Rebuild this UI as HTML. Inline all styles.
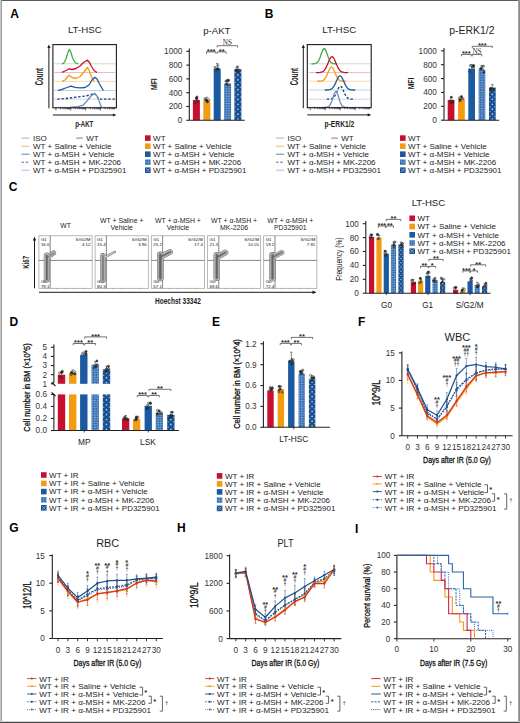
<!DOCTYPE html>
<html><head><meta charset="utf-8"><title>Figure</title><style>html,body{margin:0;padding:0;background:#fff;width:520px;height:723px;overflow:hidden}svg{display:block}</style></head><body>
<svg width="520" height="723" viewBox="0 0 520 723" font-family='"Liberation Sans", sans-serif'>
<defs><pattern id="hatch" patternUnits="userSpaceOnUse" width="2.4" height="2.4" patternTransform="rotate(45)"><rect width="2.4" height="2.4" fill="#7fb0e6"/><rect width="1.2" height="1.2" fill="#1f5494"/><rect x="1.2" y="1.2" width="1.2" height="1.2" fill="#1f5494"/></pattern><pattern id="dots" patternUnits="userSpaceOnUse" width="4" height="4"><rect width="4" height="4" fill="#1a4f8f"/><circle cx="1" cy="1" r="0.6" fill="#e6eef8"/><circle cx="3" cy="3" r="0.6" fill="#e6eef8"/></pattern></defs>
<rect x="0.00" y="0.00" width="520.00" height="723.00" fill="#fff" />
<text transform="translate(10.30,17.90)" font-size="12" text-anchor="start" font-weight="bold" fill="#000" >A</text>
<text x="67.90" y="32.60" font-size="9.8" textLength="33.90" lengthAdjust="spacingAndGlyphs" font-weight="normal" fill="#1e1e1e">LT-HSC</text>
<line x1="54.40" y1="63.80" x2="115.40" y2="63.80" stroke="#b9dcb9" stroke-width="0.9" />
<polyline points="62.00,63.80 64.00,62.80 66.00,59.00 67.80,53.00 69.20,49.40 70.80,52.00 72.60,58.00 75.00,62.50 78.00,63.80" fill="none" stroke="#4aa84a" stroke-width="1.3"  stroke-linejoin="round"/>
<line x1="54.40" y1="72.50" x2="115.40" y2="72.50" stroke="#e7b3bf" stroke-width="0.9" />
<polyline points="62.00,72.40 66.00,70.50 69.00,68.80 72.00,69.50 76.00,68.50 80.00,66.00 83.00,63.00 85.00,61.50 87.50,60.20 89.50,62.50 91.50,66.50 94.00,70.50 97.00,72.50" fill="none" stroke="#c8102e" stroke-width="1.3"  stroke-linejoin="round"/>
<line x1="54.40" y1="81.40" x2="115.40" y2="81.40" stroke="#f7d3a6" stroke-width="0.9" />
<polyline points="62.00,81.30 65.00,80.00 67.00,77.50 69.00,75.30 72.00,77.50 76.00,78.50 80.00,76.50 84.00,72.00 87.50,67.40 89.50,71.00 91.50,77.00 94.00,81.40" fill="none" stroke="#f39c12" stroke-width="1.3"  stroke-linejoin="round"/>
<line x1="54.40" y1="90.50" x2="115.40" y2="90.50" stroke="#b8c9e0" stroke-width="0.9" />
<polyline points="58.00,90.30 62.00,89.30 67.00,87.50 71.00,86.20 75.00,87.30 80.00,87.80 85.00,87.50 89.00,85.00 92.00,80.00 94.80,77.20 97.00,79.00 99.50,84.00 103.40,90.50" fill="none" stroke="#1b5aa0" stroke-width="1.3"  stroke-linejoin="round"/>
<line x1="54.40" y1="99.10" x2="115.40" y2="99.10" stroke="#c5d3e6" stroke-width="0.9" />
<polyline points="57.30,99.10 66.00,98.50 74.00,97.50 82.00,96.50 88.00,95.50 92.00,94.00 94.00,93.00 96.50,95.50 99.00,99.10 104.00,99.10 115.00,99.10" fill="none" stroke="#1a3f73" stroke-width="1.3" stroke-dasharray="2.4,1.8" stroke-linejoin="round"/>
<line x1="54.40" y1="107.30" x2="115.40" y2="107.30" stroke="#b8c9e0" stroke-width="0.9" />
<polyline points="70.00,107.30 78.00,106.60 83.00,105.20 87.00,101.00 91.00,96.00 94.80,93.40 97.00,96.00 99.50,102.00 101.50,107.30" fill="none" stroke="#6b8fbf" stroke-width="1.3"  stroke-linejoin="round"/>
<rect x="52.90" y="44.60" width="63.50" height="63.20" fill="none" stroke="#1a1a1a" stroke-width="1.1"/>
<line x1="48.90" y1="108.30" x2="48.90" y2="47.60" stroke="#1a1a1a" stroke-width="1.0" />
<path d="M47.30,48.10 L48.90,44.60 L50.50,48.10 Z" fill="#1a1a1a"/>
<line x1="52.90" y1="115.00" x2="113.40" y2="115.00" stroke="#1a1a1a" stroke-width="1.0" />
<path d="M112.90,113.40 L116.40,115.00 L112.90,116.60 Z" fill="#1a1a1a"/>
<line x1="55.90" y1="107.80" x2="55.90" y2="110.40" stroke="#222" stroke-width="0.7" />
<line x1="60.38" y1="107.80" x2="60.38" y2="109.30" stroke="#222" stroke-width="0.7" />
<line x1="63.00" y1="107.80" x2="63.00" y2="109.30" stroke="#222" stroke-width="0.7" />
<line x1="64.86" y1="107.80" x2="64.86" y2="109.30" stroke="#222" stroke-width="0.7" />
<line x1="66.30" y1="107.80" x2="66.30" y2="109.30" stroke="#222" stroke-width="0.7" />
<line x1="67.47" y1="107.80" x2="67.47" y2="109.30" stroke="#222" stroke-width="0.7" />
<line x1="68.47" y1="107.80" x2="68.47" y2="109.30" stroke="#222" stroke-width="0.7" />
<line x1="69.33" y1="107.80" x2="69.33" y2="109.30" stroke="#222" stroke-width="0.7" />
<line x1="70.09" y1="107.80" x2="70.09" y2="109.30" stroke="#222" stroke-width="0.7" />
<line x1="70.78" y1="107.80" x2="70.78" y2="110.40" stroke="#222" stroke-width="0.7" />
<line x1="75.25" y1="107.80" x2="75.25" y2="109.30" stroke="#222" stroke-width="0.7" />
<line x1="77.87" y1="107.80" x2="77.87" y2="109.30" stroke="#222" stroke-width="0.7" />
<line x1="79.73" y1="107.80" x2="79.73" y2="109.30" stroke="#222" stroke-width="0.7" />
<line x1="81.17" y1="107.80" x2="81.17" y2="109.30" stroke="#222" stroke-width="0.7" />
<line x1="82.35" y1="107.80" x2="82.35" y2="109.30" stroke="#222" stroke-width="0.7" />
<line x1="83.35" y1="107.80" x2="83.35" y2="109.30" stroke="#222" stroke-width="0.7" />
<line x1="84.21" y1="107.80" x2="84.21" y2="109.30" stroke="#222" stroke-width="0.7" />
<line x1="84.97" y1="107.80" x2="84.97" y2="109.30" stroke="#222" stroke-width="0.7" />
<line x1="85.65" y1="107.80" x2="85.65" y2="110.40" stroke="#222" stroke-width="0.7" />
<line x1="90.13" y1="107.80" x2="90.13" y2="109.30" stroke="#222" stroke-width="0.7" />
<line x1="92.75" y1="107.80" x2="92.75" y2="109.30" stroke="#222" stroke-width="0.7" />
<line x1="94.61" y1="107.80" x2="94.61" y2="109.30" stroke="#222" stroke-width="0.7" />
<line x1="96.05" y1="107.80" x2="96.05" y2="109.30" stroke="#222" stroke-width="0.7" />
<line x1="97.22" y1="107.80" x2="97.22" y2="109.30" stroke="#222" stroke-width="0.7" />
<line x1="98.22" y1="107.80" x2="98.22" y2="109.30" stroke="#222" stroke-width="0.7" />
<line x1="99.08" y1="107.80" x2="99.08" y2="109.30" stroke="#222" stroke-width="0.7" />
<line x1="99.84" y1="107.80" x2="99.84" y2="109.30" stroke="#222" stroke-width="0.7" />
<line x1="100.53" y1="107.80" x2="100.53" y2="110.40" stroke="#222" stroke-width="0.7" />
<line x1="105.00" y1="107.80" x2="105.00" y2="109.30" stroke="#222" stroke-width="0.7" />
<line x1="107.62" y1="107.80" x2="107.62" y2="109.30" stroke="#222" stroke-width="0.7" />
<line x1="109.48" y1="107.80" x2="109.48" y2="109.30" stroke="#222" stroke-width="0.7" />
<line x1="110.92" y1="107.80" x2="110.92" y2="109.30" stroke="#222" stroke-width="0.7" />
<line x1="112.10" y1="107.80" x2="112.10" y2="109.30" stroke="#222" stroke-width="0.7" />
<line x1="113.10" y1="107.80" x2="113.10" y2="109.30" stroke="#222" stroke-width="0.7" />
<line x1="113.96" y1="107.80" x2="113.96" y2="109.30" stroke="#222" stroke-width="0.7" />
<line x1="114.72" y1="107.80" x2="114.72" y2="109.30" stroke="#222" stroke-width="0.7" />
<text transform="translate(84.20,127.13) scale(0.702,1)" font-size="8.6" text-anchor="middle" font-weight="bold" fill="#222" >p-AKT</text>
<text transform="translate(43.20,76.60) rotate(-90) scale(0.596,1)" font-size="10.0" text-anchor="middle" font-weight="bold" fill="#222" >Count</text>
<line x1="189.30" y1="120.30" x2="189.30" y2="48.60" stroke="#222" stroke-width="1.1" />
<line x1="186.30" y1="120.30" x2="189.30" y2="120.30" stroke="#222" stroke-width="1.1" />
<text transform="translate(182.30,123.25)" font-size="8.2" text-anchor="end" font-weight="normal" fill="#333" >0</text>
<line x1="186.30" y1="106.50" x2="189.30" y2="106.50" stroke="#222" stroke-width="1.1" />
<text transform="translate(182.30,109.45)" font-size="8.2" text-anchor="end" font-weight="normal" fill="#333" >200</text>
<line x1="186.30" y1="92.70" x2="189.30" y2="92.70" stroke="#222" stroke-width="1.1" />
<text transform="translate(182.30,95.65)" font-size="8.2" text-anchor="end" font-weight="normal" fill="#333" >400</text>
<line x1="186.30" y1="78.90" x2="189.30" y2="78.90" stroke="#222" stroke-width="1.1" />
<text transform="translate(182.30,81.85)" font-size="8.2" text-anchor="end" font-weight="normal" fill="#333" >600</text>
<line x1="186.30" y1="65.10" x2="189.30" y2="65.10" stroke="#222" stroke-width="1.1" />
<text transform="translate(182.30,68.05)" font-size="8.2" text-anchor="end" font-weight="normal" fill="#333" >800</text>
<line x1="186.30" y1="51.30" x2="189.30" y2="51.30" stroke="#222" stroke-width="1.1" />
<text transform="translate(182.30,54.25)" font-size="8.2" text-anchor="end" font-weight="normal" fill="#333" >1000</text>
<rect x="192.90" y="99.88" width="7.00" height="20.42" fill="#c8102e" />
<line x1="196.40" y1="99.88" x2="196.40" y2="97.38" stroke="#333" stroke-width="0.6" />
<line x1="195.20" y1="97.38" x2="197.60" y2="97.38" stroke="#333" stroke-width="0.6" />
<circle cx="196.72" cy="98.88" r="1.0" fill="#2a2a2a" stroke="#2a2a2a" stroke-width="0.6"/>
<circle cx="196.75" cy="97.32" r="1.0" fill="none" stroke="#2a2a2a" stroke-width="0.6"/>
<path d="M196.70,102.54 L198.90,102.54 L197.80,100.54 Z" fill="none" stroke="#2a2a2a" stroke-width="0.6"/>
<circle cx="197.09" cy="97.00" r="1.0" fill="none" stroke="#2a2a2a" stroke-width="0.6"/>
<circle cx="196.49" cy="98.17" r="1.0" fill="#2a2a2a" stroke="#2a2a2a" stroke-width="0.6"/>
<path d="M194.18,103.45 L196.38,103.45 L195.28,101.45 Z" fill="none" stroke="#2a2a2a" stroke-width="0.6"/>
<rect x="203.30" y="100.29" width="7.00" height="20.01" fill="#f39c12" />
<line x1="206.80" y1="100.29" x2="206.80" y2="97.29" stroke="#333" stroke-width="0.6" />
<line x1="205.60" y1="97.29" x2="208.00" y2="97.29" stroke="#333" stroke-width="0.6" />
<circle cx="206.59" cy="100.21" r="1.0" fill="#2a2a2a" stroke="#2a2a2a" stroke-width="0.6"/>
<circle cx="208.70" cy="99.55" r="1.0" fill="none" stroke="#2a2a2a" stroke-width="0.6"/>
<path d="M205.74,101.30 L207.94,101.30 L206.84,99.30 Z" fill="none" stroke="#2a2a2a" stroke-width="0.6"/>
<circle cx="205.39" cy="99.87" r="1.0" fill="none" stroke="#2a2a2a" stroke-width="0.6"/>
<circle cx="207.38" cy="101.84" r="1.0" fill="#2a2a2a" stroke="#2a2a2a" stroke-width="0.6"/>
<path d="M203.88,99.31 L206.08,99.31 L204.98,97.31 Z" fill="none" stroke="#2a2a2a" stroke-width="0.6"/>
<rect x="213.70" y="68.55" width="7.00" height="51.75" fill="#1b5aa0" />
<line x1="217.20" y1="68.55" x2="217.20" y2="63.55" stroke="#333" stroke-width="0.6" />
<line x1="216.00" y1="63.55" x2="218.40" y2="63.55" stroke="#333" stroke-width="0.6" />
<circle cx="217.09" cy="69.15" r="1.0" fill="#2a2a2a" stroke="#2a2a2a" stroke-width="0.6"/>
<circle cx="217.95" cy="65.55" r="1.0" fill="none" stroke="#2a2a2a" stroke-width="0.6"/>
<path d="M213.91,68.07 L216.11,68.07 L215.01,66.07 Z" fill="none" stroke="#2a2a2a" stroke-width="0.6"/>
<circle cx="216.19" cy="70.22" r="1.0" fill="none" stroke="#2a2a2a" stroke-width="0.6"/>
<circle cx="218.05" cy="68.76" r="1.0" fill="#2a2a2a" stroke="#2a2a2a" stroke-width="0.6"/>
<path d="M216.36,70.08 L218.56,70.08 L217.46,68.08 Z" fill="none" stroke="#2a2a2a" stroke-width="0.6"/>
<rect x="224.10" y="83.38" width="7.00" height="36.92" fill="url(#hatch)" />
<line x1="227.60" y1="83.38" x2="227.60" y2="79.38" stroke="#333" stroke-width="0.6" />
<line x1="226.40" y1="79.38" x2="228.80" y2="79.38" stroke="#333" stroke-width="0.6" />
<circle cx="226.52" cy="84.18" r="1.0" fill="#2a2a2a" stroke="#2a2a2a" stroke-width="0.6"/>
<circle cx="228.42" cy="85.33" r="1.0" fill="none" stroke="#2a2a2a" stroke-width="0.6"/>
<path d="M225.09,81.90 L227.29,81.90 L226.19,79.90 Z" fill="none" stroke="#2a2a2a" stroke-width="0.6"/>
<circle cx="226.02" cy="80.96" r="1.0" fill="none" stroke="#2a2a2a" stroke-width="0.6"/>
<circle cx="228.65" cy="80.30" r="1.0" fill="#2a2a2a" stroke="#2a2a2a" stroke-width="0.6"/>
<path d="M226.64,81.78 L228.84,81.78 L227.74,79.78 Z" fill="none" stroke="#2a2a2a" stroke-width="0.6"/>
<rect x="234.40" y="69.24" width="7.00" height="51.06" fill="#1a4f8f" />
<circle cx="237.90" cy="119.08" r="0.85" fill="#a9cbf2"/>
<circle cx="235.30" cy="116.62" r="0.68" fill="#86afe0"/>
<circle cx="240.50" cy="116.62" r="0.68" fill="#86afe0"/>
<circle cx="237.90" cy="114.17" r="0.85" fill="#a9cbf2"/>
<circle cx="235.30" cy="111.72" r="0.68" fill="#86afe0"/>
<circle cx="240.50" cy="111.72" r="0.68" fill="#86afe0"/>
<circle cx="237.90" cy="109.27" r="0.85" fill="#a9cbf2"/>
<circle cx="235.30" cy="106.82" r="0.68" fill="#86afe0"/>
<circle cx="240.50" cy="106.82" r="0.68" fill="#86afe0"/>
<circle cx="237.90" cy="104.37" r="0.85" fill="#a9cbf2"/>
<circle cx="235.30" cy="101.92" r="0.68" fill="#86afe0"/>
<circle cx="240.50" cy="101.92" r="0.68" fill="#86afe0"/>
<circle cx="237.90" cy="99.47" r="0.85" fill="#a9cbf2"/>
<circle cx="235.30" cy="97.02" r="0.68" fill="#86afe0"/>
<circle cx="240.50" cy="97.02" r="0.68" fill="#86afe0"/>
<circle cx="237.90" cy="94.57" r="0.85" fill="#a9cbf2"/>
<circle cx="235.30" cy="92.12" r="0.68" fill="#86afe0"/>
<circle cx="240.50" cy="92.12" r="0.68" fill="#86afe0"/>
<circle cx="237.90" cy="89.67" r="0.85" fill="#a9cbf2"/>
<circle cx="235.30" cy="87.22" r="0.68" fill="#86afe0"/>
<circle cx="240.50" cy="87.22" r="0.68" fill="#86afe0"/>
<circle cx="237.90" cy="84.77" r="0.85" fill="#a9cbf2"/>
<circle cx="235.30" cy="82.32" r="0.68" fill="#86afe0"/>
<circle cx="240.50" cy="82.32" r="0.68" fill="#86afe0"/>
<circle cx="237.90" cy="79.87" r="0.85" fill="#a9cbf2"/>
<circle cx="235.30" cy="77.42" r="0.68" fill="#86afe0"/>
<circle cx="240.50" cy="77.42" r="0.68" fill="#86afe0"/>
<circle cx="237.90" cy="74.97" r="0.85" fill="#a9cbf2"/>
<circle cx="235.30" cy="72.52" r="0.68" fill="#86afe0"/>
<circle cx="240.50" cy="72.52" r="0.68" fill="#86afe0"/>
<circle cx="237.90" cy="70.07" r="0.85" fill="#a9cbf2"/>
<line x1="237.90" y1="69.24" x2="237.90" y2="66.24" stroke="#333" stroke-width="0.6" />
<line x1="236.70" y1="66.24" x2="239.10" y2="66.24" stroke="#333" stroke-width="0.6" />
<circle cx="236.14" cy="70.16" r="1.0" fill="#2a2a2a" stroke="#2a2a2a" stroke-width="0.6"/>
<circle cx="238.58" cy="71.82" r="1.0" fill="none" stroke="#2a2a2a" stroke-width="0.6"/>
<path d="M235.77,67.93 L237.97,67.93 L236.87,65.93 Z" fill="none" stroke="#2a2a2a" stroke-width="0.6"/>
<circle cx="238.95" cy="69.85" r="1.0" fill="none" stroke="#2a2a2a" stroke-width="0.6"/>
<circle cx="237.02" cy="70.03" r="1.0" fill="#2a2a2a" stroke="#2a2a2a" stroke-width="0.6"/>
<path d="M236.34,71.58 L238.54,71.58 L237.44,69.58 Z" fill="none" stroke="#2a2a2a" stroke-width="0.6"/>
<line x1="189.30" y1="120.30" x2="244.80" y2="120.30" stroke="#222" stroke-width="1.1" />
<text x="203.30" y="33.50" font-size="9.6" textLength="27.10" lengthAdjust="spacingAndGlyphs" font-weight="normal" fill="#1e1e1e">p-AKT</text>
<text transform="translate(157.30,84.15) rotate(-90) scale(0.739,1)" font-size="9.2" text-anchor="middle" font-weight="bold" fill="#222" >MFI</text>
<path d="M206.50,53.70 V51.90 H215.80 V53.70" fill="none" stroke="#3a3a3a" stroke-width="0.7"/>
<text transform="translate(211.15,53.80)" font-size="7.5" text-anchor="middle" font-weight="bold" fill="#2a2a2a" >***</text>
<path d="M217.20,53.70 V51.90 H226.20 V53.70" fill="none" stroke="#3a3a3a" stroke-width="0.7"/>
<text transform="translate(221.70,53.80)" font-size="7.5" text-anchor="middle" font-weight="bold" fill="#2a2a2a" >**</text>
<path d="M217.20,47.50 V45.70 H237.60 V47.50" fill="none" stroke="#3a3a3a" stroke-width="0.7"/>
<text x="227.40" y="45.00" font-size="7.2" text-anchor="middle" fill="#333" font-family="Liberation Serif, serif">NS</text>
<line x1="21.50" y1="138.10" x2="29.50" y2="138.10" stroke="#92c492" stroke-width="1.0" />
<text transform="translate(33.00,141.00)" font-size="8" text-anchor="start" font-weight="normal" fill="#222" >ISO</text>
<line x1="21.50" y1="146.20" x2="29.50" y2="146.20" stroke="#f2b772" stroke-width="1.0" />
<text transform="translate(33.00,149.10)" font-size="8" text-anchor="start" font-weight="normal" fill="#222" >WT + Saline + Vehicle</text>
<line x1="21.50" y1="154.20" x2="29.50" y2="154.20" stroke="#5f7fab" stroke-width="1.0" />
<text transform="translate(33.00,157.10)" font-size="8" text-anchor="start" font-weight="normal" fill="#222" >WT + α-MSH + Vehicle</text>
<line x1="21.50" y1="162.20" x2="29.50" y2="162.20" stroke="#4d6d9c" stroke-width="1.0" stroke-dasharray="2.6,1.6"/>
<text transform="translate(33.00,165.10)" font-size="8" text-anchor="start" font-weight="normal" fill="#222" >WT + α-MSH + MK-2206</text>
<line x1="21.50" y1="170.20" x2="29.50" y2="170.20" stroke="#aebdd3" stroke-width="1.0" />
<text transform="translate(33.00,173.10)" font-size="8" text-anchor="start" font-weight="normal" fill="#222" >WT + α-MSH + PD325901</text>
<line x1="76.30" y1="138.10" x2="82.80" y2="138.10" stroke="#c0607a" stroke-width="1.0" />
<text transform="translate(86.30,141.00)" font-size="8" text-anchor="start" font-weight="normal" fill="#222" >WT</text>
<rect x="145.00" y="135.30" width="5.60" height="5.60" fill="#c8102e" />
<text transform="translate(153.10,140.98)" font-size="8" text-anchor="start" font-weight="normal" fill="#222" >WT</text>
<rect x="145.00" y="143.40" width="5.60" height="5.60" fill="#f39c12" />
<text transform="translate(153.10,149.08)" font-size="8" text-anchor="start" font-weight="normal" fill="#222" >WT + Saline + Vehicle</text>
<rect x="145.00" y="151.40" width="5.60" height="5.60" fill="#1b5aa0" />
<text transform="translate(153.10,157.08)" font-size="8" text-anchor="start" font-weight="normal" fill="#222" >WT + α-MSH + Vehicle</text>
<rect x="145.00" y="159.40" width="5.60" height="5.60" fill="url(#hatch)" />
<text transform="translate(153.10,165.08)" font-size="8" text-anchor="start" font-weight="normal" fill="#222" >WT + α-MSH + MK-2206</text>
<rect x="145.00" y="167.40" width="5.60" height="5.60" fill="#1a4f8f" />
<path d="M145.80,168.20 L149.80,172.20 M149.80,168.20 L145.80,172.20" stroke="#8fb3e0" stroke-width="0.8"/>
<text transform="translate(153.10,173.08)" font-size="8" text-anchor="start" font-weight="normal" fill="#222" >WT + α-MSH + PD325901</text>
<text transform="translate(264.80,17.70)" font-size="12" text-anchor="start" font-weight="bold" fill="#000" >B</text>
<text x="322.20" y="33.00" font-size="9.8" textLength="34.10" lengthAdjust="spacingAndGlyphs" font-weight="normal" fill="#1e1e1e">LT-HSC</text>
<line x1="308.80" y1="63.80" x2="370.20" y2="63.80" stroke="#b9dcb9" stroke-width="0.9" />
<polyline points="311.40,63.80 312.47,63.79 313.53,63.76 314.60,63.67 315.67,63.44 316.73,62.94 317.80,61.96 318.87,60.28 319.93,57.83 321.00,54.78 322.07,51.71 323.13,49.37 324.20,48.50 325.27,49.37 326.33,51.71 327.40,54.78 328.47,57.83 329.53,60.28 330.60,61.96 331.67,62.94 332.73,63.44 333.80,63.67 334.87,63.76 335.93,63.79 337.00,63.80" fill="none" stroke="#4aa84a" stroke-width="1.3"  stroke-linejoin="round"/>
<line x1="308.80" y1="72.60" x2="370.20" y2="72.60" stroke="#e7b3bf" stroke-width="0.9" />
<polyline points="316.00,72.60 317.33,72.59 318.67,72.56 320.00,72.46 321.33,72.23 322.67,71.70 324.00,70.67 325.33,68.92 326.67,66.35 328.00,63.17 329.33,59.95 330.67,57.51 332.00,56.60 333.33,57.51 334.67,59.95 336.00,63.17 337.33,66.35 338.67,68.92 340.00,70.67 341.33,71.70 342.67,72.23 344.00,72.46 345.33,72.56 346.67,72.59 348.00,72.60" fill="none" stroke="#c8102e" stroke-width="1.3"  stroke-linejoin="round"/>
<line x1="308.80" y1="81.20" x2="370.20" y2="81.20" stroke="#f7d3a6" stroke-width="0.9" />
<polyline points="317.10,81.20 318.30,81.19 319.50,81.16 320.70,81.08 321.90,80.87 323.10,80.40 324.30,79.49 325.50,77.93 326.70,75.65 327.90,72.83 329.10,69.97 330.30,67.81 331.50,67.00 332.70,67.81 333.90,69.97 335.10,72.83 336.30,75.65 337.50,77.93 338.70,79.49 339.90,80.40 341.10,80.87 342.30,81.08 343.50,81.16 344.70,81.19 345.90,81.20" fill="none" stroke="#f39c12" stroke-width="1.3"  stroke-linejoin="round"/>
<line x1="308.80" y1="90.00" x2="370.20" y2="90.00" stroke="#b8c9e0" stroke-width="0.9" />
<polyline points="324.80,90.00 326.07,89.99 327.33,89.96 328.60,89.88 329.87,89.67 331.13,89.20 332.40,88.28 333.67,86.71 334.93,84.42 336.20,81.57 337.47,78.70 338.73,76.52 340.00,75.70 341.27,76.52 342.53,78.70 343.80,81.57 345.07,84.42 346.33,86.71 347.60,88.28 348.87,89.20 350.13,89.67 351.40,89.88 352.67,89.96 353.93,89.99 355.20,90.00" fill="none" stroke="#1b5aa0" stroke-width="1.3"  stroke-linejoin="round"/>
<line x1="308.80" y1="99.20" x2="370.20" y2="99.20" stroke="#c5d3e6" stroke-width="0.9" />
<polyline points="326.80,99.20 327.93,99.19 329.07,99.16 330.20,99.09 331.33,98.90 332.47,98.47 333.60,97.63 334.73,96.21 335.87,94.12 337.00,91.54 338.13,88.92 339.27,86.94 340.40,86.20 341.53,86.94 342.67,88.92 343.80,91.54 344.93,94.12 346.07,96.21 347.20,97.63 348.33,98.47 349.47,98.90 350.60,99.09 351.73,99.16 352.87,99.19 354.00,99.20" fill="none" stroke="#1a3f73" stroke-width="1.3" stroke-dasharray="2.4,1.8" stroke-linejoin="round"/>
<line x1="308.80" y1="107.30" x2="370.20" y2="107.30" stroke="#b8c9e0" stroke-width="0.9" />
<polyline points="323.80,107.30 324.80,107.29 325.80,107.26 326.80,107.16 327.80,106.93 328.80,106.41 329.80,105.40 330.80,103.66 331.80,101.13 332.80,97.99 333.80,94.81 334.80,92.40 335.80,91.50 336.80,92.40 337.80,94.81 338.80,97.99 339.80,101.13 340.80,103.66 341.80,105.40 342.80,106.41 343.80,106.93 344.80,107.16 345.80,107.26 346.80,107.29 347.80,107.30" fill="none" stroke="#6b8fbf" stroke-width="1.3"  stroke-linejoin="round"/>
<rect x="307.30" y="44.60" width="63.90" height="63.10" fill="none" stroke="#1a1a1a" stroke-width="1.1"/>
<line x1="303.30" y1="108.20" x2="303.30" y2="47.60" stroke="#1a1a1a" stroke-width="1.0" />
<path d="M301.70,48.10 L303.30,44.60 L304.90,48.10 Z" fill="#1a1a1a"/>
<line x1="307.30" y1="114.90" x2="368.20" y2="114.90" stroke="#1a1a1a" stroke-width="1.0" />
<path d="M367.70,113.30 L371.20,114.90 L367.70,116.50 Z" fill="#1a1a1a"/>
<line x1="310.30" y1="107.70" x2="310.30" y2="110.30" stroke="#222" stroke-width="0.7" />
<line x1="314.81" y1="107.70" x2="314.81" y2="109.20" stroke="#222" stroke-width="0.7" />
<line x1="317.44" y1="107.70" x2="317.44" y2="109.20" stroke="#222" stroke-width="0.7" />
<line x1="319.32" y1="107.70" x2="319.32" y2="109.20" stroke="#222" stroke-width="0.7" />
<line x1="320.77" y1="107.70" x2="320.77" y2="109.20" stroke="#222" stroke-width="0.7" />
<line x1="321.95" y1="107.70" x2="321.95" y2="109.20" stroke="#222" stroke-width="0.7" />
<line x1="322.96" y1="107.70" x2="322.96" y2="109.20" stroke="#222" stroke-width="0.7" />
<line x1="323.82" y1="107.70" x2="323.82" y2="109.20" stroke="#222" stroke-width="0.7" />
<line x1="324.59" y1="107.70" x2="324.59" y2="109.20" stroke="#222" stroke-width="0.7" />
<line x1="325.27" y1="107.70" x2="325.27" y2="110.30" stroke="#222" stroke-width="0.7" />
<line x1="329.78" y1="107.70" x2="329.78" y2="109.20" stroke="#222" stroke-width="0.7" />
<line x1="332.42" y1="107.70" x2="332.42" y2="109.20" stroke="#222" stroke-width="0.7" />
<line x1="334.29" y1="107.70" x2="334.29" y2="109.20" stroke="#222" stroke-width="0.7" />
<line x1="335.74" y1="107.70" x2="335.74" y2="109.20" stroke="#222" stroke-width="0.7" />
<line x1="336.93" y1="107.70" x2="336.93" y2="109.20" stroke="#222" stroke-width="0.7" />
<line x1="337.93" y1="107.70" x2="337.93" y2="109.20" stroke="#222" stroke-width="0.7" />
<line x1="338.80" y1="107.70" x2="338.80" y2="109.20" stroke="#222" stroke-width="0.7" />
<line x1="339.56" y1="107.70" x2="339.56" y2="109.20" stroke="#222" stroke-width="0.7" />
<line x1="340.25" y1="107.70" x2="340.25" y2="110.30" stroke="#222" stroke-width="0.7" />
<line x1="344.76" y1="107.70" x2="344.76" y2="109.20" stroke="#222" stroke-width="0.7" />
<line x1="347.39" y1="107.70" x2="347.39" y2="109.20" stroke="#222" stroke-width="0.7" />
<line x1="349.27" y1="107.70" x2="349.27" y2="109.20" stroke="#222" stroke-width="0.7" />
<line x1="350.72" y1="107.70" x2="350.72" y2="109.20" stroke="#222" stroke-width="0.7" />
<line x1="351.90" y1="107.70" x2="351.90" y2="109.20" stroke="#222" stroke-width="0.7" />
<line x1="352.91" y1="107.70" x2="352.91" y2="109.20" stroke="#222" stroke-width="0.7" />
<line x1="353.77" y1="107.70" x2="353.77" y2="109.20" stroke="#222" stroke-width="0.7" />
<line x1="354.54" y1="107.70" x2="354.54" y2="109.20" stroke="#222" stroke-width="0.7" />
<line x1="355.23" y1="107.70" x2="355.23" y2="110.30" stroke="#222" stroke-width="0.7" />
<line x1="359.73" y1="107.70" x2="359.73" y2="109.20" stroke="#222" stroke-width="0.7" />
<line x1="362.37" y1="107.70" x2="362.37" y2="109.20" stroke="#222" stroke-width="0.7" />
<line x1="364.24" y1="107.70" x2="364.24" y2="109.20" stroke="#222" stroke-width="0.7" />
<line x1="365.69" y1="107.70" x2="365.69" y2="109.20" stroke="#222" stroke-width="0.7" />
<line x1="366.88" y1="107.70" x2="366.88" y2="109.20" stroke="#222" stroke-width="0.7" />
<line x1="367.88" y1="107.70" x2="367.88" y2="109.20" stroke="#222" stroke-width="0.7" />
<line x1="368.75" y1="107.70" x2="368.75" y2="109.20" stroke="#222" stroke-width="0.7" />
<line x1="369.51" y1="107.70" x2="369.51" y2="109.20" stroke="#222" stroke-width="0.7" />
<text transform="translate(339.40,127.13) scale(0.777,1)" font-size="8.6" text-anchor="middle" font-weight="bold" fill="#222" >p-ERK1/2</text>
<text transform="translate(297.69,76.60) rotate(-90) scale(0.596,1)" font-size="10.0" text-anchor="middle" font-weight="bold" fill="#222" >Count</text>
<line x1="444.00" y1="120.20" x2="444.00" y2="48.10" stroke="#222" stroke-width="1.1" />
<line x1="441.00" y1="120.20" x2="444.00" y2="120.20" stroke="#222" stroke-width="1.1" />
<text transform="translate(436.80,123.15)" font-size="8.2" text-anchor="end" font-weight="normal" fill="#333" >0</text>
<line x1="441.00" y1="106.32" x2="444.00" y2="106.32" stroke="#222" stroke-width="1.1" />
<text transform="translate(436.80,109.27)" font-size="8.2" text-anchor="end" font-weight="normal" fill="#333" >200</text>
<line x1="441.00" y1="92.44" x2="444.00" y2="92.44" stroke="#222" stroke-width="1.1" />
<text transform="translate(436.80,95.39)" font-size="8.2" text-anchor="end" font-weight="normal" fill="#333" >400</text>
<line x1="441.00" y1="78.56" x2="444.00" y2="78.56" stroke="#222" stroke-width="1.1" />
<text transform="translate(436.80,81.51)" font-size="8.2" text-anchor="end" font-weight="normal" fill="#333" >600</text>
<line x1="441.00" y1="64.68" x2="444.00" y2="64.68" stroke="#222" stroke-width="1.1" />
<text transform="translate(436.80,67.63)" font-size="8.2" text-anchor="end" font-weight="normal" fill="#333" >800</text>
<line x1="441.00" y1="50.80" x2="444.00" y2="50.80" stroke="#222" stroke-width="1.1" />
<text transform="translate(436.80,53.75)" font-size="8.2" text-anchor="end" font-weight="normal" fill="#333" >1000</text>
<rect x="447.70" y="100.07" width="6.70" height="20.13" fill="#c8102e" />
<line x1="451.05" y1="100.07" x2="451.05" y2="97.07" stroke="#333" stroke-width="0.6" />
<line x1="449.85" y1="97.07" x2="452.25" y2="97.07" stroke="#333" stroke-width="0.6" />
<circle cx="452.79" cy="100.88" r="1.0" fill="#2a2a2a" stroke="#2a2a2a" stroke-width="0.6"/>
<circle cx="452.19" cy="102.41" r="1.0" fill="none" stroke="#2a2a2a" stroke-width="0.6"/>
<path d="M448.92,101.42 L451.12,101.42 L450.02,99.42 Z" fill="none" stroke="#2a2a2a" stroke-width="0.6"/>
<circle cx="452.79" cy="102.18" r="1.0" fill="none" stroke="#2a2a2a" stroke-width="0.6"/>
<circle cx="451.36" cy="97.26" r="1.0" fill="#2a2a2a" stroke="#2a2a2a" stroke-width="0.6"/>
<path d="M449.57,103.93 L451.77,103.93 L450.67,101.93 Z" fill="none" stroke="#2a2a2a" stroke-width="0.6"/>
<rect x="458.10" y="99.03" width="6.70" height="21.17" fill="#f39c12" />
<line x1="461.45" y1="99.03" x2="461.45" y2="96.03" stroke="#333" stroke-width="0.6" />
<line x1="460.25" y1="96.03" x2="462.65" y2="96.03" stroke="#333" stroke-width="0.6" />
<circle cx="460.01" cy="99.86" r="1.0" fill="#2a2a2a" stroke="#2a2a2a" stroke-width="0.6"/>
<circle cx="462.03" cy="98.39" r="1.0" fill="none" stroke="#2a2a2a" stroke-width="0.6"/>
<path d="M459.13,101.48 L461.33,101.48 L460.23,99.48 Z" fill="none" stroke="#2a2a2a" stroke-width="0.6"/>
<circle cx="462.77" cy="98.62" r="1.0" fill="none" stroke="#2a2a2a" stroke-width="0.6"/>
<circle cx="461.47" cy="96.69" r="1.0" fill="#2a2a2a" stroke="#2a2a2a" stroke-width="0.6"/>
<path d="M458.22,98.53 L460.42,98.53 L459.32,96.53 Z" fill="none" stroke="#2a2a2a" stroke-width="0.6"/>
<rect x="468.30" y="68.50" width="6.70" height="51.70" fill="#1b5aa0" />
<line x1="471.65" y1="68.50" x2="471.65" y2="64.50" stroke="#333" stroke-width="0.6" />
<line x1="470.45" y1="64.50" x2="472.85" y2="64.50" stroke="#333" stroke-width="0.6" />
<circle cx="473.61" cy="65.48" r="1.0" fill="#2a2a2a" stroke="#2a2a2a" stroke-width="0.6"/>
<circle cx="469.61" cy="71.49" r="1.0" fill="none" stroke="#2a2a2a" stroke-width="0.6"/>
<path d="M469.20,66.24 L471.40,66.24 L470.30,64.24 Z" fill="none" stroke="#2a2a2a" stroke-width="0.6"/>
<circle cx="472.30" cy="66.92" r="1.0" fill="none" stroke="#2a2a2a" stroke-width="0.6"/>
<circle cx="473.32" cy="66.12" r="1.0" fill="#2a2a2a" stroke="#2a2a2a" stroke-width="0.6"/>
<path d="M472.52,67.63 L474.72,67.63 L473.62,65.63 Z" fill="none" stroke="#2a2a2a" stroke-width="0.6"/>
<rect x="478.60" y="69.54" width="6.70" height="50.66" fill="url(#hatch)" />
<line x1="481.95" y1="69.54" x2="481.95" y2="65.54" stroke="#333" stroke-width="0.6" />
<line x1="480.75" y1="65.54" x2="483.15" y2="65.54" stroke="#333" stroke-width="0.6" />
<circle cx="483.77" cy="72.18" r="1.0" fill="#2a2a2a" stroke="#2a2a2a" stroke-width="0.6"/>
<circle cx="483.63" cy="66.12" r="1.0" fill="none" stroke="#2a2a2a" stroke-width="0.6"/>
<path d="M481.24,69.40 L483.44,69.40 L482.34,67.40 Z" fill="none" stroke="#2a2a2a" stroke-width="0.6"/>
<circle cx="482.08" cy="66.45" r="1.0" fill="none" stroke="#2a2a2a" stroke-width="0.6"/>
<circle cx="480.63" cy="68.65" r="1.0" fill="#2a2a2a" stroke="#2a2a2a" stroke-width="0.6"/>
<path d="M479.65,69.62 L481.85,69.62 L480.75,67.62 Z" fill="none" stroke="#2a2a2a" stroke-width="0.6"/>
<rect x="489.00" y="87.58" width="6.70" height="32.62" fill="#1a4f8f" />
<circle cx="492.35" cy="118.98" r="0.85" fill="#a9cbf2"/>
<circle cx="489.90" cy="116.53" r="0.68" fill="#86afe0"/>
<circle cx="494.80" cy="116.53" r="0.68" fill="#86afe0"/>
<circle cx="492.35" cy="114.08" r="0.85" fill="#a9cbf2"/>
<circle cx="489.90" cy="111.62" r="0.68" fill="#86afe0"/>
<circle cx="494.80" cy="111.62" r="0.68" fill="#86afe0"/>
<circle cx="492.35" cy="109.17" r="0.85" fill="#a9cbf2"/>
<circle cx="489.90" cy="106.72" r="0.68" fill="#86afe0"/>
<circle cx="494.80" cy="106.72" r="0.68" fill="#86afe0"/>
<circle cx="492.35" cy="104.27" r="0.85" fill="#a9cbf2"/>
<circle cx="489.90" cy="101.82" r="0.68" fill="#86afe0"/>
<circle cx="494.80" cy="101.82" r="0.68" fill="#86afe0"/>
<circle cx="492.35" cy="99.37" r="0.85" fill="#a9cbf2"/>
<circle cx="489.90" cy="96.92" r="0.68" fill="#86afe0"/>
<circle cx="494.80" cy="96.92" r="0.68" fill="#86afe0"/>
<circle cx="492.35" cy="94.47" r="0.85" fill="#a9cbf2"/>
<circle cx="489.90" cy="92.02" r="0.68" fill="#86afe0"/>
<circle cx="494.80" cy="92.02" r="0.68" fill="#86afe0"/>
<circle cx="492.35" cy="89.57" r="0.85" fill="#a9cbf2"/>
<line x1="492.35" y1="87.58" x2="492.35" y2="84.58" stroke="#333" stroke-width="0.6" />
<line x1="491.15" y1="84.58" x2="493.55" y2="84.58" stroke="#333" stroke-width="0.6" />
<circle cx="493.26" cy="89.46" r="1.0" fill="#2a2a2a" stroke="#2a2a2a" stroke-width="0.6"/>
<circle cx="490.99" cy="90.57" r="1.0" fill="none" stroke="#2a2a2a" stroke-width="0.6"/>
<path d="M489.94,89.18 L492.14,89.18 L491.04,87.18 Z" fill="none" stroke="#2a2a2a" stroke-width="0.6"/>
<circle cx="490.60" cy="88.89" r="1.0" fill="none" stroke="#2a2a2a" stroke-width="0.6"/>
<circle cx="490.85" cy="88.53" r="1.0" fill="#2a2a2a" stroke="#2a2a2a" stroke-width="0.6"/>
<path d="M492.21,89.84 L494.41,89.84 L493.31,87.84 Z" fill="none" stroke="#2a2a2a" stroke-width="0.6"/>
<line x1="444.00" y1="120.20" x2="499.20" y2="120.20" stroke="#222" stroke-width="1.1" />
<text x="449.30" y="33.50" font-size="10.0" textLength="45.20" lengthAdjust="spacingAndGlyphs" font-weight="normal" fill="#1e1e1e">p-ERK1/2</text>
<text transform="translate(413.95,83.50) rotate(-90) scale(0.739,1)" font-size="9.2" text-anchor="middle" font-weight="bold" fill="#222" >MFI</text>
<path d="M461.40,56.30 V54.50 H471.20 V56.30" fill="none" stroke="#3a3a3a" stroke-width="0.7"/>
<text transform="translate(466.30,56.40)" font-size="7.5" text-anchor="middle" font-weight="bold" fill="#2a2a2a" >***</text>
<path d="M472.30,56.30 V54.50 H481.70 V56.30" fill="none" stroke="#3a3a3a" stroke-width="0.7"/>
<text x="477.00" y="53.80" font-size="7.2" text-anchor="middle" fill="#333" font-family="Liberation Serif, serif">NS</text>
<path d="M472.30,48.10 V46.30 H492.30 V48.10" fill="none" stroke="#3a3a3a" stroke-width="0.7"/>
<text transform="translate(482.30,48.20)" font-size="7.5" text-anchor="middle" font-weight="bold" fill="#2a2a2a" >***</text>
<line x1="276.00" y1="138.10" x2="284.00" y2="138.10" stroke="#92c492" stroke-width="1.0" />
<text transform="translate(287.50,141.00)" font-size="8" text-anchor="start" font-weight="normal" fill="#222" >ISO</text>
<line x1="276.00" y1="146.20" x2="284.00" y2="146.20" stroke="#f2b772" stroke-width="1.0" />
<text transform="translate(287.50,149.10)" font-size="8" text-anchor="start" font-weight="normal" fill="#222" >WT + Saline + Vehicle</text>
<line x1="276.00" y1="154.20" x2="284.00" y2="154.20" stroke="#5f7fab" stroke-width="1.0" />
<text transform="translate(287.50,157.10)" font-size="8" text-anchor="start" font-weight="normal" fill="#222" >WT + α-MSH + Vehicle</text>
<line x1="276.00" y1="162.20" x2="284.00" y2="162.20" stroke="#4d6d9c" stroke-width="1.0" stroke-dasharray="2.6,1.6"/>
<text transform="translate(287.50,165.10)" font-size="8" text-anchor="start" font-weight="normal" fill="#222" >WT + α-MSH + MK-2206</text>
<line x1="276.00" y1="170.20" x2="284.00" y2="170.20" stroke="#aebdd3" stroke-width="1.0" />
<text transform="translate(287.50,173.10)" font-size="8" text-anchor="start" font-weight="normal" fill="#222" >WT + α-MSH + PD325901</text>
<line x1="331.30" y1="138.10" x2="337.80" y2="138.10" stroke="#c0607a" stroke-width="1.0" />
<text transform="translate(341.30,141.00)" font-size="8" text-anchor="start" font-weight="normal" fill="#222" >WT</text>
<rect x="400.00" y="135.30" width="5.60" height="5.60" fill="#c8102e" />
<text transform="translate(408.10,140.98)" font-size="8" text-anchor="start" font-weight="normal" fill="#222" >WT</text>
<rect x="400.00" y="143.40" width="5.60" height="5.60" fill="#f39c12" />
<text transform="translate(408.10,149.08)" font-size="8" text-anchor="start" font-weight="normal" fill="#222" >WT + Saline + Vehicle</text>
<rect x="400.00" y="151.40" width="5.60" height="5.60" fill="#1b5aa0" />
<text transform="translate(408.10,157.08)" font-size="8" text-anchor="start" font-weight="normal" fill="#222" >WT + α-MSH + Vehicle</text>
<rect x="400.00" y="159.40" width="5.60" height="5.60" fill="url(#hatch)" />
<text transform="translate(408.10,165.08)" font-size="8" text-anchor="start" font-weight="normal" fill="#222" >WT + α-MSH + MK-2206</text>
<rect x="400.00" y="167.40" width="5.60" height="5.60" fill="#1a4f8f" />
<path d="M400.80,168.20 L404.80,172.20 M404.80,168.20 L400.80,172.20" stroke="#8fb3e0" stroke-width="0.8"/>
<text transform="translate(408.10,173.08)" font-size="8" text-anchor="start" font-weight="normal" fill="#222" >WT + α-MSH + PD325901</text>
<text transform="translate(8.80,191.00)" font-size="12" text-anchor="start" font-weight="bold" fill="#000" >C</text>
<text transform="translate(65.50,228.20)" font-size="6.9" text-anchor="middle" font-weight="normal" fill="#222" >WT</text>
<rect x="38.90" y="235.80" width="53.20" height="52.50" fill="none" stroke="#9a9a9a" stroke-width="0.7"/>
<line x1="50.20" y1="235.80" x2="50.20" y2="288.30" stroke="#555" stroke-width="0.7" />
<line x1="38.90" y1="260.40" x2="92.10" y2="260.40" stroke="#555" stroke-width="0.7" />
<line x1="47.77" y1="288.30" x2="47.77" y2="289.30" stroke="#777" stroke-width="0.4" />
<line x1="56.63" y1="288.30" x2="56.63" y2="289.30" stroke="#777" stroke-width="0.4" />
<line x1="65.50" y1="288.30" x2="65.50" y2="289.30" stroke="#777" stroke-width="0.4" />
<line x1="74.37" y1="288.30" x2="74.37" y2="289.30" stroke="#777" stroke-width="0.4" />
<line x1="83.23" y1="288.30" x2="83.23" y2="289.30" stroke="#777" stroke-width="0.4" />
<text transform="translate(40.90,241.30)" font-size="4.4" text-anchor="start" font-weight="normal" fill="#111" >G1</text>
<text transform="translate(40.90,245.80)" font-size="4.4" text-anchor="start" font-weight="normal" fill="#111" >16.6</text>
<text transform="translate(90.50,241.30)" font-size="4.4" text-anchor="end" font-weight="normal" fill="#111" >S/G2/M</text>
<text transform="translate(90.50,245.80)" font-size="4.4" text-anchor="end" font-weight="normal" fill="#111" >4.12</text>
<text transform="translate(40.90,283.30)" font-size="4.4" text-anchor="start" font-weight="normal" fill="#111" >G0</text>
<text transform="translate(40.90,287.60)" font-size="4.4" text-anchor="start" font-weight="normal" fill="#111" >79.1</text>
<line x1="46.80" y1="255.40" x2="46.80" y2="279.40" stroke="#6a6a6a" stroke-width="6.00" stroke-linecap="round"/>
<line x1="47.58" y1="257.30" x2="53.60" y2="253.00" stroke="#6a6a6a" stroke-width="5.00" stroke-linecap="round"/>
<line x1="46.80" y1="255.40" x2="46.80" y2="279.40" stroke="#dadada" stroke-width="4.90" stroke-linecap="round"/>
<line x1="47.58" y1="257.30" x2="53.60" y2="253.00" stroke="#dadada" stroke-width="3.90" stroke-linecap="round"/>
<line x1="46.80" y1="255.40" x2="46.80" y2="279.40" stroke="#858585" stroke-width="3.80" stroke-linecap="round"/>
<line x1="47.58" y1="257.30" x2="53.60" y2="253.00" stroke="#858585" stroke-width="2.80" stroke-linecap="round"/>
<line x1="46.80" y1="255.40" x2="46.80" y2="279.40" stroke="#cacaca" stroke-width="2.90" stroke-linecap="round"/>
<line x1="47.58" y1="257.30" x2="53.60" y2="253.00" stroke="#cacaca" stroke-width="1.90" stroke-linecap="round"/>
<line x1="46.80" y1="255.40" x2="46.80" y2="279.40" stroke="#666666" stroke-width="2.00" stroke-linecap="round"/>
<line x1="47.58" y1="257.30" x2="53.60" y2="253.00" stroke="#666666" stroke-width="1.00" stroke-linecap="round"/>
<text transform="translate(121.70,222.70)" font-size="6.9" text-anchor="middle" font-weight="normal" fill="#222" >WT + Saline +</text>
<text transform="translate(121.70,230.40)" font-size="6.9" text-anchor="middle" font-weight="normal" fill="#222" >Vehicle</text>
<rect x="95.10" y="235.80" width="53.20" height="52.50" fill="none" stroke="#9a9a9a" stroke-width="0.7"/>
<line x1="106.40" y1="235.80" x2="106.40" y2="288.30" stroke="#555" stroke-width="0.7" />
<line x1="95.10" y1="260.40" x2="148.30" y2="260.40" stroke="#555" stroke-width="0.7" />
<line x1="103.97" y1="288.30" x2="103.97" y2="289.30" stroke="#777" stroke-width="0.4" />
<line x1="112.83" y1="288.30" x2="112.83" y2="289.30" stroke="#777" stroke-width="0.4" />
<line x1="121.70" y1="288.30" x2="121.70" y2="289.30" stroke="#777" stroke-width="0.4" />
<line x1="130.57" y1="288.30" x2="130.57" y2="289.30" stroke="#777" stroke-width="0.4" />
<line x1="139.43" y1="288.30" x2="139.43" y2="289.30" stroke="#777" stroke-width="0.4" />
<text transform="translate(97.10,241.30)" font-size="4.4" text-anchor="start" font-weight="normal" fill="#111" >G1</text>
<text transform="translate(97.10,245.80)" font-size="4.4" text-anchor="start" font-weight="normal" fill="#111" >15.4</text>
<text transform="translate(146.70,241.30)" font-size="4.4" text-anchor="end" font-weight="normal" fill="#111" >S/G2/M</text>
<text transform="translate(146.70,245.80)" font-size="4.4" text-anchor="end" font-weight="normal" fill="#111" >3.96</text>
<text transform="translate(97.10,283.30)" font-size="4.4" text-anchor="start" font-weight="normal" fill="#111" >G0</text>
<text transform="translate(97.10,287.60)" font-size="4.4" text-anchor="start" font-weight="normal" fill="#111" >80.3</text>
<line x1="103.00" y1="255.80" x2="103.00" y2="280.20" stroke="#6a6a6a" stroke-width="5.40" stroke-linecap="round"/>
<line x1="103.69" y1="258.00" x2="114.90" y2="251.80" stroke="#6a6a6a" stroke-width="2.20" stroke-linecap="round"/>
<line x1="103.00" y1="255.80" x2="103.00" y2="280.20" stroke="#dadada" stroke-width="4.30" stroke-linecap="round"/>
<line x1="103.69" y1="258.00" x2="114.90" y2="251.80" stroke="#dadada" stroke-width="1.10" stroke-linecap="round"/>
<line x1="103.00" y1="255.80" x2="103.00" y2="280.20" stroke="#858585" stroke-width="3.20" stroke-linecap="round"/>
<line x1="103.00" y1="255.80" x2="103.00" y2="280.20" stroke="#cacaca" stroke-width="2.30" stroke-linecap="round"/>
<line x1="103.00" y1="255.80" x2="103.00" y2="280.20" stroke="#666666" stroke-width="1.40" stroke-linecap="round"/>
<text transform="translate(177.90,222.70)" font-size="6.9" text-anchor="middle" font-weight="normal" fill="#222" >WT + α-MSH +</text>
<text transform="translate(177.90,230.40)" font-size="6.9" text-anchor="middle" font-weight="normal" fill="#222" >Vehicle</text>
<rect x="151.30" y="235.80" width="53.20" height="52.50" fill="none" stroke="#9a9a9a" stroke-width="0.7"/>
<line x1="162.60" y1="235.80" x2="162.60" y2="288.30" stroke="#555" stroke-width="0.7" />
<line x1="151.30" y1="260.40" x2="204.50" y2="260.40" stroke="#555" stroke-width="0.7" />
<line x1="160.17" y1="288.30" x2="160.17" y2="289.30" stroke="#777" stroke-width="0.4" />
<line x1="169.03" y1="288.30" x2="169.03" y2="289.30" stroke="#777" stroke-width="0.4" />
<line x1="177.90" y1="288.30" x2="177.90" y2="289.30" stroke="#777" stroke-width="0.4" />
<line x1="186.77" y1="288.30" x2="186.77" y2="289.30" stroke="#777" stroke-width="0.4" />
<line x1="195.63" y1="288.30" x2="195.63" y2="289.30" stroke="#777" stroke-width="0.4" />
<text transform="translate(153.30,241.30)" font-size="4.4" text-anchor="start" font-weight="normal" fill="#111" >G1</text>
<text transform="translate(153.30,245.80)" font-size="4.4" text-anchor="start" font-weight="normal" fill="#111" >25.2</text>
<text transform="translate(202.90,241.30)" font-size="4.4" text-anchor="end" font-weight="normal" fill="#111" >S/G2/M</text>
<text transform="translate(202.90,245.80)" font-size="4.4" text-anchor="end" font-weight="normal" fill="#111" >17.4</text>
<text transform="translate(153.30,283.30)" font-size="4.4" text-anchor="start" font-weight="normal" fill="#111" >G0</text>
<text transform="translate(153.30,287.60)" font-size="4.4" text-anchor="start" font-weight="normal" fill="#111" >57.1</text>
<line x1="160.40" y1="254.90" x2="160.40" y2="278.10" stroke="#6a6a6a" stroke-width="6.60" stroke-linecap="round"/>
<line x1="161.27" y1="256.50" x2="170.00" y2="252.00" stroke="#6a6a6a" stroke-width="5.80" stroke-linecap="round"/>
<line x1="160.40" y1="254.90" x2="160.40" y2="278.10" stroke="#dadada" stroke-width="5.50" stroke-linecap="round"/>
<line x1="161.27" y1="256.50" x2="170.00" y2="252.00" stroke="#dadada" stroke-width="4.70" stroke-linecap="round"/>
<line x1="160.40" y1="254.90" x2="160.40" y2="278.10" stroke="#858585" stroke-width="4.40" stroke-linecap="round"/>
<line x1="161.27" y1="256.50" x2="170.00" y2="252.00" stroke="#858585" stroke-width="3.60" stroke-linecap="round"/>
<line x1="160.40" y1="254.90" x2="160.40" y2="278.10" stroke="#cacaca" stroke-width="3.50" stroke-linecap="round"/>
<line x1="161.27" y1="256.50" x2="170.00" y2="252.00" stroke="#cacaca" stroke-width="2.70" stroke-linecap="round"/>
<line x1="160.40" y1="254.90" x2="160.40" y2="278.10" stroke="#666666" stroke-width="2.60" stroke-linecap="round"/>
<line x1="161.27" y1="256.50" x2="170.00" y2="252.00" stroke="#666666" stroke-width="1.80" stroke-linecap="round"/>
<text transform="translate(234.10,222.70)" font-size="6.9" text-anchor="middle" font-weight="normal" fill="#222" >WT + α-MSH +</text>
<text transform="translate(234.10,230.40)" font-size="6.9" text-anchor="middle" font-weight="normal" fill="#222" >MK-2206</text>
<rect x="207.50" y="235.80" width="53.20" height="52.50" fill="none" stroke="#9a9a9a" stroke-width="0.7"/>
<line x1="218.80" y1="235.80" x2="218.80" y2="288.30" stroke="#555" stroke-width="0.7" />
<line x1="207.50" y1="260.40" x2="260.70" y2="260.40" stroke="#555" stroke-width="0.7" />
<line x1="216.37" y1="288.30" x2="216.37" y2="289.30" stroke="#777" stroke-width="0.4" />
<line x1="225.23" y1="288.30" x2="225.23" y2="289.30" stroke="#777" stroke-width="0.4" />
<line x1="234.10" y1="288.30" x2="234.10" y2="289.30" stroke="#777" stroke-width="0.4" />
<line x1="242.97" y1="288.30" x2="242.97" y2="289.30" stroke="#777" stroke-width="0.4" />
<line x1="251.83" y1="288.30" x2="251.83" y2="289.30" stroke="#777" stroke-width="0.4" />
<text transform="translate(209.50,241.30)" font-size="4.4" text-anchor="start" font-weight="normal" fill="#111" >G1</text>
<text transform="translate(209.50,245.80)" font-size="4.4" text-anchor="start" font-weight="normal" fill="#111" >21.3</text>
<text transform="translate(259.10,241.30)" font-size="4.4" text-anchor="end" font-weight="normal" fill="#111" >S/G2/M</text>
<text transform="translate(259.10,245.80)" font-size="4.4" text-anchor="end" font-weight="normal" fill="#111" >10.01</text>
<text transform="translate(209.50,283.30)" font-size="4.4" text-anchor="start" font-weight="normal" fill="#111" >G0</text>
<text transform="translate(209.50,287.60)" font-size="4.4" text-anchor="start" font-weight="normal" fill="#111" >68.6</text>
<line x1="216.70" y1="255.20" x2="216.70" y2="277.70" stroke="#6a6a6a" stroke-width="6.40" stroke-linecap="round"/>
<line x1="217.54" y1="256.90" x2="225.40" y2="252.50" stroke="#6a6a6a" stroke-width="5.80" stroke-linecap="round"/>
<line x1="216.70" y1="255.20" x2="216.70" y2="277.70" stroke="#dadada" stroke-width="5.30" stroke-linecap="round"/>
<line x1="217.54" y1="256.90" x2="225.40" y2="252.50" stroke="#dadada" stroke-width="4.70" stroke-linecap="round"/>
<line x1="216.70" y1="255.20" x2="216.70" y2="277.70" stroke="#858585" stroke-width="4.20" stroke-linecap="round"/>
<line x1="217.54" y1="256.90" x2="225.40" y2="252.50" stroke="#858585" stroke-width="3.60" stroke-linecap="round"/>
<line x1="216.70" y1="255.20" x2="216.70" y2="277.70" stroke="#cacaca" stroke-width="3.30" stroke-linecap="round"/>
<line x1="217.54" y1="256.90" x2="225.40" y2="252.50" stroke="#cacaca" stroke-width="2.70" stroke-linecap="round"/>
<line x1="216.70" y1="255.20" x2="216.70" y2="277.70" stroke="#666666" stroke-width="2.40" stroke-linecap="round"/>
<line x1="217.54" y1="256.90" x2="225.40" y2="252.50" stroke="#666666" stroke-width="1.80" stroke-linecap="round"/>
<text transform="translate(290.30,222.70)" font-size="6.9" text-anchor="middle" font-weight="normal" fill="#222" >WT + α-MSH +</text>
<text transform="translate(290.30,230.40)" font-size="6.9" text-anchor="middle" font-weight="normal" fill="#222" >PD325901</text>
<rect x="263.70" y="235.80" width="53.20" height="52.50" fill="none" stroke="#9a9a9a" stroke-width="0.7"/>
<line x1="275.00" y1="235.80" x2="275.00" y2="288.30" stroke="#555" stroke-width="0.7" />
<line x1="263.70" y1="260.40" x2="316.90" y2="260.40" stroke="#555" stroke-width="0.7" />
<line x1="272.57" y1="288.30" x2="272.57" y2="289.30" stroke="#777" stroke-width="0.4" />
<line x1="281.43" y1="288.30" x2="281.43" y2="289.30" stroke="#777" stroke-width="0.4" />
<line x1="290.30" y1="288.30" x2="290.30" y2="289.30" stroke="#777" stroke-width="0.4" />
<line x1="299.17" y1="288.30" x2="299.17" y2="289.30" stroke="#777" stroke-width="0.4" />
<line x1="308.03" y1="288.30" x2="308.03" y2="289.30" stroke="#777" stroke-width="0.4" />
<text transform="translate(265.70,241.30)" font-size="4.4" text-anchor="start" font-weight="normal" fill="#111" >G1</text>
<text transform="translate(265.70,245.80)" font-size="4.4" text-anchor="start" font-weight="normal" fill="#111" >19.2</text>
<text transform="translate(315.30,241.30)" font-size="4.4" text-anchor="end" font-weight="normal" fill="#111" >S/G2/M</text>
<text transform="translate(315.30,245.80)" font-size="4.4" text-anchor="end" font-weight="normal" fill="#111" >7.81</text>
<text transform="translate(265.70,283.30)" font-size="4.4" text-anchor="start" font-weight="normal" fill="#111" >G0</text>
<text transform="translate(265.70,287.60)" font-size="4.4" text-anchor="start" font-weight="normal" fill="#111" >72.4</text>
<line x1="272.50" y1="255.30" x2="272.50" y2="278.20" stroke="#6a6a6a" stroke-width="6.40" stroke-linecap="round"/>
<line x1="273.34" y1="257.00" x2="281.60" y2="252.50" stroke="#6a6a6a" stroke-width="5.40" stroke-linecap="round"/>
<line x1="272.50" y1="255.30" x2="272.50" y2="278.20" stroke="#dadada" stroke-width="5.30" stroke-linecap="round"/>
<line x1="273.34" y1="257.00" x2="281.60" y2="252.50" stroke="#dadada" stroke-width="4.30" stroke-linecap="round"/>
<line x1="272.50" y1="255.30" x2="272.50" y2="278.20" stroke="#858585" stroke-width="4.20" stroke-linecap="round"/>
<line x1="273.34" y1="257.00" x2="281.60" y2="252.50" stroke="#858585" stroke-width="3.20" stroke-linecap="round"/>
<line x1="272.50" y1="255.30" x2="272.50" y2="278.20" stroke="#cacaca" stroke-width="3.30" stroke-linecap="round"/>
<line x1="273.34" y1="257.00" x2="281.60" y2="252.50" stroke="#cacaca" stroke-width="2.30" stroke-linecap="round"/>
<line x1="272.50" y1="255.30" x2="272.50" y2="278.20" stroke="#666666" stroke-width="2.40" stroke-linecap="round"/>
<line x1="273.34" y1="257.00" x2="281.60" y2="252.50" stroke="#666666" stroke-width="1.40" stroke-linecap="round"/>
<line x1="34.50" y1="288.30" x2="34.50" y2="240.00" stroke="#1a1a1a" stroke-width="1.0" />
<path d="M32.9,240.5 L34.5,236.5 L36.1,240.5 Z" fill="#1a1a1a"/>
<text transform="translate(29.30,262.30) rotate(-90) scale(0.641,1)" font-size="9.6" text-anchor="middle" font-weight="bold" fill="#222" >Ki67</text>
<line x1="39.00" y1="292.30" x2="313.00" y2="292.30" stroke="#1a1a1a" stroke-width="1.0" />
<path d="M312.5,290.6 L316.5,292.3 L312.5,294.0 Z" fill="#1a1a1a"/>
<text transform="translate(177.90,304.40) scale(0.681,1)" font-size="9.6" text-anchor="middle" font-weight="bold" fill="#222" >Hoechst 33342</text>
<line x1="365.80" y1="293.20" x2="365.80" y2="221.00" stroke="#222" stroke-width="1.1" />
<line x1="362.80" y1="293.20" x2="365.80" y2="293.20" stroke="#222" stroke-width="1.1" />
<text transform="translate(358.80,296.15)" font-size="8.2" text-anchor="end" font-weight="normal" fill="#333" >0</text>
<line x1="362.80" y1="279.30" x2="365.80" y2="279.30" stroke="#222" stroke-width="1.1" />
<text transform="translate(358.80,282.25)" font-size="8.2" text-anchor="end" font-weight="normal" fill="#333" >20</text>
<line x1="362.80" y1="265.40" x2="365.80" y2="265.40" stroke="#222" stroke-width="1.1" />
<text transform="translate(358.80,268.35)" font-size="8.2" text-anchor="end" font-weight="normal" fill="#333" >40</text>
<line x1="362.80" y1="251.50" x2="365.80" y2="251.50" stroke="#222" stroke-width="1.1" />
<text transform="translate(358.80,254.45)" font-size="8.2" text-anchor="end" font-weight="normal" fill="#333" >60</text>
<line x1="362.80" y1="237.60" x2="365.80" y2="237.60" stroke="#222" stroke-width="1.1" />
<text transform="translate(358.80,240.55)" font-size="8.2" text-anchor="end" font-weight="normal" fill="#333" >80</text>
<line x1="362.80" y1="223.70" x2="365.80" y2="223.70" stroke="#222" stroke-width="1.1" />
<text transform="translate(358.80,226.65)" font-size="8.2" text-anchor="end" font-weight="normal" fill="#333" >100</text>
<rect x="369.00" y="236.91" width="5.20" height="56.29" fill="#c8102e" />
<line x1="371.60" y1="236.91" x2="371.60" y2="234.41" stroke="#333" stroke-width="0.6" />
<line x1="370.40" y1="234.41" x2="372.80" y2="234.41" stroke="#333" stroke-width="0.6" />
<circle cx="371.73" cy="234.93" r="1.0" fill="#2a2a2a" stroke="#2a2a2a" stroke-width="0.6"/>
<circle cx="370.04" cy="237.48" r="1.0" fill="none" stroke="#2a2a2a" stroke-width="0.6"/>
<path d="M369.53,235.61 L371.73,235.61 L370.63,233.61 Z" fill="none" stroke="#2a2a2a" stroke-width="0.6"/>
<circle cx="371.26" cy="237.40" r="1.0" fill="none" stroke="#2a2a2a" stroke-width="0.6"/>
<rect x="376.40" y="237.60" width="5.20" height="55.60" fill="#f39c12" />
<line x1="379.00" y1="237.60" x2="379.00" y2="235.10" stroke="#333" stroke-width="0.6" />
<line x1="377.80" y1="235.10" x2="380.20" y2="235.10" stroke="#333" stroke-width="0.6" />
<circle cx="377.38" cy="234.39" r="1.0" fill="#2a2a2a" stroke="#2a2a2a" stroke-width="0.6"/>
<circle cx="378.64" cy="238.39" r="1.0" fill="none" stroke="#2a2a2a" stroke-width="0.6"/>
<path d="M376.70,235.29 L378.90,235.29 L377.80,233.29 Z" fill="none" stroke="#2a2a2a" stroke-width="0.6"/>
<circle cx="378.11" cy="238.90" r="1.0" fill="none" stroke="#2a2a2a" stroke-width="0.6"/>
<rect x="383.70" y="253.58" width="5.20" height="39.62" fill="#1b5aa0" />
<line x1="386.30" y1="253.58" x2="386.30" y2="251.08" stroke="#333" stroke-width="0.6" />
<line x1="385.10" y1="251.08" x2="387.50" y2="251.08" stroke="#333" stroke-width="0.6" />
<circle cx="384.89" cy="251.08" r="1.0" fill="#2a2a2a" stroke="#2a2a2a" stroke-width="0.6"/>
<circle cx="385.64" cy="255.89" r="1.0" fill="none" stroke="#2a2a2a" stroke-width="0.6"/>
<path d="M385.19,255.53 L387.39,255.53 L386.29,253.53 Z" fill="none" stroke="#2a2a2a" stroke-width="0.6"/>
<circle cx="384.97" cy="253.15" r="1.0" fill="none" stroke="#2a2a2a" stroke-width="0.6"/>
<rect x="390.90" y="244.55" width="5.20" height="48.65" fill="url(#hatch)" />
<line x1="393.50" y1="244.55" x2="393.50" y2="242.05" stroke="#333" stroke-width="0.6" />
<line x1="392.30" y1="242.05" x2="394.70" y2="242.05" stroke="#333" stroke-width="0.6" />
<circle cx="393.73" cy="244.98" r="1.0" fill="#2a2a2a" stroke="#2a2a2a" stroke-width="0.6"/>
<circle cx="394.55" cy="242.49" r="1.0" fill="none" stroke="#2a2a2a" stroke-width="0.6"/>
<path d="M392.91,247.69 L395.11,247.69 L394.01,245.69 Z" fill="none" stroke="#2a2a2a" stroke-width="0.6"/>
<circle cx="394.86" cy="241.86" r="1.0" fill="none" stroke="#2a2a2a" stroke-width="0.6"/>
<rect x="398.40" y="244.55" width="5.20" height="48.65" fill="#1a4f8f" />
<circle cx="401.00" cy="292.15" r="0.7" fill="#a9cbf2"/>
<circle cx="399.30" cy="290.05" r="0.56" fill="#86afe0"/>
<circle cx="402.70" cy="290.05" r="0.56" fill="#86afe0"/>
<circle cx="401.00" cy="287.95" r="0.7" fill="#a9cbf2"/>
<circle cx="399.30" cy="285.85" r="0.56" fill="#86afe0"/>
<circle cx="402.70" cy="285.85" r="0.56" fill="#86afe0"/>
<circle cx="401.00" cy="283.75" r="0.7" fill="#a9cbf2"/>
<circle cx="399.30" cy="281.65" r="0.56" fill="#86afe0"/>
<circle cx="402.70" cy="281.65" r="0.56" fill="#86afe0"/>
<circle cx="401.00" cy="279.55" r="0.7" fill="#a9cbf2"/>
<circle cx="399.30" cy="277.45" r="0.56" fill="#86afe0"/>
<circle cx="402.70" cy="277.45" r="0.56" fill="#86afe0"/>
<circle cx="401.00" cy="275.35" r="0.7" fill="#a9cbf2"/>
<circle cx="399.30" cy="273.25" r="0.56" fill="#86afe0"/>
<circle cx="402.70" cy="273.25" r="0.56" fill="#86afe0"/>
<circle cx="401.00" cy="271.15" r="0.7" fill="#a9cbf2"/>
<circle cx="399.30" cy="269.05" r="0.56" fill="#86afe0"/>
<circle cx="402.70" cy="269.05" r="0.56" fill="#86afe0"/>
<circle cx="401.00" cy="266.95" r="0.7" fill="#a9cbf2"/>
<circle cx="399.30" cy="264.85" r="0.56" fill="#86afe0"/>
<circle cx="402.70" cy="264.85" r="0.56" fill="#86afe0"/>
<circle cx="401.00" cy="262.75" r="0.7" fill="#a9cbf2"/>
<circle cx="399.30" cy="260.65" r="0.56" fill="#86afe0"/>
<circle cx="402.70" cy="260.65" r="0.56" fill="#86afe0"/>
<circle cx="401.00" cy="258.55" r="0.7" fill="#a9cbf2"/>
<circle cx="399.30" cy="256.45" r="0.56" fill="#86afe0"/>
<circle cx="402.70" cy="256.45" r="0.56" fill="#86afe0"/>
<circle cx="401.00" cy="254.35" r="0.7" fill="#a9cbf2"/>
<circle cx="399.30" cy="252.25" r="0.56" fill="#86afe0"/>
<circle cx="402.70" cy="252.25" r="0.56" fill="#86afe0"/>
<circle cx="401.00" cy="250.15" r="0.7" fill="#a9cbf2"/>
<circle cx="399.30" cy="248.05" r="0.56" fill="#86afe0"/>
<circle cx="402.70" cy="248.05" r="0.56" fill="#86afe0"/>
<circle cx="401.00" cy="245.95" r="0.7" fill="#a9cbf2"/>
<line x1="401.00" y1="244.55" x2="401.00" y2="242.05" stroke="#333" stroke-width="0.6" />
<line x1="399.80" y1="242.05" x2="402.20" y2="242.05" stroke="#333" stroke-width="0.6" />
<circle cx="401.10" cy="244.65" r="1.0" fill="#2a2a2a" stroke="#2a2a2a" stroke-width="0.6"/>
<circle cx="402.14" cy="246.84" r="1.0" fill="none" stroke="#2a2a2a" stroke-width="0.6"/>
<path d="M401.17,244.00 L403.37,244.00 L402.27,242.00 Z" fill="none" stroke="#2a2a2a" stroke-width="0.6"/>
<circle cx="402.49" cy="243.52" r="1.0" fill="none" stroke="#2a2a2a" stroke-width="0.6"/>
<line x1="386.30" y1="293.20" x2="386.30" y2="295.20" stroke="#222" stroke-width="0.8" />
<rect x="410.80" y="282.08" width="5.20" height="11.12" fill="#c8102e" />
<line x1="413.40" y1="282.08" x2="413.40" y2="279.58" stroke="#333" stroke-width="0.6" />
<line x1="412.20" y1="279.58" x2="414.60" y2="279.58" stroke="#333" stroke-width="0.6" />
<circle cx="413.26" cy="284.23" r="1.0" fill="#2a2a2a" stroke="#2a2a2a" stroke-width="0.6"/>
<circle cx="411.84" cy="280.06" r="1.0" fill="none" stroke="#2a2a2a" stroke-width="0.6"/>
<path d="M413.84,283.63 L416.04,283.63 L414.94,281.63 Z" fill="none" stroke="#2a2a2a" stroke-width="0.6"/>
<circle cx="412.16" cy="280.52" r="1.0" fill="none" stroke="#2a2a2a" stroke-width="0.6"/>
<rect x="418.00" y="280.69" width="5.20" height="12.51" fill="#f39c12" />
<line x1="420.60" y1="280.69" x2="420.60" y2="278.19" stroke="#333" stroke-width="0.6" />
<line x1="419.40" y1="278.19" x2="421.80" y2="278.19" stroke="#333" stroke-width="0.6" />
<circle cx="420.20" cy="278.31" r="1.0" fill="#2a2a2a" stroke="#2a2a2a" stroke-width="0.6"/>
<circle cx="419.49" cy="283.09" r="1.0" fill="none" stroke="#2a2a2a" stroke-width="0.6"/>
<path d="M419.76,282.42 L421.96,282.42 L420.86,280.42 Z" fill="none" stroke="#2a2a2a" stroke-width="0.6"/>
<circle cx="420.78" cy="279.37" r="1.0" fill="none" stroke="#2a2a2a" stroke-width="0.6"/>
<rect x="425.20" y="275.82" width="5.20" height="17.38" fill="#1b5aa0" />
<line x1="427.80" y1="275.82" x2="427.80" y2="273.32" stroke="#333" stroke-width="0.6" />
<line x1="426.60" y1="273.32" x2="429.00" y2="273.32" stroke="#333" stroke-width="0.6" />
<circle cx="428.26" cy="272.00" r="1.0" fill="#2a2a2a" stroke="#2a2a2a" stroke-width="0.6"/>
<circle cx="427.05" cy="273.39" r="1.0" fill="none" stroke="#2a2a2a" stroke-width="0.6"/>
<path d="M427.49,277.46 L429.69,277.46 L428.59,275.46 Z" fill="none" stroke="#2a2a2a" stroke-width="0.6"/>
<circle cx="429.11" cy="272.43" r="1.0" fill="none" stroke="#2a2a2a" stroke-width="0.6"/>
<rect x="432.50" y="280.00" width="5.20" height="13.20" fill="url(#hatch)" />
<line x1="435.10" y1="280.00" x2="435.10" y2="277.50" stroke="#333" stroke-width="0.6" />
<line x1="433.90" y1="277.50" x2="436.30" y2="277.50" stroke="#333" stroke-width="0.6" />
<circle cx="433.56" cy="280.87" r="1.0" fill="#2a2a2a" stroke="#2a2a2a" stroke-width="0.6"/>
<circle cx="433.92" cy="279.23" r="1.0" fill="none" stroke="#2a2a2a" stroke-width="0.6"/>
<path d="M434.57,282.45 L436.77,282.45 L435.67,280.45 Z" fill="none" stroke="#2a2a2a" stroke-width="0.6"/>
<circle cx="434.94" cy="279.48" r="1.0" fill="none" stroke="#2a2a2a" stroke-width="0.6"/>
<rect x="440.00" y="282.08" width="5.20" height="11.12" fill="#1a4f8f" />
<circle cx="442.60" cy="292.15" r="0.7" fill="#a9cbf2"/>
<circle cx="440.90" cy="290.05" r="0.56" fill="#86afe0"/>
<circle cx="444.30" cy="290.05" r="0.56" fill="#86afe0"/>
<circle cx="442.60" cy="287.95" r="0.7" fill="#a9cbf2"/>
<circle cx="440.90" cy="285.85" r="0.56" fill="#86afe0"/>
<circle cx="444.30" cy="285.85" r="0.56" fill="#86afe0"/>
<circle cx="442.60" cy="283.75" r="0.7" fill="#a9cbf2"/>
<line x1="442.60" y1="282.08" x2="442.60" y2="279.58" stroke="#333" stroke-width="0.6" />
<line x1="441.40" y1="279.58" x2="443.80" y2="279.58" stroke="#333" stroke-width="0.6" />
<circle cx="442.30" cy="281.87" r="1.0" fill="#2a2a2a" stroke="#2a2a2a" stroke-width="0.6"/>
<circle cx="443.80" cy="279.32" r="1.0" fill="none" stroke="#2a2a2a" stroke-width="0.6"/>
<path d="M440.59,279.18 L442.79,279.18 L441.69,277.18 Z" fill="none" stroke="#2a2a2a" stroke-width="0.6"/>
<circle cx="441.32" cy="278.14" r="1.0" fill="none" stroke="#2a2a2a" stroke-width="0.6"/>
<line x1="428.00" y1="293.20" x2="428.00" y2="295.20" stroke="#222" stroke-width="0.8" />
<rect x="453.00" y="289.72" width="5.20" height="3.48" fill="#c8102e" />
<line x1="455.60" y1="289.72" x2="455.60" y2="287.22" stroke="#333" stroke-width="0.6" />
<line x1="454.40" y1="287.22" x2="456.80" y2="287.22" stroke="#333" stroke-width="0.6" />
<circle cx="455.59" cy="287.59" r="1.0" fill="#2a2a2a" stroke="#2a2a2a" stroke-width="0.6"/>
<circle cx="456.06" cy="287.42" r="1.0" fill="none" stroke="#2a2a2a" stroke-width="0.6"/>
<path d="M454.41,293.42 L456.61,293.42 L455.51,291.42 Z" fill="none" stroke="#2a2a2a" stroke-width="0.6"/>
<circle cx="454.22" cy="287.95" r="1.0" fill="none" stroke="#2a2a2a" stroke-width="0.6"/>
<rect x="460.40" y="290.42" width="5.20" height="2.78" fill="#f39c12" />
<line x1="463.00" y1="290.42" x2="463.00" y2="287.92" stroke="#333" stroke-width="0.6" />
<line x1="461.80" y1="287.92" x2="464.20" y2="287.92" stroke="#333" stroke-width="0.6" />
<circle cx="462.15" cy="289.94" r="1.0" fill="#2a2a2a" stroke="#2a2a2a" stroke-width="0.6"/>
<circle cx="461.87" cy="292.17" r="1.0" fill="none" stroke="#2a2a2a" stroke-width="0.6"/>
<path d="M461.01,291.19 L463.21,291.19 L462.11,289.19 Z" fill="none" stroke="#2a2a2a" stroke-width="0.6"/>
<circle cx="464.42" cy="289.20" r="1.0" fill="none" stroke="#2a2a2a" stroke-width="0.6"/>
<rect x="467.50" y="281.38" width="5.20" height="11.81" fill="#1b5aa0" />
<line x1="470.10" y1="281.38" x2="470.10" y2="278.88" stroke="#333" stroke-width="0.6" />
<line x1="468.90" y1="278.88" x2="471.30" y2="278.88" stroke="#333" stroke-width="0.6" />
<circle cx="471.69" cy="277.77" r="1.0" fill="#2a2a2a" stroke="#2a2a2a" stroke-width="0.6"/>
<circle cx="470.85" cy="280.77" r="1.0" fill="none" stroke="#2a2a2a" stroke-width="0.6"/>
<path d="M470.47,281.13 L472.67,281.13 L471.57,279.13 Z" fill="none" stroke="#2a2a2a" stroke-width="0.6"/>
<circle cx="471.50" cy="278.50" r="1.0" fill="none" stroke="#2a2a2a" stroke-width="0.6"/>
<rect x="474.60" y="284.86" width="5.20" height="8.34" fill="url(#hatch)" />
<line x1="477.20" y1="284.86" x2="477.20" y2="282.36" stroke="#333" stroke-width="0.6" />
<line x1="476.00" y1="282.36" x2="478.40" y2="282.36" stroke="#333" stroke-width="0.6" />
<circle cx="477.59" cy="287.09" r="1.0" fill="#2a2a2a" stroke="#2a2a2a" stroke-width="0.6"/>
<circle cx="477.06" cy="285.84" r="1.0" fill="none" stroke="#2a2a2a" stroke-width="0.6"/>
<path d="M477.55,285.40 L479.75,285.40 L478.65,283.40 Z" fill="none" stroke="#2a2a2a" stroke-width="0.6"/>
<circle cx="477.98" cy="285.96" r="1.0" fill="none" stroke="#2a2a2a" stroke-width="0.6"/>
<rect x="482.00" y="286.25" width="5.20" height="6.95" fill="#1a4f8f" />
<circle cx="484.60" cy="292.15" r="0.7" fill="#a9cbf2"/>
<circle cx="482.90" cy="290.05" r="0.56" fill="#86afe0"/>
<circle cx="486.30" cy="290.05" r="0.56" fill="#86afe0"/>
<circle cx="484.60" cy="287.95" r="0.7" fill="#a9cbf2"/>
<line x1="484.60" y1="286.25" x2="484.60" y2="283.75" stroke="#333" stroke-width="0.6" />
<line x1="483.40" y1="283.75" x2="485.80" y2="283.75" stroke="#333" stroke-width="0.6" />
<circle cx="485.98" cy="283.21" r="1.0" fill="#2a2a2a" stroke="#2a2a2a" stroke-width="0.6"/>
<circle cx="484.79" cy="285.63" r="1.0" fill="none" stroke="#2a2a2a" stroke-width="0.6"/>
<path d="M485.03,285.81 L487.23,285.81 L486.13,283.81 Z" fill="none" stroke="#2a2a2a" stroke-width="0.6"/>
<circle cx="484.42" cy="286.29" r="1.0" fill="none" stroke="#2a2a2a" stroke-width="0.6"/>
<line x1="470.10" y1="293.20" x2="470.10" y2="295.20" stroke="#222" stroke-width="0.8" />
<line x1="365.80" y1="293.20" x2="490.60" y2="293.20" stroke="#222" stroke-width="1.1" />
<text transform="translate(386.50,307.80)" font-size="8.2" text-anchor="middle" font-weight="normal" fill="#222" >G0</text>
<text transform="translate(427.60,307.80)" font-size="8.2" text-anchor="middle" font-weight="normal" fill="#222" >G1</text>
<text transform="translate(469.60,307.80)" font-size="8.2" text-anchor="middle" font-weight="normal" fill="#222" >S/G2/M</text>
<text transform="translate(342.45,259.15) rotate(-90) scale(0.718,1)" font-size="9.2" text-anchor="middle" font-weight="normal" fill="#222" >Frequency (%)</text>
<text x="411.70" y="206.10" font-size="9.8" textLength="33.60" lengthAdjust="spacingAndGlyphs" font-weight="normal" fill="#1e1e1e">LT-HSC</text>
<rect x="409.40" y="215.50" width="5.60" height="5.60" fill="#c8102e" />
<text transform="translate(417.50,221.18)" font-size="8" text-anchor="start" font-weight="normal" fill="#222" >WT</text>
<rect x="409.40" y="223.70" width="5.60" height="5.60" fill="#f39c12" />
<text transform="translate(417.50,229.38)" font-size="8" text-anchor="start" font-weight="normal" fill="#222" >WT + Saline + Vehicle</text>
<rect x="409.40" y="232.00" width="5.60" height="5.60" fill="#1b5aa0" />
<text transform="translate(417.50,237.68)" font-size="8" text-anchor="start" font-weight="normal" fill="#222" >WT + α-MSH + Vehicle</text>
<rect x="409.40" y="240.20" width="5.60" height="5.60" fill="url(#hatch)" />
<text transform="translate(417.50,245.88)" font-size="8" text-anchor="start" font-weight="normal" fill="#222" >WT + α-MSH + MK-2206</text>
<rect x="409.40" y="248.40" width="5.60" height="5.60" fill="#1a4f8f" />
<path d="M410.20,249.20 L414.20,253.20 M414.20,249.20 L410.20,253.20" stroke="#8fb3e0" stroke-width="0.8"/>
<text transform="translate(417.50,254.08)" font-size="8" text-anchor="start" font-weight="normal" fill="#222" >WT + α-MSH + PD325901</text>
<path d="M378.30,227.80 V226.00 H385.40 V227.80" fill="none" stroke="#3a3a3a" stroke-width="0.7"/>
<text transform="translate(381.85,227.90)" font-size="7.5" text-anchor="middle" font-weight="bold" fill="#2a2a2a" >***</text>
<path d="M386.20,227.80 V226.00 H393.50 V227.80" fill="none" stroke="#3a3a3a" stroke-width="0.7"/>
<text transform="translate(389.85,227.90)" font-size="7.5" text-anchor="middle" font-weight="bold" fill="#2a2a2a" >**</text>
<path d="M386.20,221.20 V219.40 H400.80 V221.20" fill="none" stroke="#3a3a3a" stroke-width="0.7"/>
<text transform="translate(393.50,221.30)" font-size="7.5" text-anchor="middle" font-weight="bold" fill="#2a2a2a" >**</text>
<path d="M420.50,268.20 V266.40 H428.20 V268.20" fill="none" stroke="#3a3a3a" stroke-width="0.7"/>
<text transform="translate(424.35,268.30)" font-size="7.5" text-anchor="middle" font-weight="bold" fill="#2a2a2a" >**</text>
<path d="M428.80,268.20 V266.40 H435.60 V268.20" fill="none" stroke="#3a3a3a" stroke-width="0.7"/>
<text transform="translate(432.20,268.30)" font-size="7.5" text-anchor="middle" font-weight="bold" fill="#2a2a2a" >*</text>
<path d="M428.80,261.20 V259.40 H443.10 V261.20" fill="none" stroke="#3a3a3a" stroke-width="0.7"/>
<text transform="translate(435.95,261.30)" font-size="7.5" text-anchor="middle" font-weight="bold" fill="#2a2a2a" >**</text>
<path d="M463.00,272.70 V270.90 H469.80 V272.70" fill="none" stroke="#3a3a3a" stroke-width="0.7"/>
<text transform="translate(466.40,272.80)" font-size="7.5" text-anchor="middle" font-weight="bold" fill="#2a2a2a" >***</text>
<path d="M470.40,272.70 V270.90 H477.50 V272.70" fill="none" stroke="#3a3a3a" stroke-width="0.7"/>
<text transform="translate(473.95,272.80)" font-size="7.5" text-anchor="middle" font-weight="bold" fill="#2a2a2a" >*</text>
<path d="M470.60,266.60 V264.80 H485.70 V266.60" fill="none" stroke="#3a3a3a" stroke-width="0.7"/>
<text transform="translate(478.15,266.70)" font-size="7.5" text-anchor="middle" font-weight="bold" fill="#2a2a2a" >**</text>
<text transform="translate(9.40,325.90)" font-size="12" text-anchor="start" font-weight="bold" fill="#000" >D</text>
<line x1="53.90" y1="344.60" x2="53.90" y2="383.00" stroke="#222" stroke-width="1.1" />
<line x1="53.90" y1="394.50" x2="53.90" y2="430.50" stroke="#222" stroke-width="1.1" />
<line x1="50.90" y1="383.80" x2="53.90" y2="383.80" stroke="#222" stroke-width="1.1" />
<text transform="translate(47.00,386.75)" font-size="8.2" text-anchor="end" font-weight="normal" fill="#333" >1</text>
<line x1="50.90" y1="374.67" x2="53.90" y2="374.67" stroke="#222" stroke-width="1.1" />
<text transform="translate(47.00,377.62)" font-size="8.2" text-anchor="end" font-weight="normal" fill="#333" >2</text>
<line x1="50.90" y1="365.54" x2="53.90" y2="365.54" stroke="#222" stroke-width="1.1" />
<text transform="translate(47.00,368.49)" font-size="8.2" text-anchor="end" font-weight="normal" fill="#333" >3</text>
<line x1="50.90" y1="356.41" x2="53.90" y2="356.41" stroke="#222" stroke-width="1.1" />
<text transform="translate(47.00,359.36)" font-size="8.2" text-anchor="end" font-weight="normal" fill="#333" >4</text>
<line x1="50.90" y1="347.28" x2="53.90" y2="347.28" stroke="#222" stroke-width="1.1" />
<text transform="translate(47.00,350.23)" font-size="8.2" text-anchor="end" font-weight="normal" fill="#333" >5</text>
<line x1="50.90" y1="430.50" x2="53.90" y2="430.50" stroke="#222" stroke-width="1.1" />
<text transform="translate(47.00,433.45)" font-size="8.2" text-anchor="end" font-weight="normal" fill="#333" >0.0</text>
<line x1="50.90" y1="418.46" x2="53.90" y2="418.46" stroke="#222" stroke-width="1.1" />
<text transform="translate(47.00,421.41)" font-size="8.2" text-anchor="end" font-weight="normal" fill="#333" >0.2</text>
<line x1="50.90" y1="406.42" x2="53.90" y2="406.42" stroke="#222" stroke-width="1.1" />
<text transform="translate(47.00,409.37)" font-size="8.2" text-anchor="end" font-weight="normal" fill="#333" >0.4</text>
<line x1="50.90" y1="394.38" x2="53.90" y2="394.38" stroke="#222" stroke-width="1.1" />
<text transform="translate(47.00,397.33)" font-size="8.2" text-anchor="end" font-weight="normal" fill="#333" >0.6</text>
<line x1="51.70" y1="382.10" x2="55.50" y2="386.20" stroke="#111" stroke-width="1.1" />
<line x1="51.70" y1="392.30" x2="55.50" y2="396.00" stroke="#111" stroke-width="1.1" />
<rect x="57.80" y="374.67" width="7.40" height="9.13" fill="#c8102e" />
<rect x="57.80" y="394.40" width="7.40" height="36.10" fill="#c8102e" />
<line x1="61.50" y1="374.67" x2="61.50" y2="371.67" stroke="#333" stroke-width="0.6" />
<line x1="60.30" y1="371.67" x2="62.70" y2="371.67" stroke="#333" stroke-width="0.6" />
<circle cx="61.49" cy="372.53" r="1.0" fill="#2a2a2a" stroke="#2a2a2a" stroke-width="0.6"/>
<circle cx="62.15" cy="372.37" r="1.0" fill="none" stroke="#2a2a2a" stroke-width="0.6"/>
<path d="M60.27,378.36 L62.47,378.36 L61.37,376.36 Z" fill="none" stroke="#2a2a2a" stroke-width="0.6"/>
<circle cx="59.54" cy="372.89" r="1.0" fill="none" stroke="#2a2a2a" stroke-width="0.6"/>
<circle cx="62.34" cy="371.27" r="1.0" fill="#2a2a2a" stroke="#2a2a2a" stroke-width="0.6"/>
<path d="M58.76,377.35 L60.96,377.35 L59.86,375.35 Z" fill="none" stroke="#2a2a2a" stroke-width="0.6"/>
<rect x="69.00" y="372.84" width="7.40" height="10.96" fill="#f39c12" />
<rect x="69.00" y="394.40" width="7.40" height="36.10" fill="#f39c12" />
<line x1="72.70" y1="372.84" x2="72.70" y2="369.84" stroke="#333" stroke-width="0.6" />
<line x1="71.50" y1="369.84" x2="73.90" y2="369.84" stroke="#333" stroke-width="0.6" />
<circle cx="71.49" cy="372.36" r="1.0" fill="#2a2a2a" stroke="#2a2a2a" stroke-width="0.6"/>
<circle cx="71.10" cy="374.59" r="1.0" fill="none" stroke="#2a2a2a" stroke-width="0.6"/>
<path d="M70.33,373.61 L72.53,373.61 L71.43,371.61 Z" fill="none" stroke="#2a2a2a" stroke-width="0.6"/>
<circle cx="74.72" cy="371.63" r="1.0" fill="none" stroke="#2a2a2a" stroke-width="0.6"/>
<circle cx="74.92" cy="373.96" r="1.0" fill="#2a2a2a" stroke="#2a2a2a" stroke-width="0.6"/>
<path d="M71.83,374.15 L74.03,374.15 L72.93,372.15 Z" fill="none" stroke="#2a2a2a" stroke-width="0.6"/>
<rect x="80.10" y="355.04" width="7.40" height="28.76" fill="#1b5aa0" />
<rect x="80.10" y="394.40" width="7.40" height="36.10" fill="#1b5aa0" />
<line x1="83.80" y1="355.04" x2="83.80" y2="352.04" stroke="#333" stroke-width="0.6" />
<line x1="82.60" y1="352.04" x2="85.00" y2="352.04" stroke="#333" stroke-width="0.6" />
<circle cx="86.07" cy="351.42" r="1.0" fill="#2a2a2a" stroke="#2a2a2a" stroke-width="0.6"/>
<circle cx="84.87" cy="354.43" r="1.0" fill="none" stroke="#2a2a2a" stroke-width="0.6"/>
<path d="M84.79,354.79 L86.99,354.79 L85.89,352.79 Z" fill="none" stroke="#2a2a2a" stroke-width="0.6"/>
<circle cx="85.79" cy="352.15" r="1.0" fill="none" stroke="#2a2a2a" stroke-width="0.6"/>
<circle cx="86.14" cy="353.93" r="1.0" fill="#2a2a2a" stroke="#2a2a2a" stroke-width="0.6"/>
<path d="M81.20,354.36 L83.40,354.36 L82.30,352.36 Z" fill="none" stroke="#2a2a2a" stroke-width="0.6"/>
<rect x="91.50" y="364.63" width="7.40" height="19.17" fill="url(#hatch)" />
<rect x="91.50" y="394.40" width="7.40" height="36.10" fill="url(#hatch)" />
<line x1="95.20" y1="364.63" x2="95.20" y2="361.63" stroke="#333" stroke-width="0.6" />
<line x1="94.00" y1="361.63" x2="96.40" y2="361.63" stroke="#333" stroke-width="0.6" />
<circle cx="95.75" cy="366.86" r="1.0" fill="#2a2a2a" stroke="#2a2a2a" stroke-width="0.6"/>
<circle cx="94.99" cy="365.61" r="1.0" fill="none" stroke="#2a2a2a" stroke-width="0.6"/>
<path d="M96.17,365.17 L98.37,365.17 L97.27,363.17 Z" fill="none" stroke="#2a2a2a" stroke-width="0.6"/>
<circle cx="96.31" cy="365.72" r="1.0" fill="none" stroke="#2a2a2a" stroke-width="0.6"/>
<circle cx="96.90" cy="360.88" r="1.0" fill="#2a2a2a" stroke="#2a2a2a" stroke-width="0.6"/>
<path d="M92.53,368.51 L94.73,368.51 L93.63,366.51 Z" fill="none" stroke="#2a2a2a" stroke-width="0.6"/>
<rect x="102.80" y="369.19" width="7.40" height="14.61" fill="#1a4f8f" />
<circle cx="106.50" cy="382.57" r="0.85" fill="#a9cbf2"/>
<circle cx="103.70" cy="380.12" r="0.68" fill="#86afe0"/>
<circle cx="109.30" cy="380.12" r="0.68" fill="#86afe0"/>
<circle cx="106.50" cy="377.68" r="0.85" fill="#a9cbf2"/>
<circle cx="103.70" cy="375.23" r="0.68" fill="#86afe0"/>
<circle cx="109.30" cy="375.23" r="0.68" fill="#86afe0"/>
<circle cx="106.50" cy="372.78" r="0.85" fill="#a9cbf2"/>
<circle cx="103.70" cy="370.33" r="0.68" fill="#86afe0"/>
<circle cx="109.30" cy="370.33" r="0.68" fill="#86afe0"/>
<rect x="102.80" y="394.40" width="7.40" height="36.10" fill="#1a4f8f" />
<circle cx="106.50" cy="429.27" r="0.85" fill="#a9cbf2"/>
<circle cx="103.70" cy="426.82" r="0.68" fill="#86afe0"/>
<circle cx="109.30" cy="426.82" r="0.68" fill="#86afe0"/>
<circle cx="106.50" cy="424.38" r="0.85" fill="#a9cbf2"/>
<circle cx="103.70" cy="421.93" r="0.68" fill="#86afe0"/>
<circle cx="109.30" cy="421.93" r="0.68" fill="#86afe0"/>
<circle cx="106.50" cy="419.48" r="0.85" fill="#a9cbf2"/>
<circle cx="103.70" cy="417.03" r="0.68" fill="#86afe0"/>
<circle cx="109.30" cy="417.03" r="0.68" fill="#86afe0"/>
<circle cx="106.50" cy="414.58" r="0.85" fill="#a9cbf2"/>
<circle cx="103.70" cy="412.13" r="0.68" fill="#86afe0"/>
<circle cx="109.30" cy="412.13" r="0.68" fill="#86afe0"/>
<circle cx="106.50" cy="409.68" r="0.85" fill="#a9cbf2"/>
<circle cx="103.70" cy="407.23" r="0.68" fill="#86afe0"/>
<circle cx="109.30" cy="407.23" r="0.68" fill="#86afe0"/>
<circle cx="106.50" cy="404.78" r="0.85" fill="#a9cbf2"/>
<circle cx="103.70" cy="402.33" r="0.68" fill="#86afe0"/>
<circle cx="109.30" cy="402.33" r="0.68" fill="#86afe0"/>
<circle cx="106.50" cy="399.88" r="0.85" fill="#a9cbf2"/>
<circle cx="103.70" cy="397.43" r="0.68" fill="#86afe0"/>
<circle cx="109.30" cy="397.43" r="0.68" fill="#86afe0"/>
<circle cx="106.50" cy="394.98" r="0.85" fill="#a9cbf2"/>
<line x1="106.50" y1="369.19" x2="106.50" y2="366.19" stroke="#333" stroke-width="0.6" />
<line x1="105.30" y1="366.19" x2="107.70" y2="366.19" stroke="#333" stroke-width="0.6" />
<circle cx="108.46" cy="366.15" r="1.0" fill="#2a2a2a" stroke="#2a2a2a" stroke-width="0.6"/>
<circle cx="106.77" cy="368.57" r="1.0" fill="none" stroke="#2a2a2a" stroke-width="0.6"/>
<path d="M107.57,368.75 L109.77,368.75 L108.67,366.75 Z" fill="none" stroke="#2a2a2a" stroke-width="0.6"/>
<circle cx="106.25" cy="369.23" r="1.0" fill="none" stroke="#2a2a2a" stroke-width="0.6"/>
<circle cx="105.94" cy="371.58" r="1.0" fill="#2a2a2a" stroke="#2a2a2a" stroke-width="0.6"/>
<path d="M107.19,371.16 L109.39,371.16 L108.29,369.16 Z" fill="none" stroke="#2a2a2a" stroke-width="0.6"/>
<rect x="122.00" y="418.46" width="7.30" height="12.04" fill="#c8102e" />
<line x1="125.65" y1="418.46" x2="125.65" y2="415.46" stroke="#333" stroke-width="0.6" />
<line x1="124.45" y1="415.46" x2="126.85" y2="415.46" stroke="#333" stroke-width="0.6" />
<circle cx="124.75" cy="418.51" r="1.0" fill="#2a2a2a" stroke="#2a2a2a" stroke-width="0.6"/>
<circle cx="124.55" cy="420.12" r="1.0" fill="none" stroke="#2a2a2a" stroke-width="0.6"/>
<path d="M124.40,417.69 L126.60,417.69 L125.50,415.69 Z" fill="none" stroke="#2a2a2a" stroke-width="0.6"/>
<circle cx="127.50" cy="420.01" r="1.0" fill="none" stroke="#2a2a2a" stroke-width="0.6"/>
<circle cx="127.33" cy="419.12" r="1.0" fill="#2a2a2a" stroke="#2a2a2a" stroke-width="0.6"/>
<path d="M123.08,418.09 L125.28,418.09 L124.18,416.09 Z" fill="none" stroke="#2a2a2a" stroke-width="0.6"/>
<rect x="133.00" y="419.06" width="7.30" height="11.44" fill="#f39c12" />
<line x1="136.65" y1="419.06" x2="136.65" y2="416.06" stroke="#333" stroke-width="0.6" />
<line x1="135.45" y1="416.06" x2="137.85" y2="416.06" stroke="#333" stroke-width="0.6" />
<circle cx="136.62" cy="418.96" r="1.0" fill="#2a2a2a" stroke="#2a2a2a" stroke-width="0.6"/>
<circle cx="138.10" cy="417.31" r="1.0" fill="none" stroke="#2a2a2a" stroke-width="0.6"/>
<path d="M134.71,420.81 L136.91,420.81 L135.81,418.81 Z" fill="none" stroke="#2a2a2a" stroke-width="0.6"/>
<circle cx="136.59" cy="417.58" r="1.0" fill="none" stroke="#2a2a2a" stroke-width="0.6"/>
<circle cx="136.21" cy="417.37" r="1.0" fill="#2a2a2a" stroke="#2a2a2a" stroke-width="0.6"/>
<path d="M134.00,420.38 L136.20,420.38 L135.10,418.38 Z" fill="none" stroke="#2a2a2a" stroke-width="0.6"/>
<rect x="144.60" y="405.82" width="7.30" height="24.68" fill="#1b5aa0" />
<line x1="148.25" y1="405.82" x2="148.25" y2="402.82" stroke="#333" stroke-width="0.6" />
<line x1="147.05" y1="402.82" x2="149.45" y2="402.82" stroke="#333" stroke-width="0.6" />
<circle cx="150.25" cy="403.03" r="1.0" fill="#2a2a2a" stroke="#2a2a2a" stroke-width="0.6"/>
<circle cx="150.45" cy="403.48" r="1.0" fill="none" stroke="#2a2a2a" stroke-width="0.6"/>
<path d="M146.99,409.00 L149.19,409.00 L148.09,407.00 Z" fill="none" stroke="#2a2a2a" stroke-width="0.6"/>
<circle cx="147.58" cy="405.37" r="1.0" fill="none" stroke="#2a2a2a" stroke-width="0.6"/>
<circle cx="146.67" cy="408.55" r="1.0" fill="#2a2a2a" stroke="#2a2a2a" stroke-width="0.6"/>
<path d="M149.42,403.92 L151.62,403.92 L150.52,401.92 Z" fill="none" stroke="#2a2a2a" stroke-width="0.6"/>
<rect x="155.70" y="413.04" width="7.30" height="17.46" fill="url(#hatch)" />
<line x1="159.35" y1="413.04" x2="159.35" y2="410.04" stroke="#333" stroke-width="0.6" />
<line x1="158.15" y1="410.04" x2="160.55" y2="410.04" stroke="#333" stroke-width="0.6" />
<circle cx="159.09" cy="411.10" r="1.0" fill="#2a2a2a" stroke="#2a2a2a" stroke-width="0.6"/>
<circle cx="161.26" cy="412.43" r="1.0" fill="none" stroke="#2a2a2a" stroke-width="0.6"/>
<path d="M156.32,415.19 L158.52,415.19 L157.42,413.19 Z" fill="none" stroke="#2a2a2a" stroke-width="0.6"/>
<circle cx="157.37" cy="410.46" r="1.0" fill="none" stroke="#2a2a2a" stroke-width="0.6"/>
<circle cx="157.36" cy="413.44" r="1.0" fill="#2a2a2a" stroke="#2a2a2a" stroke-width="0.6"/>
<path d="M159.85,414.22 L162.05,414.22 L160.95,412.22 Z" fill="none" stroke="#2a2a2a" stroke-width="0.6"/>
<rect x="167.20" y="414.85" width="7.30" height="15.65" fill="#1a4f8f" />
<circle cx="170.85" cy="429.27" r="0.85" fill="#a9cbf2"/>
<circle cx="168.10" cy="426.82" r="0.68" fill="#86afe0"/>
<circle cx="173.60" cy="426.82" r="0.68" fill="#86afe0"/>
<circle cx="170.85" cy="424.38" r="0.85" fill="#a9cbf2"/>
<circle cx="168.10" cy="421.93" r="0.68" fill="#86afe0"/>
<circle cx="173.60" cy="421.93" r="0.68" fill="#86afe0"/>
<circle cx="170.85" cy="419.48" r="0.85" fill="#a9cbf2"/>
<circle cx="168.10" cy="417.03" r="0.68" fill="#86afe0"/>
<circle cx="173.60" cy="417.03" r="0.68" fill="#86afe0"/>
<line x1="170.85" y1="414.85" x2="170.85" y2="411.85" stroke="#333" stroke-width="0.6" />
<line x1="169.65" y1="411.85" x2="172.05" y2="411.85" stroke="#333" stroke-width="0.6" />
<circle cx="170.74" cy="415.26" r="1.0" fill="#2a2a2a" stroke="#2a2a2a" stroke-width="0.6"/>
<circle cx="170.40" cy="417.29" r="1.0" fill="none" stroke="#2a2a2a" stroke-width="0.6"/>
<path d="M167.49,418.66 L169.69,418.66 L168.59,416.66 Z" fill="none" stroke="#2a2a2a" stroke-width="0.6"/>
<circle cx="171.80" cy="416.48" r="1.0" fill="none" stroke="#2a2a2a" stroke-width="0.6"/>
<circle cx="172.27" cy="412.26" r="1.0" fill="#2a2a2a" stroke="#2a2a2a" stroke-width="0.6"/>
<path d="M171.24,416.32 L173.44,416.32 L172.34,414.32 Z" fill="none" stroke="#2a2a2a" stroke-width="0.6"/>
<line x1="53.90" y1="430.50" x2="179.00" y2="430.50" stroke="#222" stroke-width="1.1" />
<line x1="84.20" y1="430.50" x2="84.20" y2="432.50" stroke="#222" stroke-width="0.8" />
<line x1="148.30" y1="430.50" x2="148.30" y2="432.50" stroke="#222" stroke-width="0.8" />
<text transform="translate(84.20,444.50)" font-size="8.4" text-anchor="middle" font-weight="normal" fill="#222" >MP</text>
<text transform="translate(147.90,444.50)" font-size="8.4" text-anchor="middle" font-weight="normal" fill="#222" >LSK</text>
<text transform="translate(29.81,387.50) rotate(-90) scale(0.846,1)" font-size="8.8" text-anchor="middle" font-weight="normal" fill="#111" stroke="#111" stroke-width="0.3">Cell number in BM (×10^5)</text>
<path d="M73.20,345.30 V343.50 H83.70 V345.30" fill="none" stroke="#3a3a3a" stroke-width="0.7"/>
<text transform="translate(78.45,345.40)" font-size="7.5" text-anchor="middle" font-weight="bold" fill="#2a2a2a" >***</text>
<path d="M84.70,345.30 V343.50 H95.60 V345.30" fill="none" stroke="#3a3a3a" stroke-width="0.7"/>
<text transform="translate(90.15,345.40)" font-size="7.5" text-anchor="middle" font-weight="bold" fill="#2a2a2a" >**</text>
<path d="M84.70,338.70 V336.90 H106.50 V338.70" fill="none" stroke="#3a3a3a" stroke-width="0.7"/>
<text transform="translate(95.60,338.80)" font-size="7.5" text-anchor="middle" font-weight="bold" fill="#2a2a2a" >***</text>
<path d="M137.20,397.30 V395.50 H147.80 V397.30" fill="none" stroke="#3a3a3a" stroke-width="0.7"/>
<text transform="translate(142.50,397.40)" font-size="7.5" text-anchor="middle" font-weight="bold" fill="#2a2a2a" >***</text>
<path d="M148.80,397.30 V395.50 H159.30 V397.30" fill="none" stroke="#3a3a3a" stroke-width="0.7"/>
<text transform="translate(154.05,397.40)" font-size="7.5" text-anchor="middle" font-weight="bold" fill="#2a2a2a" >**</text>
<path d="M149.00,391.10 V389.30 H170.90 V391.10" fill="none" stroke="#3a3a3a" stroke-width="0.7"/>
<text transform="translate(159.95,391.20)" font-size="7.5" text-anchor="middle" font-weight="bold" fill="#2a2a2a" >**</text>
<rect x="41.00" y="472.20" width="5.60" height="5.60" fill="#c8102e" />
<text transform="translate(49.10,477.88)" font-size="8" text-anchor="start" font-weight="normal" fill="#222" >WT + IR</text>
<rect x="41.00" y="480.60" width="5.60" height="5.60" fill="#f39c12" />
<text transform="translate(49.10,486.28)" font-size="8" text-anchor="start" font-weight="normal" fill="#222" >WT + IR + Saline + Vehicle</text>
<rect x="41.00" y="488.80" width="5.60" height="5.60" fill="#1b5aa0" />
<text transform="translate(49.10,494.48)" font-size="8" text-anchor="start" font-weight="normal" fill="#222" >WT + IR + α-MSH + Vehicle</text>
<rect x="41.00" y="497.00" width="5.60" height="5.60" fill="url(#hatch)" />
<text transform="translate(49.10,502.68)" font-size="8" text-anchor="start" font-weight="normal" fill="#222" >WT + IR + α-MSH + MK-2206</text>
<rect x="41.00" y="505.00" width="5.60" height="5.60" fill="#1a4f8f" />
<path d="M41.80,505.80 L45.80,509.80 M45.80,505.80 L41.80,509.80" stroke="#8fb3e0" stroke-width="0.8"/>
<text transform="translate(49.10,510.68)" font-size="8" text-anchor="start" font-weight="normal" fill="#222" >WT + IR + α-MSH + PD325901</text>
<text transform="translate(212.00,326.20)" font-size="12" text-anchor="start" font-weight="bold" fill="#000" >E</text>
<line x1="263.40" y1="427.30" x2="263.40" y2="341.20" stroke="#222" stroke-width="1.1" />
<line x1="260.40" y1="427.30" x2="263.40" y2="427.30" stroke="#222" stroke-width="1.1" />
<text transform="translate(256.60,430.25)" font-size="8.2" text-anchor="end" font-weight="normal" fill="#333" >0.0</text>
<line x1="260.40" y1="406.42" x2="263.40" y2="406.42" stroke="#222" stroke-width="1.1" />
<text transform="translate(256.60,409.37)" font-size="8.2" text-anchor="end" font-weight="normal" fill="#333" >0.3</text>
<line x1="260.40" y1="385.54" x2="263.40" y2="385.54" stroke="#222" stroke-width="1.1" />
<text transform="translate(256.60,388.49)" font-size="8.2" text-anchor="end" font-weight="normal" fill="#333" >0.6</text>
<line x1="260.40" y1="364.66" x2="263.40" y2="364.66" stroke="#222" stroke-width="1.1" />
<text transform="translate(256.60,367.61)" font-size="8.2" text-anchor="end" font-weight="normal" fill="#333" >0.9</text>
<line x1="260.40" y1="343.78" x2="263.40" y2="343.78" stroke="#222" stroke-width="1.1" />
<text transform="translate(256.60,346.73)" font-size="8.2" text-anchor="end" font-weight="normal" fill="#333" >1.2</text>
<rect x="267.30" y="390.41" width="6.40" height="36.89" fill="#c8102e" />
<line x1="270.50" y1="390.41" x2="270.50" y2="387.41" stroke="#333" stroke-width="0.6" />
<line x1="269.30" y1="387.41" x2="271.70" y2="387.41" stroke="#333" stroke-width="0.6" />
<circle cx="272.18" cy="388.47" r="1.0" fill="#2a2a2a" stroke="#2a2a2a" stroke-width="0.6"/>
<circle cx="270.33" cy="387.37" r="1.0" fill="none" stroke="#2a2a2a" stroke-width="0.6"/>
<path d="M271.43,388.39 L273.63,388.39 L272.53,386.39 Z" fill="none" stroke="#2a2a2a" stroke-width="0.6"/>
<circle cx="271.21" cy="390.60" r="1.0" fill="none" stroke="#2a2a2a" stroke-width="0.6"/>
<circle cx="271.38" cy="389.29" r="1.0" fill="#2a2a2a" stroke="#2a2a2a" stroke-width="0.6"/>
<path d="M268.91,390.11 L271.11,390.11 L270.01,388.11 Z" fill="none" stroke="#2a2a2a" stroke-width="0.6"/>
<rect x="277.70" y="389.02" width="6.40" height="38.28" fill="#f39c12" />
<line x1="280.90" y1="389.02" x2="280.90" y2="386.02" stroke="#333" stroke-width="0.6" />
<line x1="279.70" y1="386.02" x2="282.10" y2="386.02" stroke="#333" stroke-width="0.6" />
<circle cx="280.18" cy="389.36" r="1.0" fill="#2a2a2a" stroke="#2a2a2a" stroke-width="0.6"/>
<circle cx="278.89" cy="391.90" r="1.0" fill="none" stroke="#2a2a2a" stroke-width="0.6"/>
<path d="M281.12,392.91 L283.32,392.91 L282.22,390.91 Z" fill="none" stroke="#2a2a2a" stroke-width="0.6"/>
<circle cx="279.93" cy="386.42" r="1.0" fill="none" stroke="#2a2a2a" stroke-width="0.6"/>
<circle cx="279.08" cy="386.38" r="1.0" fill="#2a2a2a" stroke="#2a2a2a" stroke-width="0.6"/>
<path d="M277.85,390.76 L280.05,390.76 L278.95,388.76 Z" fill="none" stroke="#2a2a2a" stroke-width="0.6"/>
<rect x="288.10" y="361.18" width="6.40" height="66.12" fill="#1b5aa0" />
<line x1="291.30" y1="361.18" x2="291.30" y2="352.18" stroke="#333" stroke-width="0.6" />
<line x1="290.10" y1="352.18" x2="292.50" y2="352.18" stroke="#333" stroke-width="0.6" />
<circle cx="289.55" cy="361.34" r="1.0" fill="#2a2a2a" stroke="#2a2a2a" stroke-width="0.6"/>
<circle cx="293.30" cy="359.59" r="1.0" fill="none" stroke="#2a2a2a" stroke-width="0.6"/>
<path d="M290.38,360.70 L292.58,360.70 L291.48,358.70 Z" fill="none" stroke="#2a2a2a" stroke-width="0.6"/>
<circle cx="292.28" cy="361.98" r="1.0" fill="none" stroke="#2a2a2a" stroke-width="0.6"/>
<circle cx="291.70" cy="364.01" r="1.0" fill="#2a2a2a" stroke="#2a2a2a" stroke-width="0.6"/>
<path d="M291.03,360.48 L293.23,360.48 L292.13,358.48 Z" fill="none" stroke="#2a2a2a" stroke-width="0.6"/>
<rect x="298.50" y="373.71" width="6.40" height="53.59" fill="url(#hatch)" />
<line x1="301.70" y1="373.71" x2="301.70" y2="370.71" stroke="#333" stroke-width="0.6" />
<line x1="300.50" y1="370.71" x2="302.90" y2="370.71" stroke="#333" stroke-width="0.6" />
<circle cx="300.80" cy="373.22" r="1.0" fill="#2a2a2a" stroke="#2a2a2a" stroke-width="0.6"/>
<circle cx="301.96" cy="372.93" r="1.0" fill="none" stroke="#2a2a2a" stroke-width="0.6"/>
<path d="M300.96,374.02 L303.16,374.02 L302.06,372.02 Z" fill="none" stroke="#2a2a2a" stroke-width="0.6"/>
<circle cx="301.77" cy="371.12" r="1.0" fill="none" stroke="#2a2a2a" stroke-width="0.6"/>
<circle cx="300.10" cy="371.49" r="1.0" fill="#2a2a2a" stroke="#2a2a2a" stroke-width="0.6"/>
<path d="M301.75,370.79 L303.95,370.79 L302.85,368.79 Z" fill="none" stroke="#2a2a2a" stroke-width="0.6"/>
<rect x="308.90" y="378.58" width="6.40" height="48.72" fill="#1a4f8f" />
<circle cx="312.10" cy="426.07" r="0.85" fill="#a9cbf2"/>
<circle cx="309.80" cy="423.62" r="0.68" fill="#86afe0"/>
<circle cx="314.40" cy="423.62" r="0.68" fill="#86afe0"/>
<circle cx="312.10" cy="421.18" r="0.85" fill="#a9cbf2"/>
<circle cx="309.80" cy="418.73" r="0.68" fill="#86afe0"/>
<circle cx="314.40" cy="418.73" r="0.68" fill="#86afe0"/>
<circle cx="312.10" cy="416.28" r="0.85" fill="#a9cbf2"/>
<circle cx="309.80" cy="413.83" r="0.68" fill="#86afe0"/>
<circle cx="314.40" cy="413.83" r="0.68" fill="#86afe0"/>
<circle cx="312.10" cy="411.38" r="0.85" fill="#a9cbf2"/>
<circle cx="309.80" cy="408.93" r="0.68" fill="#86afe0"/>
<circle cx="314.40" cy="408.93" r="0.68" fill="#86afe0"/>
<circle cx="312.10" cy="406.48" r="0.85" fill="#a9cbf2"/>
<circle cx="309.80" cy="404.03" r="0.68" fill="#86afe0"/>
<circle cx="314.40" cy="404.03" r="0.68" fill="#86afe0"/>
<circle cx="312.10" cy="401.58" r="0.85" fill="#a9cbf2"/>
<circle cx="309.80" cy="399.13" r="0.68" fill="#86afe0"/>
<circle cx="314.40" cy="399.13" r="0.68" fill="#86afe0"/>
<circle cx="312.10" cy="396.68" r="0.85" fill="#a9cbf2"/>
<circle cx="309.80" cy="394.23" r="0.68" fill="#86afe0"/>
<circle cx="314.40" cy="394.23" r="0.68" fill="#86afe0"/>
<circle cx="312.10" cy="391.78" r="0.85" fill="#a9cbf2"/>
<circle cx="309.80" cy="389.33" r="0.68" fill="#86afe0"/>
<circle cx="314.40" cy="389.33" r="0.68" fill="#86afe0"/>
<circle cx="312.10" cy="386.88" r="0.85" fill="#a9cbf2"/>
<circle cx="309.80" cy="384.43" r="0.68" fill="#86afe0"/>
<circle cx="314.40" cy="384.43" r="0.68" fill="#86afe0"/>
<circle cx="312.10" cy="381.98" r="0.85" fill="#a9cbf2"/>
<circle cx="309.80" cy="379.53" r="0.68" fill="#86afe0"/>
<circle cx="314.40" cy="379.53" r="0.68" fill="#86afe0"/>
<line x1="312.10" y1="378.58" x2="312.10" y2="375.58" stroke="#333" stroke-width="0.6" />
<line x1="310.90" y1="375.58" x2="313.30" y2="375.58" stroke="#333" stroke-width="0.6" />
<circle cx="313.57" cy="378.19" r="1.0" fill="#2a2a2a" stroke="#2a2a2a" stroke-width="0.6"/>
<circle cx="310.52" cy="375.42" r="1.0" fill="none" stroke="#2a2a2a" stroke-width="0.6"/>
<path d="M310.22,381.61 L312.42,381.61 L311.32,379.61 Z" fill="none" stroke="#2a2a2a" stroke-width="0.6"/>
<circle cx="313.88" cy="377.04" r="1.0" fill="none" stroke="#2a2a2a" stroke-width="0.6"/>
<circle cx="311.86" cy="377.78" r="1.0" fill="#2a2a2a" stroke="#2a2a2a" stroke-width="0.6"/>
<path d="M312.74,378.60 L314.94,378.60 L313.84,376.60 Z" fill="none" stroke="#2a2a2a" stroke-width="0.6"/>
<line x1="263.00" y1="427.30" x2="330.00" y2="427.30" stroke="#222" stroke-width="1.1" />
<line x1="293.80" y1="427.30" x2="293.80" y2="429.30" stroke="#222" stroke-width="0.8" />
<text transform="translate(293.80,441.60)" font-size="8.4" text-anchor="middle" font-weight="normal" fill="#222" >LT-HSC</text>
<text transform="translate(240.11,384.00) rotate(-90) scale(0.859,1)" font-size="8.8" text-anchor="middle" font-weight="normal" fill="#111" stroke="#111" stroke-width="0.3">Cell number in BM (×10^4)</text>
<path d="M280.20,345.20 V343.40 H290.60 V345.20" fill="none" stroke="#3a3a3a" stroke-width="0.7"/>
<text transform="translate(285.40,345.30)" font-size="7.5" text-anchor="middle" font-weight="bold" fill="#2a2a2a" >***</text>
<path d="M291.40,345.20 V343.40 H301.40 V345.20" fill="none" stroke="#3a3a3a" stroke-width="0.7"/>
<text transform="translate(296.40,345.30)" font-size="7.5" text-anchor="middle" font-weight="bold" fill="#2a2a2a" >**</text>
<path d="M291.30,339.20 V337.40 H312.60 V339.20" fill="none" stroke="#3a3a3a" stroke-width="0.7"/>
<text transform="translate(301.95,339.30)" font-size="7.5" text-anchor="middle" font-weight="bold" fill="#2a2a2a" >**</text>
<rect x="216.80" y="473.10" width="5.60" height="5.60" fill="#c8102e" />
<text transform="translate(224.90,478.78)" font-size="8" text-anchor="start" font-weight="normal" fill="#222" >WT + IR</text>
<rect x="216.80" y="481.10" width="5.60" height="5.60" fill="#f39c12" />
<text transform="translate(224.90,486.78)" font-size="8" text-anchor="start" font-weight="normal" fill="#222" >WT + IR + Saline + Vehicle</text>
<rect x="216.80" y="489.10" width="5.60" height="5.60" fill="#1b5aa0" />
<text transform="translate(224.90,494.78)" font-size="8" text-anchor="start" font-weight="normal" fill="#222" >WT + IR + α-MSH + Vehicle</text>
<rect x="216.80" y="497.30" width="5.60" height="5.60" fill="url(#hatch)" />
<text transform="translate(224.90,502.98)" font-size="8" text-anchor="start" font-weight="normal" fill="#222" >WT + IR + α-MSH + MK-2206</text>
<rect x="216.80" y="505.60" width="5.60" height="5.60" fill="#1a4f8f" />
<path d="M217.60,506.40 L221.60,510.40 M221.60,506.40 L217.60,510.40" stroke="#8fb3e0" stroke-width="0.8"/>
<text transform="translate(224.90,511.28)" font-size="8" text-anchor="start" font-weight="normal" fill="#222" >WT + IR + α-MSH + PD325901</text>
<text transform="translate(358.00,325.80)" font-size="12" text-anchor="start" font-weight="bold" fill="#000" >F</text>
<line x1="401.90" y1="435.70" x2="401.90" y2="351.50" stroke="#222" stroke-width="1.1" />
<line x1="398.90" y1="435.70" x2="401.90" y2="435.70" stroke="#222" stroke-width="1.1" />
<text transform="translate(394.80,438.65)" font-size="8.2" text-anchor="end" font-weight="normal" fill="#333" >0</text>
<line x1="398.90" y1="408.10" x2="401.90" y2="408.10" stroke="#222" stroke-width="1.1" />
<text transform="translate(394.80,411.05)" font-size="8.2" text-anchor="end" font-weight="normal" fill="#333" >5</text>
<line x1="398.90" y1="380.50" x2="401.90" y2="380.50" stroke="#222" stroke-width="1.1" />
<text transform="translate(394.80,383.45)" font-size="8.2" text-anchor="end" font-weight="normal" fill="#333" >10</text>
<line x1="398.90" y1="352.90" x2="401.90" y2="352.90" stroke="#222" stroke-width="1.1" />
<text transform="translate(394.80,355.85)" font-size="8.2" text-anchor="end" font-weight="normal" fill="#333" >15</text>
<line x1="401.90" y1="435.70" x2="512.60" y2="435.70" stroke="#222" stroke-width="1.1" />
<line x1="407.70" y1="435.70" x2="407.70" y2="438.50" stroke="#222" stroke-width="0.9" />
<text transform="translate(407.70,450.20)" font-size="8.2" text-anchor="middle" font-weight="normal" fill="#333" >0</text>
<line x1="417.48" y1="435.70" x2="417.48" y2="438.50" stroke="#222" stroke-width="0.9" />
<text transform="translate(417.48,450.20)" font-size="8.2" text-anchor="middle" font-weight="normal" fill="#333" >3</text>
<line x1="427.26" y1="435.70" x2="427.26" y2="438.50" stroke="#222" stroke-width="0.9" />
<text transform="translate(427.26,450.20)" font-size="8.2" text-anchor="middle" font-weight="normal" fill="#333" >6</text>
<line x1="437.04" y1="435.70" x2="437.04" y2="438.50" stroke="#222" stroke-width="0.9" />
<text transform="translate(437.04,450.20)" font-size="8.2" text-anchor="middle" font-weight="normal" fill="#333" >9</text>
<line x1="446.82" y1="435.70" x2="446.82" y2="438.50" stroke="#222" stroke-width="0.9" />
<text transform="translate(446.82,450.20)" font-size="8.2" text-anchor="middle" font-weight="normal" fill="#333" >12</text>
<line x1="456.60" y1="435.70" x2="456.60" y2="438.50" stroke="#222" stroke-width="0.9" />
<text transform="translate(456.60,450.20)" font-size="8.2" text-anchor="middle" font-weight="normal" fill="#333" >15</text>
<line x1="466.38" y1="435.70" x2="466.38" y2="438.50" stroke="#222" stroke-width="0.9" />
<text transform="translate(466.38,450.20)" font-size="8.2" text-anchor="middle" font-weight="normal" fill="#333" >18</text>
<line x1="476.16" y1="435.70" x2="476.16" y2="438.50" stroke="#222" stroke-width="0.9" />
<text transform="translate(476.16,450.20)" font-size="8.2" text-anchor="middle" font-weight="normal" fill="#333" >21</text>
<line x1="485.94" y1="435.70" x2="485.94" y2="438.50" stroke="#222" stroke-width="0.9" />
<text transform="translate(485.94,450.20)" font-size="8.2" text-anchor="middle" font-weight="normal" fill="#333" >24</text>
<line x1="495.72" y1="435.70" x2="495.72" y2="438.50" stroke="#222" stroke-width="0.9" />
<text transform="translate(495.72,450.20)" font-size="8.2" text-anchor="middle" font-weight="normal" fill="#333" >27</text>
<line x1="505.50" y1="435.70" x2="505.50" y2="438.50" stroke="#222" stroke-width="0.9" />
<text transform="translate(505.50,450.20)" font-size="8.2" text-anchor="middle" font-weight="normal" fill="#333" >30</text>
<line x1="407.70" y1="365.04" x2="407.70" y2="373.88" stroke="#1f4f8a" stroke-width="0.5" />
<line x1="406.80" y1="365.04" x2="408.60" y2="365.04" stroke="#1f4f8a" stroke-width="0.5" />
<line x1="406.80" y1="373.88" x2="408.60" y2="373.88" stroke="#1f4f8a" stroke-width="0.5" />
<line x1="417.48" y1="384.92" x2="417.48" y2="393.75" stroke="#1f4f8a" stroke-width="0.5" />
<line x1="416.58" y1="384.92" x2="418.38" y2="384.92" stroke="#1f4f8a" stroke-width="0.5" />
<line x1="416.58" y1="393.75" x2="418.38" y2="393.75" stroke="#1f4f8a" stroke-width="0.5" />
<line x1="427.26" y1="408.10" x2="427.26" y2="416.93" stroke="#1f4f8a" stroke-width="0.5" />
<line x1="426.36" y1="408.10" x2="428.16" y2="408.10" stroke="#1f4f8a" stroke-width="0.5" />
<line x1="426.36" y1="416.93" x2="428.16" y2="416.93" stroke="#1f4f8a" stroke-width="0.5" />
<line x1="437.04" y1="415.28" x2="437.04" y2="423.00" stroke="#1f4f8a" stroke-width="0.5" />
<line x1="436.14" y1="415.28" x2="437.94" y2="415.28" stroke="#1f4f8a" stroke-width="0.5" />
<line x1="436.14" y1="423.00" x2="437.94" y2="423.00" stroke="#1f4f8a" stroke-width="0.5" />
<line x1="446.82" y1="401.48" x2="446.82" y2="412.52" stroke="#1f4f8a" stroke-width="0.5" />
<line x1="445.92" y1="401.48" x2="447.72" y2="401.48" stroke="#1f4f8a" stroke-width="0.5" />
<line x1="445.92" y1="412.52" x2="447.72" y2="412.52" stroke="#1f4f8a" stroke-width="0.5" />
<line x1="456.60" y1="382.71" x2="456.60" y2="394.85" stroke="#1f4f8a" stroke-width="0.5" />
<line x1="455.70" y1="382.71" x2="457.50" y2="382.71" stroke="#1f4f8a" stroke-width="0.5" />
<line x1="455.70" y1="394.85" x2="457.50" y2="394.85" stroke="#1f4f8a" stroke-width="0.5" />
<line x1="466.38" y1="372.77" x2="466.38" y2="386.02" stroke="#1f4f8a" stroke-width="0.5" />
<line x1="465.48" y1="372.77" x2="467.28" y2="372.77" stroke="#1f4f8a" stroke-width="0.5" />
<line x1="465.48" y1="386.02" x2="467.28" y2="386.02" stroke="#1f4f8a" stroke-width="0.5" />
<line x1="476.16" y1="366.15" x2="476.16" y2="379.40" stroke="#1f4f8a" stroke-width="0.5" />
<line x1="475.26" y1="366.15" x2="477.06" y2="366.15" stroke="#1f4f8a" stroke-width="0.5" />
<line x1="475.26" y1="379.40" x2="477.06" y2="379.40" stroke="#1f4f8a" stroke-width="0.5" />
<line x1="485.94" y1="365.04" x2="485.94" y2="374.98" stroke="#1f4f8a" stroke-width="0.5" />
<line x1="485.04" y1="365.04" x2="486.84" y2="365.04" stroke="#1f4f8a" stroke-width="0.5" />
<line x1="485.04" y1="374.98" x2="486.84" y2="374.98" stroke="#1f4f8a" stroke-width="0.5" />
<line x1="495.72" y1="364.49" x2="495.72" y2="373.32" stroke="#1f4f8a" stroke-width="0.5" />
<line x1="494.82" y1="364.49" x2="496.62" y2="364.49" stroke="#1f4f8a" stroke-width="0.5" />
<line x1="494.82" y1="373.32" x2="496.62" y2="373.32" stroke="#1f4f8a" stroke-width="0.5" />
<line x1="505.50" y1="364.49" x2="505.50" y2="373.32" stroke="#1f4f8a" stroke-width="0.5" />
<line x1="504.60" y1="364.49" x2="506.40" y2="364.49" stroke="#1f4f8a" stroke-width="0.5" />
<line x1="504.60" y1="373.32" x2="506.40" y2="373.32" stroke="#1f4f8a" stroke-width="0.5" />
<line x1="407.70" y1="366.15" x2="407.70" y2="374.98" stroke="#2f5f9c" stroke-width="0.5" />
<line x1="406.80" y1="366.15" x2="408.60" y2="366.15" stroke="#2f5f9c" stroke-width="0.5" />
<line x1="406.80" y1="374.98" x2="408.60" y2="374.98" stroke="#2f5f9c" stroke-width="0.5" />
<line x1="417.48" y1="386.02" x2="417.48" y2="394.85" stroke="#2f5f9c" stroke-width="0.5" />
<line x1="416.58" y1="386.02" x2="418.38" y2="386.02" stroke="#2f5f9c" stroke-width="0.5" />
<line x1="416.58" y1="394.85" x2="418.38" y2="394.85" stroke="#2f5f9c" stroke-width="0.5" />
<line x1="427.26" y1="409.20" x2="427.26" y2="418.04" stroke="#2f5f9c" stroke-width="0.5" />
<line x1="426.36" y1="409.20" x2="428.16" y2="409.20" stroke="#2f5f9c" stroke-width="0.5" />
<line x1="426.36" y1="418.04" x2="428.16" y2="418.04" stroke="#2f5f9c" stroke-width="0.5" />
<line x1="437.04" y1="415.83" x2="437.04" y2="423.56" stroke="#2f5f9c" stroke-width="0.5" />
<line x1="436.14" y1="415.83" x2="437.94" y2="415.83" stroke="#2f5f9c" stroke-width="0.5" />
<line x1="436.14" y1="423.56" x2="437.94" y2="423.56" stroke="#2f5f9c" stroke-width="0.5" />
<line x1="446.82" y1="399.82" x2="446.82" y2="410.86" stroke="#2f5f9c" stroke-width="0.5" />
<line x1="445.92" y1="399.82" x2="447.72" y2="399.82" stroke="#2f5f9c" stroke-width="0.5" />
<line x1="445.92" y1="410.86" x2="447.72" y2="410.86" stroke="#2f5f9c" stroke-width="0.5" />
<line x1="456.60" y1="384.36" x2="456.60" y2="396.51" stroke="#2f5f9c" stroke-width="0.5" />
<line x1="455.70" y1="384.36" x2="457.50" y2="384.36" stroke="#2f5f9c" stroke-width="0.5" />
<line x1="455.70" y1="396.51" x2="457.50" y2="396.51" stroke="#2f5f9c" stroke-width="0.5" />
<line x1="466.38" y1="373.88" x2="466.38" y2="387.12" stroke="#2f5f9c" stroke-width="0.5" />
<line x1="465.48" y1="373.88" x2="467.28" y2="373.88" stroke="#2f5f9c" stroke-width="0.5" />
<line x1="465.48" y1="387.12" x2="467.28" y2="387.12" stroke="#2f5f9c" stroke-width="0.5" />
<line x1="476.16" y1="366.70" x2="476.16" y2="379.95" stroke="#2f5f9c" stroke-width="0.5" />
<line x1="475.26" y1="366.70" x2="477.06" y2="366.70" stroke="#2f5f9c" stroke-width="0.5" />
<line x1="475.26" y1="379.95" x2="477.06" y2="379.95" stroke="#2f5f9c" stroke-width="0.5" />
<line x1="485.94" y1="365.60" x2="485.94" y2="375.53" stroke="#2f5f9c" stroke-width="0.5" />
<line x1="485.04" y1="365.60" x2="486.84" y2="365.60" stroke="#2f5f9c" stroke-width="0.5" />
<line x1="485.04" y1="375.53" x2="486.84" y2="375.53" stroke="#2f5f9c" stroke-width="0.5" />
<line x1="495.72" y1="365.04" x2="495.72" y2="373.88" stroke="#2f5f9c" stroke-width="0.5" />
<line x1="494.82" y1="365.04" x2="496.62" y2="365.04" stroke="#2f5f9c" stroke-width="0.5" />
<line x1="494.82" y1="373.88" x2="496.62" y2="373.88" stroke="#2f5f9c" stroke-width="0.5" />
<line x1="505.50" y1="365.04" x2="505.50" y2="373.88" stroke="#2f5f9c" stroke-width="0.5" />
<line x1="504.60" y1="365.04" x2="506.40" y2="365.04" stroke="#2f5f9c" stroke-width="0.5" />
<line x1="504.60" y1="373.88" x2="506.40" y2="373.88" stroke="#2f5f9c" stroke-width="0.5" />
<line x1="407.70" y1="366.70" x2="407.70" y2="383.26" stroke="#f0b060" stroke-width="0.5" />
<line x1="406.80" y1="366.70" x2="408.60" y2="366.70" stroke="#f0b060" stroke-width="0.5" />
<line x1="406.80" y1="383.26" x2="408.60" y2="383.26" stroke="#f0b060" stroke-width="0.5" />
<line x1="417.48" y1="390.99" x2="417.48" y2="399.82" stroke="#f0b060" stroke-width="0.5" />
<line x1="416.58" y1="390.99" x2="418.38" y2="390.99" stroke="#f0b060" stroke-width="0.5" />
<line x1="416.58" y1="399.82" x2="418.38" y2="399.82" stroke="#f0b060" stroke-width="0.5" />
<line x1="427.26" y1="413.07" x2="427.26" y2="420.80" stroke="#f0b060" stroke-width="0.5" />
<line x1="426.36" y1="413.07" x2="428.16" y2="413.07" stroke="#f0b060" stroke-width="0.5" />
<line x1="426.36" y1="420.80" x2="428.16" y2="420.80" stroke="#f0b060" stroke-width="0.5" />
<line x1="437.04" y1="420.80" x2="437.04" y2="427.42" stroke="#f0b060" stroke-width="0.5" />
<line x1="436.14" y1="420.80" x2="437.94" y2="420.80" stroke="#f0b060" stroke-width="0.5" />
<line x1="436.14" y1="427.42" x2="437.94" y2="427.42" stroke="#f0b060" stroke-width="0.5" />
<line x1="446.82" y1="412.52" x2="446.82" y2="421.35" stroke="#f0b060" stroke-width="0.5" />
<line x1="445.92" y1="412.52" x2="447.72" y2="412.52" stroke="#f0b060" stroke-width="0.5" />
<line x1="445.92" y1="421.35" x2="447.72" y2="421.35" stroke="#f0b060" stroke-width="0.5" />
<line x1="456.60" y1="397.06" x2="456.60" y2="407.00" stroke="#f0b060" stroke-width="0.5" />
<line x1="455.70" y1="397.06" x2="457.50" y2="397.06" stroke="#f0b060" stroke-width="0.5" />
<line x1="455.70" y1="407.00" x2="457.50" y2="407.00" stroke="#f0b060" stroke-width="0.5" />
<line x1="466.38" y1="383.26" x2="466.38" y2="394.30" stroke="#f0b060" stroke-width="0.5" />
<line x1="465.48" y1="383.26" x2="467.28" y2="383.26" stroke="#f0b060" stroke-width="0.5" />
<line x1="465.48" y1="394.30" x2="467.28" y2="394.30" stroke="#f0b060" stroke-width="0.5" />
<line x1="476.16" y1="370.56" x2="476.16" y2="381.60" stroke="#f0b060" stroke-width="0.5" />
<line x1="475.26" y1="370.56" x2="477.06" y2="370.56" stroke="#f0b060" stroke-width="0.5" />
<line x1="475.26" y1="381.60" x2="477.06" y2="381.60" stroke="#f0b060" stroke-width="0.5" />
<line x1="485.94" y1="367.80" x2="485.94" y2="377.74" stroke="#f0b060" stroke-width="0.5" />
<line x1="485.04" y1="367.80" x2="486.84" y2="367.80" stroke="#f0b060" stroke-width="0.5" />
<line x1="485.04" y1="377.74" x2="486.84" y2="377.74" stroke="#f0b060" stroke-width="0.5" />
<line x1="495.72" y1="368.36" x2="495.72" y2="377.19" stroke="#f0b060" stroke-width="0.5" />
<line x1="494.82" y1="368.36" x2="496.62" y2="368.36" stroke="#f0b060" stroke-width="0.5" />
<line x1="494.82" y1="377.19" x2="496.62" y2="377.19" stroke="#f0b060" stroke-width="0.5" />
<line x1="505.50" y1="367.25" x2="505.50" y2="376.08" stroke="#f0b060" stroke-width="0.5" />
<line x1="504.60" y1="367.25" x2="506.40" y2="367.25" stroke="#f0b060" stroke-width="0.5" />
<line x1="504.60" y1="376.08" x2="506.40" y2="376.08" stroke="#f0b060" stroke-width="0.5" />
<line x1="407.70" y1="368.91" x2="407.70" y2="379.95" stroke="#d8301e" stroke-width="0.5" />
<line x1="406.80" y1="368.91" x2="408.60" y2="368.91" stroke="#d8301e" stroke-width="0.5" />
<line x1="406.80" y1="379.95" x2="408.60" y2="379.95" stroke="#d8301e" stroke-width="0.5" />
<line x1="417.48" y1="390.44" x2="417.48" y2="398.16" stroke="#d8301e" stroke-width="0.5" />
<line x1="416.58" y1="390.44" x2="418.38" y2="390.44" stroke="#d8301e" stroke-width="0.5" />
<line x1="416.58" y1="398.16" x2="418.38" y2="398.16" stroke="#d8301e" stroke-width="0.5" />
<line x1="427.26" y1="412.52" x2="427.26" y2="419.14" stroke="#d8301e" stroke-width="0.5" />
<line x1="426.36" y1="412.52" x2="428.16" y2="412.52" stroke="#d8301e" stroke-width="0.5" />
<line x1="426.36" y1="419.14" x2="428.16" y2="419.14" stroke="#d8301e" stroke-width="0.5" />
<line x1="437.04" y1="419.69" x2="437.04" y2="425.21" stroke="#d8301e" stroke-width="0.5" />
<line x1="436.14" y1="419.69" x2="437.94" y2="419.69" stroke="#d8301e" stroke-width="0.5" />
<line x1="436.14" y1="425.21" x2="437.94" y2="425.21" stroke="#d8301e" stroke-width="0.5" />
<line x1="446.82" y1="411.41" x2="446.82" y2="419.14" stroke="#d8301e" stroke-width="0.5" />
<line x1="445.92" y1="411.41" x2="447.72" y2="411.41" stroke="#d8301e" stroke-width="0.5" />
<line x1="445.92" y1="419.14" x2="447.72" y2="419.14" stroke="#d8301e" stroke-width="0.5" />
<line x1="456.60" y1="395.96" x2="456.60" y2="405.89" stroke="#d8301e" stroke-width="0.5" />
<line x1="455.70" y1="395.96" x2="457.50" y2="395.96" stroke="#d8301e" stroke-width="0.5" />
<line x1="455.70" y1="405.89" x2="457.50" y2="405.89" stroke="#d8301e" stroke-width="0.5" />
<line x1="466.38" y1="381.05" x2="466.38" y2="392.09" stroke="#d8301e" stroke-width="0.5" />
<line x1="465.48" y1="381.05" x2="467.28" y2="381.05" stroke="#d8301e" stroke-width="0.5" />
<line x1="465.48" y1="392.09" x2="467.28" y2="392.09" stroke="#d8301e" stroke-width="0.5" />
<line x1="476.16" y1="370.01" x2="476.16" y2="381.05" stroke="#d8301e" stroke-width="0.5" />
<line x1="475.26" y1="370.01" x2="477.06" y2="370.01" stroke="#d8301e" stroke-width="0.5" />
<line x1="475.26" y1="381.05" x2="477.06" y2="381.05" stroke="#d8301e" stroke-width="0.5" />
<line x1="485.94" y1="368.36" x2="485.94" y2="377.19" stroke="#d8301e" stroke-width="0.5" />
<line x1="485.04" y1="368.36" x2="486.84" y2="368.36" stroke="#d8301e" stroke-width="0.5" />
<line x1="485.04" y1="377.19" x2="486.84" y2="377.19" stroke="#d8301e" stroke-width="0.5" />
<line x1="495.72" y1="367.80" x2="495.72" y2="376.64" stroke="#d8301e" stroke-width="0.5" />
<line x1="494.82" y1="367.80" x2="496.62" y2="367.80" stroke="#d8301e" stroke-width="0.5" />
<line x1="494.82" y1="376.64" x2="496.62" y2="376.64" stroke="#d8301e" stroke-width="0.5" />
<line x1="505.50" y1="367.80" x2="505.50" y2="375.53" stroke="#d8301e" stroke-width="0.5" />
<line x1="504.60" y1="367.80" x2="506.40" y2="367.80" stroke="#d8301e" stroke-width="0.5" />
<line x1="504.60" y1="375.53" x2="506.40" y2="375.53" stroke="#d8301e" stroke-width="0.5" />
<line x1="407.70" y1="364.49" x2="407.70" y2="373.32" stroke="#1f4f8a" stroke-width="0.5" />
<line x1="406.80" y1="364.49" x2="408.60" y2="364.49" stroke="#1f4f8a" stroke-width="0.5" />
<line x1="406.80" y1="373.32" x2="408.60" y2="373.32" stroke="#1f4f8a" stroke-width="0.5" />
<line x1="417.48" y1="383.81" x2="417.48" y2="392.64" stroke="#1f4f8a" stroke-width="0.5" />
<line x1="416.58" y1="383.81" x2="418.38" y2="383.81" stroke="#1f4f8a" stroke-width="0.5" />
<line x1="416.58" y1="392.64" x2="418.38" y2="392.64" stroke="#1f4f8a" stroke-width="0.5" />
<line x1="427.26" y1="404.79" x2="427.26" y2="414.72" stroke="#1f4f8a" stroke-width="0.5" />
<line x1="426.36" y1="404.79" x2="428.16" y2="404.79" stroke="#1f4f8a" stroke-width="0.5" />
<line x1="426.36" y1="414.72" x2="428.16" y2="414.72" stroke="#1f4f8a" stroke-width="0.5" />
<line x1="437.04" y1="410.86" x2="437.04" y2="419.69" stroke="#1f4f8a" stroke-width="0.5" />
<line x1="436.14" y1="410.86" x2="437.94" y2="410.86" stroke="#1f4f8a" stroke-width="0.5" />
<line x1="436.14" y1="419.69" x2="437.94" y2="419.69" stroke="#1f4f8a" stroke-width="0.5" />
<line x1="446.82" y1="392.64" x2="446.82" y2="405.89" stroke="#1f4f8a" stroke-width="0.5" />
<line x1="445.92" y1="392.64" x2="447.72" y2="392.64" stroke="#1f4f8a" stroke-width="0.5" />
<line x1="445.92" y1="405.89" x2="447.72" y2="405.89" stroke="#1f4f8a" stroke-width="0.5" />
<line x1="456.60" y1="368.36" x2="456.60" y2="382.71" stroke="#1f4f8a" stroke-width="0.5" />
<line x1="455.70" y1="368.36" x2="457.50" y2="368.36" stroke="#1f4f8a" stroke-width="0.5" />
<line x1="455.70" y1="382.71" x2="457.50" y2="382.71" stroke="#1f4f8a" stroke-width="0.5" />
<line x1="466.38" y1="358.42" x2="466.38" y2="373.88" stroke="#1f4f8a" stroke-width="0.5" />
<line x1="465.48" y1="358.42" x2="467.28" y2="358.42" stroke="#1f4f8a" stroke-width="0.5" />
<line x1="465.48" y1="373.88" x2="467.28" y2="373.88" stroke="#1f4f8a" stroke-width="0.5" />
<line x1="476.16" y1="357.32" x2="476.16" y2="371.67" stroke="#1f4f8a" stroke-width="0.5" />
<line x1="475.26" y1="357.32" x2="477.06" y2="357.32" stroke="#1f4f8a" stroke-width="0.5" />
<line x1="475.26" y1="371.67" x2="477.06" y2="371.67" stroke="#1f4f8a" stroke-width="0.5" />
<line x1="485.94" y1="362.28" x2="485.94" y2="371.12" stroke="#1f4f8a" stroke-width="0.5" />
<line x1="485.04" y1="362.28" x2="486.84" y2="362.28" stroke="#1f4f8a" stroke-width="0.5" />
<line x1="485.04" y1="371.12" x2="486.84" y2="371.12" stroke="#1f4f8a" stroke-width="0.5" />
<line x1="495.72" y1="362.84" x2="495.72" y2="371.67" stroke="#1f4f8a" stroke-width="0.5" />
<line x1="494.82" y1="362.84" x2="496.62" y2="362.84" stroke="#1f4f8a" stroke-width="0.5" />
<line x1="494.82" y1="371.67" x2="496.62" y2="371.67" stroke="#1f4f8a" stroke-width="0.5" />
<line x1="505.50" y1="365.04" x2="505.50" y2="372.77" stroke="#1f4f8a" stroke-width="0.5" />
<line x1="504.60" y1="365.04" x2="506.40" y2="365.04" stroke="#1f4f8a" stroke-width="0.5" />
<line x1="504.60" y1="372.77" x2="506.40" y2="372.77" stroke="#1f4f8a" stroke-width="0.5" />
<polyline points="407.70,369.46 417.48,389.33 427.26,412.52 437.04,419.14 446.82,407.00 456.60,388.78 466.38,379.40 476.16,372.77 485.94,370.01 495.72,368.91 505.50,368.91" fill="none" stroke="#1f4f8a" stroke-width="1.25" stroke-dasharray="1.8,1.3" stroke-linejoin="round"/>
<circle cx="407.70" cy="369.46" r="1.1" fill="#1f4f8a"/>
<circle cx="417.48" cy="389.33" r="1.1" fill="#1f4f8a"/>
<circle cx="427.26" cy="412.52" r="1.1" fill="#1f4f8a"/>
<circle cx="437.04" cy="419.14" r="1.1" fill="#1f4f8a"/>
<circle cx="446.82" cy="407.00" r="1.1" fill="#1f4f8a"/>
<circle cx="456.60" cy="388.78" r="1.1" fill="#1f4f8a"/>
<circle cx="466.38" cy="379.40" r="1.1" fill="#1f4f8a"/>
<circle cx="476.16" cy="372.77" r="1.1" fill="#1f4f8a"/>
<circle cx="485.94" cy="370.01" r="1.1" fill="#1f4f8a"/>
<circle cx="495.72" cy="368.91" r="1.1" fill="#1f4f8a"/>
<circle cx="505.50" cy="368.91" r="1.1" fill="#1f4f8a"/>
<polyline points="407.70,370.56 417.48,390.44 427.26,413.62 437.04,419.69 446.82,405.34 456.60,390.44 466.38,380.50 476.16,373.32 485.94,370.56 495.72,369.46 505.50,369.46" fill="none" stroke="#2f5f9c" stroke-width="1.25" stroke-dasharray="0.9,1.3" stroke-linejoin="round"/>
<circle cx="407.70" cy="370.56" r="1.1" fill="#2f5f9c"/>
<circle cx="417.48" cy="390.44" r="1.1" fill="#2f5f9c"/>
<circle cx="427.26" cy="413.62" r="1.1" fill="#2f5f9c"/>
<circle cx="437.04" cy="419.69" r="1.1" fill="#2f5f9c"/>
<circle cx="446.82" cy="405.34" r="1.1" fill="#2f5f9c"/>
<circle cx="456.60" cy="390.44" r="1.1" fill="#2f5f9c"/>
<circle cx="466.38" cy="380.50" r="1.1" fill="#2f5f9c"/>
<circle cx="476.16" cy="373.32" r="1.1" fill="#2f5f9c"/>
<circle cx="485.94" cy="370.56" r="1.1" fill="#2f5f9c"/>
<circle cx="495.72" cy="369.46" r="1.1" fill="#2f5f9c"/>
<circle cx="505.50" cy="369.46" r="1.1" fill="#2f5f9c"/>
<polyline points="407.70,374.98 417.48,395.40 427.26,416.93 437.04,424.11 446.82,416.93 456.60,402.03 466.38,388.78 476.16,376.08 485.94,372.77 495.72,372.77 505.50,371.67" fill="none" stroke="#f39c12" stroke-width="1.25"  stroke-linejoin="round"/>
<circle cx="407.70" cy="374.98" r="1.1" fill="#f39c12"/>
<circle cx="417.48" cy="395.40" r="1.1" fill="#f39c12"/>
<circle cx="427.26" cy="416.93" r="1.1" fill="#f39c12"/>
<circle cx="437.04" cy="424.11" r="1.1" fill="#f39c12"/>
<circle cx="446.82" cy="416.93" r="1.1" fill="#f39c12"/>
<circle cx="456.60" cy="402.03" r="1.1" fill="#f39c12"/>
<circle cx="466.38" cy="388.78" r="1.1" fill="#f39c12"/>
<circle cx="476.16" cy="376.08" r="1.1" fill="#f39c12"/>
<circle cx="485.94" cy="372.77" r="1.1" fill="#f39c12"/>
<circle cx="495.72" cy="372.77" r="1.1" fill="#f39c12"/>
<circle cx="505.50" cy="371.67" r="1.1" fill="#f39c12"/>
<polyline points="407.70,374.43 417.48,394.30 427.26,415.83 437.04,422.45 446.82,415.28 456.60,400.92 466.38,386.57 476.16,375.53 485.94,372.77 495.72,372.22 505.50,371.67" fill="none" stroke="#d8301e" stroke-width="1.25"  stroke-linejoin="round"/>
<circle cx="407.70" cy="374.43" r="1.1" fill="#d8301e"/>
<circle cx="417.48" cy="394.30" r="1.1" fill="#d8301e"/>
<circle cx="427.26" cy="415.83" r="1.1" fill="#d8301e"/>
<circle cx="437.04" cy="422.45" r="1.1" fill="#d8301e"/>
<circle cx="446.82" cy="415.28" r="1.1" fill="#d8301e"/>
<circle cx="456.60" cy="400.92" r="1.1" fill="#d8301e"/>
<circle cx="466.38" cy="386.57" r="1.1" fill="#d8301e"/>
<circle cx="476.16" cy="375.53" r="1.1" fill="#d8301e"/>
<circle cx="485.94" cy="372.77" r="1.1" fill="#d8301e"/>
<circle cx="495.72" cy="372.22" r="1.1" fill="#d8301e"/>
<circle cx="505.50" cy="371.67" r="1.1" fill="#d8301e"/>
<polyline points="407.70,368.91 417.48,388.23 427.26,409.76 437.04,415.28 446.82,399.27 456.60,375.53 466.38,366.15 476.16,364.49 485.94,366.70 495.72,367.25 505.50,368.91" fill="none" stroke="#1f4f8a" stroke-width="1.25"  stroke-linejoin="round"/>
<circle cx="407.70" cy="368.91" r="1.1" fill="#1f4f8a"/>
<circle cx="417.48" cy="388.23" r="1.1" fill="#1f4f8a"/>
<circle cx="427.26" cy="409.76" r="1.1" fill="#1f4f8a"/>
<circle cx="437.04" cy="415.28" r="1.1" fill="#1f4f8a"/>
<circle cx="446.82" cy="399.27" r="1.1" fill="#1f4f8a"/>
<circle cx="456.60" cy="375.53" r="1.1" fill="#1f4f8a"/>
<circle cx="466.38" cy="366.15" r="1.1" fill="#1f4f8a"/>
<circle cx="476.16" cy="364.49" r="1.1" fill="#1f4f8a"/>
<circle cx="485.94" cy="366.70" r="1.1" fill="#1f4f8a"/>
<circle cx="495.72" cy="367.25" r="1.1" fill="#1f4f8a"/>
<circle cx="505.50" cy="368.91" r="1.1" fill="#1f4f8a"/>
<text x="444.50" y="340.70" font-size="10.0" textLength="25.80" lengthAdjust="spacingAndGlyphs" font-weight="normal" fill="#1e1e1e">WBC</text>
<text transform="translate(379.54,392.80) rotate(-90) scale(0.862,1)" font-size="10.0" text-anchor="middle" font-weight="normal" fill="#111" stroke="#111" stroke-width="0.3">10^9/L</text>
<text transform="translate(457.00,463.48) scale(0.775,1)" font-size="9.0" text-anchor="middle" font-weight="normal" fill="#111" stroke="#111" stroke-width="0.3">Days after IR (5.0 Gy)</text>
<text transform="translate(437.04,401.60)" font-size="7.5" text-anchor="middle" font-weight="bold" fill="#2a2a2a" >**</text>
<text transform="translate(437.04,403.70)" font-size="5.2" text-anchor="middle" font-weight="bold" fill="#3a3a3a" >#</text>
<text transform="translate(437.04,407.70)" font-size="5.2" text-anchor="middle" font-weight="bold" fill="#3a3a3a" >†</text>
<text transform="translate(446.82,379.70)" font-size="7.5" text-anchor="middle" font-weight="bold" fill="#2a2a2a" >***</text>
<text transform="translate(446.82,381.60)" font-size="5.2" text-anchor="middle" font-weight="bold" fill="#3a3a3a" >#</text>
<text transform="translate(446.82,385.70)" font-size="5.2" text-anchor="middle" font-weight="bold" fill="#3a3a3a" >†</text>
<text transform="translate(456.60,360.70)" font-size="7.5" text-anchor="middle" font-weight="bold" fill="#2a2a2a" >***</text>
<text transform="translate(456.60,362.30)" font-size="5.2" text-anchor="middle" font-weight="bold" fill="#3a3a3a" >##</text>
<text transform="translate(456.60,365.90)" font-size="5.2" text-anchor="middle" font-weight="bold" fill="#3a3a3a" >††</text>
<text transform="translate(466.38,350.20)" font-size="7.5" text-anchor="middle" font-weight="bold" fill="#2a2a2a" >***</text>
<text transform="translate(466.38,351.70)" font-size="5.2" text-anchor="middle" font-weight="bold" fill="#3a3a3a" >##</text>
<text transform="translate(466.38,355.70)" font-size="5.2" text-anchor="middle" font-weight="bold" fill="#3a3a3a" >††</text>
<text transform="translate(476.16,349.20)" font-size="7.5" text-anchor="middle" font-weight="bold" fill="#2a2a2a" >*</text>
<text transform="translate(476.16,351.00)" font-size="5.2" text-anchor="middle" font-weight="bold" fill="#3a3a3a" >#</text>
<text transform="translate(476.16,354.90)" font-size="5.2" text-anchor="middle" font-weight="bold" fill="#3a3a3a" >†</text>
<line x1="372.70" y1="476.50" x2="381.90" y2="476.50" stroke="#d8301e" stroke-width="0.9" />
<circle cx="377.30" cy="476.50" r="1.0" fill="#d8301e"/>
<text transform="translate(384.70,479.40)" font-size="8.1" text-anchor="start" font-weight="normal" fill="#222" >WT + IR</text>
<line x1="372.70" y1="483.90" x2="381.90" y2="483.90" stroke="#f39c12" stroke-width="0.9" />
<circle cx="377.30" cy="483.90" r="1.0" fill="#f39c12"/>
<text transform="translate(384.70,486.80)" font-size="8.1" text-anchor="start" font-weight="normal" fill="#222" >WT + IR + Saline + Vehicle</text>
<line x1="372.70" y1="491.60" x2="381.90" y2="491.60" stroke="#1f4f8a" stroke-width="0.9" />
<circle cx="377.30" cy="491.60" r="1.0" fill="#1f4f8a"/>
<text transform="translate(384.70,494.50)" font-size="8.1" text-anchor="start" font-weight="normal" fill="#222" >WT + IR + α-MSH + Vehicle</text>
<line x1="372.70" y1="499.70" x2="381.90" y2="499.70" stroke="#1f4f8a" stroke-width="0.9" stroke-dasharray="1.5,1.2"/>
<circle cx="377.30" cy="499.70" r="1.0" fill="#1f4f8a"/>
<text transform="translate(384.70,502.60)" font-size="8.1" text-anchor="start" font-weight="normal" fill="#222" >WT + IR + α-MSH + MK-2206</text>
<line x1="372.70" y1="507.60" x2="381.90" y2="507.60" stroke="#2f5f9c" stroke-width="0.9" stroke-dasharray="0.8,1.2"/>
<circle cx="377.30" cy="507.60" r="1.0" fill="#2f5f9c"/>
<text transform="translate(384.70,510.50)" font-size="8.1" text-anchor="start" font-weight="normal" fill="#222" >WT + IR + α-MSH + PD325901</text>
<path d="M484.40,484.80 H487.50 V492.60 H484.40" fill="none" stroke="#333" stroke-width="0.75"/>
<path d="M491.70,493.80 H494.60 V501.20 H491.70" fill="none" stroke="#333" stroke-width="0.75"/>
<path d="M504.10,493.80 H506.70 V509.10 H504.10" fill="none" stroke="#333" stroke-width="0.75"/>
<text transform="translate(490.60,492.15)" font-size="7.5" text-anchor="middle" font-weight="bold" fill="#2a2a2a" >*</text>
<text transform="translate(498.10,501.55)" font-size="7.5" text-anchor="middle" font-weight="bold" fill="#2a2a2a" >*</text>
<text transform="translate(511.00,502.40)" font-size="6" text-anchor="middle" font-weight="normal" fill="#333" >†</text>
<text transform="translate(9.20,532.00)" font-size="12" text-anchor="start" font-weight="bold" fill="#000" >G</text>
<line x1="52.30" y1="638.50" x2="52.30" y2="554.50" stroke="#222" stroke-width="1.1" />
<line x1="49.30" y1="638.50" x2="52.30" y2="638.50" stroke="#222" stroke-width="1.1" />
<text transform="translate(44.90,641.45)" font-size="8.2" text-anchor="end" font-weight="normal" fill="#333" >0</text>
<line x1="49.30" y1="610.85" x2="52.30" y2="610.85" stroke="#222" stroke-width="1.1" />
<text transform="translate(44.90,613.80)" font-size="8.2" text-anchor="end" font-weight="normal" fill="#333" >5</text>
<line x1="49.30" y1="583.20" x2="52.30" y2="583.20" stroke="#222" stroke-width="1.1" />
<text transform="translate(44.90,586.15)" font-size="8.2" text-anchor="end" font-weight="normal" fill="#333" >10</text>
<line x1="49.30" y1="555.55" x2="52.30" y2="555.55" stroke="#222" stroke-width="1.1" />
<text transform="translate(44.90,558.50)" font-size="8.2" text-anchor="end" font-weight="normal" fill="#333" >15</text>
<line x1="52.30" y1="638.50" x2="162.90" y2="638.50" stroke="#222" stroke-width="1.1" />
<line x1="58.05" y1="638.50" x2="58.05" y2="641.30" stroke="#222" stroke-width="0.9" />
<text transform="translate(58.05,653.20)" font-size="8.2" text-anchor="middle" font-weight="normal" fill="#333" >0</text>
<line x1="67.88" y1="638.50" x2="67.88" y2="641.30" stroke="#222" stroke-width="0.9" />
<text transform="translate(67.88,653.20)" font-size="8.2" text-anchor="middle" font-weight="normal" fill="#333" >3</text>
<line x1="77.70" y1="638.50" x2="77.70" y2="641.30" stroke="#222" stroke-width="0.9" />
<text transform="translate(77.70,653.20)" font-size="8.2" text-anchor="middle" font-weight="normal" fill="#333" >6</text>
<line x1="87.52" y1="638.50" x2="87.52" y2="641.30" stroke="#222" stroke-width="0.9" />
<text transform="translate(87.52,653.20)" font-size="8.2" text-anchor="middle" font-weight="normal" fill="#333" >9</text>
<line x1="97.35" y1="638.50" x2="97.35" y2="641.30" stroke="#222" stroke-width="0.9" />
<text transform="translate(97.35,653.20)" font-size="8.2" text-anchor="middle" font-weight="normal" fill="#333" >12</text>
<line x1="107.17" y1="638.50" x2="107.17" y2="641.30" stroke="#222" stroke-width="0.9" />
<text transform="translate(107.17,653.20)" font-size="8.2" text-anchor="middle" font-weight="normal" fill="#333" >15</text>
<line x1="117.00" y1="638.50" x2="117.00" y2="641.30" stroke="#222" stroke-width="0.9" />
<text transform="translate(117.00,653.20)" font-size="8.2" text-anchor="middle" font-weight="normal" fill="#333" >18</text>
<line x1="126.82" y1="638.50" x2="126.82" y2="641.30" stroke="#222" stroke-width="0.9" />
<text transform="translate(126.82,653.20)" font-size="8.2" text-anchor="middle" font-weight="normal" fill="#333" >21</text>
<line x1="136.65" y1="638.50" x2="136.65" y2="641.30" stroke="#222" stroke-width="0.9" />
<text transform="translate(136.65,653.20)" font-size="8.2" text-anchor="middle" font-weight="normal" fill="#333" >24</text>
<line x1="146.47" y1="638.50" x2="146.47" y2="641.30" stroke="#222" stroke-width="0.9" />
<text transform="translate(146.47,653.20)" font-size="8.2" text-anchor="middle" font-weight="normal" fill="#333" >27</text>
<line x1="156.30" y1="638.50" x2="156.30" y2="641.30" stroke="#222" stroke-width="0.9" />
<text transform="translate(156.30,653.20)" font-size="8.2" text-anchor="middle" font-weight="normal" fill="#333" >30</text>
<line x1="58.05" y1="572.69" x2="58.05" y2="581.54" stroke="#1f4f8a" stroke-width="0.5" />
<line x1="57.15" y1="572.69" x2="58.95" y2="572.69" stroke="#1f4f8a" stroke-width="0.5" />
<line x1="57.15" y1="581.54" x2="58.95" y2="581.54" stroke="#1f4f8a" stroke-width="0.5" />
<line x1="67.88" y1="585.41" x2="67.88" y2="595.37" stroke="#1f4f8a" stroke-width="0.5" />
<line x1="66.97" y1="585.41" x2="68.78" y2="585.41" stroke="#1f4f8a" stroke-width="0.5" />
<line x1="66.97" y1="595.37" x2="68.78" y2="595.37" stroke="#1f4f8a" stroke-width="0.5" />
<line x1="77.70" y1="595.37" x2="77.70" y2="605.32" stroke="#1f4f8a" stroke-width="0.5" />
<line x1="76.80" y1="595.37" x2="78.60" y2="595.37" stroke="#1f4f8a" stroke-width="0.5" />
<line x1="76.80" y1="605.32" x2="78.60" y2="605.32" stroke="#1f4f8a" stroke-width="0.5" />
<line x1="87.52" y1="588.73" x2="87.52" y2="599.79" stroke="#1f4f8a" stroke-width="0.5" />
<line x1="86.62" y1="588.73" x2="88.42" y2="588.73" stroke="#1f4f8a" stroke-width="0.5" />
<line x1="86.62" y1="599.79" x2="88.42" y2="599.79" stroke="#1f4f8a" stroke-width="0.5" />
<line x1="97.35" y1="583.20" x2="97.35" y2="594.26" stroke="#1f4f8a" stroke-width="0.5" />
<line x1="96.45" y1="583.20" x2="98.25" y2="583.20" stroke="#1f4f8a" stroke-width="0.5" />
<line x1="96.45" y1="594.26" x2="98.25" y2="594.26" stroke="#1f4f8a" stroke-width="0.5" />
<line x1="107.17" y1="582.09" x2="107.17" y2="593.15" stroke="#1f4f8a" stroke-width="0.5" />
<line x1="106.27" y1="582.09" x2="108.08" y2="582.09" stroke="#1f4f8a" stroke-width="0.5" />
<line x1="106.27" y1="593.15" x2="108.08" y2="593.15" stroke="#1f4f8a" stroke-width="0.5" />
<line x1="117.00" y1="580.99" x2="117.00" y2="592.05" stroke="#1f4f8a" stroke-width="0.5" />
<line x1="116.10" y1="580.99" x2="117.90" y2="580.99" stroke="#1f4f8a" stroke-width="0.5" />
<line x1="116.10" y1="592.05" x2="117.90" y2="592.05" stroke="#1f4f8a" stroke-width="0.5" />
<line x1="126.82" y1="579.33" x2="126.82" y2="590.39" stroke="#1f4f8a" stroke-width="0.5" />
<line x1="125.92" y1="579.33" x2="127.72" y2="579.33" stroke="#1f4f8a" stroke-width="0.5" />
<line x1="125.92" y1="590.39" x2="127.72" y2="590.39" stroke="#1f4f8a" stroke-width="0.5" />
<line x1="136.65" y1="576.01" x2="136.65" y2="583.75" stroke="#1f4f8a" stroke-width="0.5" />
<line x1="135.75" y1="576.01" x2="137.55" y2="576.01" stroke="#1f4f8a" stroke-width="0.5" />
<line x1="135.75" y1="583.75" x2="137.55" y2="583.75" stroke="#1f4f8a" stroke-width="0.5" />
<line x1="146.47" y1="574.90" x2="146.47" y2="582.65" stroke="#1f4f8a" stroke-width="0.5" />
<line x1="145.57" y1="574.90" x2="147.38" y2="574.90" stroke="#1f4f8a" stroke-width="0.5" />
<line x1="145.57" y1="582.65" x2="147.38" y2="582.65" stroke="#1f4f8a" stroke-width="0.5" />
<line x1="156.30" y1="574.35" x2="156.30" y2="582.09" stroke="#1f4f8a" stroke-width="0.5" />
<line x1="155.40" y1="574.35" x2="157.20" y2="574.35" stroke="#1f4f8a" stroke-width="0.5" />
<line x1="155.40" y1="582.09" x2="157.20" y2="582.09" stroke="#1f4f8a" stroke-width="0.5" />
<line x1="58.05" y1="573.25" x2="58.05" y2="582.09" stroke="#2f5f9c" stroke-width="0.5" />
<line x1="57.15" y1="573.25" x2="58.95" y2="573.25" stroke="#2f5f9c" stroke-width="0.5" />
<line x1="57.15" y1="582.09" x2="58.95" y2="582.09" stroke="#2f5f9c" stroke-width="0.5" />
<line x1="67.88" y1="585.97" x2="67.88" y2="595.92" stroke="#2f5f9c" stroke-width="0.5" />
<line x1="66.97" y1="585.97" x2="68.78" y2="585.97" stroke="#2f5f9c" stroke-width="0.5" />
<line x1="66.97" y1="595.92" x2="68.78" y2="595.92" stroke="#2f5f9c" stroke-width="0.5" />
<line x1="77.70" y1="595.92" x2="77.70" y2="605.87" stroke="#2f5f9c" stroke-width="0.5" />
<line x1="76.80" y1="595.92" x2="78.60" y2="595.92" stroke="#2f5f9c" stroke-width="0.5" />
<line x1="76.80" y1="605.87" x2="78.60" y2="605.87" stroke="#2f5f9c" stroke-width="0.5" />
<line x1="87.52" y1="589.84" x2="87.52" y2="600.90" stroke="#2f5f9c" stroke-width="0.5" />
<line x1="86.62" y1="589.84" x2="88.42" y2="589.84" stroke="#2f5f9c" stroke-width="0.5" />
<line x1="86.62" y1="600.90" x2="88.42" y2="600.90" stroke="#2f5f9c" stroke-width="0.5" />
<line x1="97.35" y1="584.31" x2="97.35" y2="595.37" stroke="#2f5f9c" stroke-width="0.5" />
<line x1="96.45" y1="584.31" x2="98.25" y2="584.31" stroke="#2f5f9c" stroke-width="0.5" />
<line x1="96.45" y1="595.37" x2="98.25" y2="595.37" stroke="#2f5f9c" stroke-width="0.5" />
<line x1="107.17" y1="583.20" x2="107.17" y2="594.26" stroke="#2f5f9c" stroke-width="0.5" />
<line x1="106.27" y1="583.20" x2="108.08" y2="583.20" stroke="#2f5f9c" stroke-width="0.5" />
<line x1="106.27" y1="594.26" x2="108.08" y2="594.26" stroke="#2f5f9c" stroke-width="0.5" />
<line x1="117.00" y1="582.09" x2="117.00" y2="593.15" stroke="#2f5f9c" stroke-width="0.5" />
<line x1="116.10" y1="582.09" x2="117.90" y2="582.09" stroke="#2f5f9c" stroke-width="0.5" />
<line x1="116.10" y1="593.15" x2="117.90" y2="593.15" stroke="#2f5f9c" stroke-width="0.5" />
<line x1="126.82" y1="580.44" x2="126.82" y2="591.50" stroke="#2f5f9c" stroke-width="0.5" />
<line x1="125.92" y1="580.44" x2="127.72" y2="580.44" stroke="#2f5f9c" stroke-width="0.5" />
<line x1="125.92" y1="591.50" x2="127.72" y2="591.50" stroke="#2f5f9c" stroke-width="0.5" />
<line x1="136.65" y1="576.56" x2="136.65" y2="584.31" stroke="#2f5f9c" stroke-width="0.5" />
<line x1="135.75" y1="576.56" x2="137.55" y2="576.56" stroke="#2f5f9c" stroke-width="0.5" />
<line x1="135.75" y1="584.31" x2="137.55" y2="584.31" stroke="#2f5f9c" stroke-width="0.5" />
<line x1="146.47" y1="574.90" x2="146.47" y2="582.65" stroke="#2f5f9c" stroke-width="0.5" />
<line x1="145.57" y1="574.90" x2="147.38" y2="574.90" stroke="#2f5f9c" stroke-width="0.5" />
<line x1="145.57" y1="582.65" x2="147.38" y2="582.65" stroke="#2f5f9c" stroke-width="0.5" />
<line x1="156.30" y1="574.90" x2="156.30" y2="582.65" stroke="#2f5f9c" stroke-width="0.5" />
<line x1="155.40" y1="574.90" x2="157.20" y2="574.90" stroke="#2f5f9c" stroke-width="0.5" />
<line x1="155.40" y1="582.65" x2="157.20" y2="582.65" stroke="#2f5f9c" stroke-width="0.5" />
<line x1="58.05" y1="572.69" x2="58.05" y2="584.86" stroke="#f0b060" stroke-width="0.5" />
<line x1="57.15" y1="572.69" x2="58.95" y2="572.69" stroke="#f0b060" stroke-width="0.5" />
<line x1="57.15" y1="584.86" x2="58.95" y2="584.86" stroke="#f0b060" stroke-width="0.5" />
<line x1="67.88" y1="585.41" x2="67.88" y2="598.68" stroke="#f0b060" stroke-width="0.5" />
<line x1="66.97" y1="585.41" x2="68.78" y2="585.41" stroke="#f0b060" stroke-width="0.5" />
<line x1="66.97" y1="598.68" x2="68.78" y2="598.68" stroke="#f0b060" stroke-width="0.5" />
<line x1="77.70" y1="596.47" x2="77.70" y2="608.64" stroke="#f0b060" stroke-width="0.5" />
<line x1="76.80" y1="596.47" x2="78.60" y2="596.47" stroke="#f0b060" stroke-width="0.5" />
<line x1="76.80" y1="608.64" x2="78.60" y2="608.64" stroke="#f0b060" stroke-width="0.5" />
<line x1="87.52" y1="591.50" x2="87.52" y2="605.87" stroke="#f0b060" stroke-width="0.5" />
<line x1="86.62" y1="591.50" x2="88.42" y2="591.50" stroke="#f0b060" stroke-width="0.5" />
<line x1="86.62" y1="605.87" x2="88.42" y2="605.87" stroke="#f0b060" stroke-width="0.5" />
<line x1="97.35" y1="585.97" x2="97.35" y2="602.55" stroke="#f0b060" stroke-width="0.5" />
<line x1="96.45" y1="585.97" x2="98.25" y2="585.97" stroke="#f0b060" stroke-width="0.5" />
<line x1="96.45" y1="602.55" x2="98.25" y2="602.55" stroke="#f0b060" stroke-width="0.5" />
<line x1="107.17" y1="583.75" x2="107.17" y2="600.34" stroke="#f0b060" stroke-width="0.5" />
<line x1="106.27" y1="583.75" x2="108.08" y2="583.75" stroke="#f0b060" stroke-width="0.5" />
<line x1="106.27" y1="600.34" x2="108.08" y2="600.34" stroke="#f0b060" stroke-width="0.5" />
<line x1="117.00" y1="583.75" x2="117.00" y2="599.24" stroke="#f0b060" stroke-width="0.5" />
<line x1="116.10" y1="583.75" x2="117.90" y2="583.75" stroke="#f0b060" stroke-width="0.5" />
<line x1="116.10" y1="599.24" x2="117.90" y2="599.24" stroke="#f0b060" stroke-width="0.5" />
<line x1="126.82" y1="582.09" x2="126.82" y2="596.47" stroke="#f0b060" stroke-width="0.5" />
<line x1="125.92" y1="582.09" x2="127.72" y2="582.09" stroke="#f0b060" stroke-width="0.5" />
<line x1="125.92" y1="596.47" x2="127.72" y2="596.47" stroke="#f0b060" stroke-width="0.5" />
<line x1="136.65" y1="576.01" x2="136.65" y2="589.28" stroke="#f0b060" stroke-width="0.5" />
<line x1="135.75" y1="576.01" x2="137.55" y2="576.01" stroke="#f0b060" stroke-width="0.5" />
<line x1="135.75" y1="589.28" x2="137.55" y2="589.28" stroke="#f0b060" stroke-width="0.5" />
<line x1="146.47" y1="573.25" x2="146.47" y2="586.52" stroke="#f0b060" stroke-width="0.5" />
<line x1="145.57" y1="573.25" x2="147.38" y2="573.25" stroke="#f0b060" stroke-width="0.5" />
<line x1="145.57" y1="586.52" x2="147.38" y2="586.52" stroke="#f0b060" stroke-width="0.5" />
<line x1="156.30" y1="576.56" x2="156.30" y2="587.62" stroke="#f0b060" stroke-width="0.5" />
<line x1="155.40" y1="576.56" x2="157.20" y2="576.56" stroke="#f0b060" stroke-width="0.5" />
<line x1="155.40" y1="587.62" x2="157.20" y2="587.62" stroke="#f0b060" stroke-width="0.5" />
<line x1="58.05" y1="573.80" x2="58.05" y2="582.65" stroke="#d8301e" stroke-width="0.5" />
<line x1="57.15" y1="573.80" x2="58.95" y2="573.80" stroke="#d8301e" stroke-width="0.5" />
<line x1="57.15" y1="582.65" x2="58.95" y2="582.65" stroke="#d8301e" stroke-width="0.5" />
<line x1="67.88" y1="585.97" x2="67.88" y2="595.92" stroke="#d8301e" stroke-width="0.5" />
<line x1="66.97" y1="585.97" x2="68.78" y2="585.97" stroke="#d8301e" stroke-width="0.5" />
<line x1="66.97" y1="595.92" x2="68.78" y2="595.92" stroke="#d8301e" stroke-width="0.5" />
<line x1="77.70" y1="597.02" x2="77.70" y2="606.98" stroke="#d8301e" stroke-width="0.5" />
<line x1="76.80" y1="597.02" x2="78.60" y2="597.02" stroke="#d8301e" stroke-width="0.5" />
<line x1="76.80" y1="606.98" x2="78.60" y2="606.98" stroke="#d8301e" stroke-width="0.5" />
<line x1="87.52" y1="594.26" x2="87.52" y2="605.32" stroke="#d8301e" stroke-width="0.5" />
<line x1="86.62" y1="594.26" x2="88.42" y2="594.26" stroke="#d8301e" stroke-width="0.5" />
<line x1="86.62" y1="605.32" x2="88.42" y2="605.32" stroke="#d8301e" stroke-width="0.5" />
<line x1="97.35" y1="587.62" x2="97.35" y2="599.79" stroke="#d8301e" stroke-width="0.5" />
<line x1="96.45" y1="587.62" x2="98.25" y2="587.62" stroke="#d8301e" stroke-width="0.5" />
<line x1="96.45" y1="599.79" x2="98.25" y2="599.79" stroke="#d8301e" stroke-width="0.5" />
<line x1="107.17" y1="586.52" x2="107.17" y2="598.68" stroke="#d8301e" stroke-width="0.5" />
<line x1="106.27" y1="586.52" x2="108.08" y2="586.52" stroke="#d8301e" stroke-width="0.5" />
<line x1="106.27" y1="598.68" x2="108.08" y2="598.68" stroke="#d8301e" stroke-width="0.5" />
<line x1="117.00" y1="585.41" x2="117.00" y2="596.47" stroke="#d8301e" stroke-width="0.5" />
<line x1="116.10" y1="585.41" x2="117.90" y2="585.41" stroke="#d8301e" stroke-width="0.5" />
<line x1="116.10" y1="596.47" x2="117.90" y2="596.47" stroke="#d8301e" stroke-width="0.5" />
<line x1="126.82" y1="583.20" x2="126.82" y2="594.26" stroke="#d8301e" stroke-width="0.5" />
<line x1="125.92" y1="583.20" x2="127.72" y2="583.20" stroke="#d8301e" stroke-width="0.5" />
<line x1="125.92" y1="594.26" x2="127.72" y2="594.26" stroke="#d8301e" stroke-width="0.5" />
<line x1="136.65" y1="578.78" x2="136.65" y2="587.62" stroke="#d8301e" stroke-width="0.5" />
<line x1="135.75" y1="578.78" x2="137.55" y2="578.78" stroke="#d8301e" stroke-width="0.5" />
<line x1="135.75" y1="587.62" x2="137.55" y2="587.62" stroke="#d8301e" stroke-width="0.5" />
<line x1="146.47" y1="576.56" x2="146.47" y2="584.31" stroke="#d8301e" stroke-width="0.5" />
<line x1="145.57" y1="576.56" x2="147.38" y2="576.56" stroke="#d8301e" stroke-width="0.5" />
<line x1="145.57" y1="584.31" x2="147.38" y2="584.31" stroke="#d8301e" stroke-width="0.5" />
<line x1="156.30" y1="577.12" x2="156.30" y2="584.86" stroke="#d8301e" stroke-width="0.5" />
<line x1="155.40" y1="577.12" x2="157.20" y2="577.12" stroke="#d8301e" stroke-width="0.5" />
<line x1="155.40" y1="584.86" x2="157.20" y2="584.86" stroke="#d8301e" stroke-width="0.5" />
<line x1="58.05" y1="571.03" x2="58.05" y2="579.88" stroke="#1f4f8a" stroke-width="0.5" />
<line x1="57.15" y1="571.03" x2="58.95" y2="571.03" stroke="#1f4f8a" stroke-width="0.5" />
<line x1="57.15" y1="579.88" x2="58.95" y2="579.88" stroke="#1f4f8a" stroke-width="0.5" />
<line x1="67.88" y1="583.20" x2="67.88" y2="593.15" stroke="#1f4f8a" stroke-width="0.5" />
<line x1="66.97" y1="583.20" x2="68.78" y2="583.20" stroke="#1f4f8a" stroke-width="0.5" />
<line x1="66.97" y1="593.15" x2="68.78" y2="593.15" stroke="#1f4f8a" stroke-width="0.5" />
<line x1="77.70" y1="592.60" x2="77.70" y2="602.55" stroke="#1f4f8a" stroke-width="0.5" />
<line x1="76.80" y1="592.60" x2="78.60" y2="592.60" stroke="#1f4f8a" stroke-width="0.5" />
<line x1="76.80" y1="602.55" x2="78.60" y2="602.55" stroke="#1f4f8a" stroke-width="0.5" />
<line x1="87.52" y1="585.41" x2="87.52" y2="596.47" stroke="#1f4f8a" stroke-width="0.5" />
<line x1="86.62" y1="585.41" x2="88.42" y2="585.41" stroke="#1f4f8a" stroke-width="0.5" />
<line x1="86.62" y1="596.47" x2="88.42" y2="596.47" stroke="#1f4f8a" stroke-width="0.5" />
<line x1="97.35" y1="577.12" x2="97.35" y2="589.28" stroke="#1f4f8a" stroke-width="0.5" />
<line x1="96.45" y1="577.12" x2="98.25" y2="577.12" stroke="#1f4f8a" stroke-width="0.5" />
<line x1="96.45" y1="589.28" x2="98.25" y2="589.28" stroke="#1f4f8a" stroke-width="0.5" />
<line x1="107.17" y1="574.90" x2="107.17" y2="587.07" stroke="#1f4f8a" stroke-width="0.5" />
<line x1="106.27" y1="574.90" x2="108.08" y2="574.90" stroke="#1f4f8a" stroke-width="0.5" />
<line x1="106.27" y1="587.07" x2="108.08" y2="587.07" stroke="#1f4f8a" stroke-width="0.5" />
<line x1="117.00" y1="574.35" x2="117.00" y2="586.52" stroke="#1f4f8a" stroke-width="0.5" />
<line x1="116.10" y1="574.35" x2="117.90" y2="574.35" stroke="#1f4f8a" stroke-width="0.5" />
<line x1="116.10" y1="586.52" x2="117.90" y2="586.52" stroke="#1f4f8a" stroke-width="0.5" />
<line x1="126.82" y1="574.35" x2="126.82" y2="586.52" stroke="#1f4f8a" stroke-width="0.5" />
<line x1="125.92" y1="574.35" x2="127.72" y2="574.35" stroke="#1f4f8a" stroke-width="0.5" />
<line x1="125.92" y1="586.52" x2="127.72" y2="586.52" stroke="#1f4f8a" stroke-width="0.5" />
<line x1="136.65" y1="574.90" x2="136.65" y2="582.65" stroke="#1f4f8a" stroke-width="0.5" />
<line x1="135.75" y1="574.90" x2="137.55" y2="574.90" stroke="#1f4f8a" stroke-width="0.5" />
<line x1="135.75" y1="582.65" x2="137.55" y2="582.65" stroke="#1f4f8a" stroke-width="0.5" />
<line x1="146.47" y1="574.35" x2="146.47" y2="582.09" stroke="#1f4f8a" stroke-width="0.5" />
<line x1="145.57" y1="574.35" x2="147.38" y2="574.35" stroke="#1f4f8a" stroke-width="0.5" />
<line x1="145.57" y1="582.09" x2="147.38" y2="582.09" stroke="#1f4f8a" stroke-width="0.5" />
<line x1="156.30" y1="573.25" x2="156.30" y2="580.99" stroke="#1f4f8a" stroke-width="0.5" />
<line x1="155.40" y1="573.25" x2="157.20" y2="573.25" stroke="#1f4f8a" stroke-width="0.5" />
<line x1="155.40" y1="580.99" x2="157.20" y2="580.99" stroke="#1f4f8a" stroke-width="0.5" />
<polyline points="58.05,577.12 67.88,590.39 77.70,600.34 87.52,594.26 97.35,588.73 107.17,587.62 117.00,586.52 126.82,584.86 136.65,579.88 146.47,578.78 156.30,578.22" fill="none" stroke="#1f4f8a" stroke-width="1.25" stroke-dasharray="1.8,1.3" stroke-linejoin="round"/>
<circle cx="58.05" cy="577.12" r="1.1" fill="#1f4f8a"/>
<circle cx="67.88" cy="590.39" r="1.1" fill="#1f4f8a"/>
<circle cx="77.70" cy="600.34" r="1.1" fill="#1f4f8a"/>
<circle cx="87.52" cy="594.26" r="1.1" fill="#1f4f8a"/>
<circle cx="97.35" cy="588.73" r="1.1" fill="#1f4f8a"/>
<circle cx="107.17" cy="587.62" r="1.1" fill="#1f4f8a"/>
<circle cx="117.00" cy="586.52" r="1.1" fill="#1f4f8a"/>
<circle cx="126.82" cy="584.86" r="1.1" fill="#1f4f8a"/>
<circle cx="136.65" cy="579.88" r="1.1" fill="#1f4f8a"/>
<circle cx="146.47" cy="578.78" r="1.1" fill="#1f4f8a"/>
<circle cx="156.30" cy="578.22" r="1.1" fill="#1f4f8a"/>
<polyline points="58.05,577.67 67.88,590.94 77.70,600.90 87.52,595.37 97.35,589.84 107.17,588.73 117.00,587.62 126.82,585.97 136.65,580.43 146.47,578.78 156.30,578.78" fill="none" stroke="#2f5f9c" stroke-width="1.25" stroke-dasharray="0.9,1.3" stroke-linejoin="round"/>
<circle cx="58.05" cy="577.67" r="1.1" fill="#2f5f9c"/>
<circle cx="67.88" cy="590.94" r="1.1" fill="#2f5f9c"/>
<circle cx="77.70" cy="600.90" r="1.1" fill="#2f5f9c"/>
<circle cx="87.52" cy="595.37" r="1.1" fill="#2f5f9c"/>
<circle cx="97.35" cy="589.84" r="1.1" fill="#2f5f9c"/>
<circle cx="107.17" cy="588.73" r="1.1" fill="#2f5f9c"/>
<circle cx="117.00" cy="587.62" r="1.1" fill="#2f5f9c"/>
<circle cx="126.82" cy="585.97" r="1.1" fill="#2f5f9c"/>
<circle cx="136.65" cy="580.43" r="1.1" fill="#2f5f9c"/>
<circle cx="146.47" cy="578.78" r="1.1" fill="#2f5f9c"/>
<circle cx="156.30" cy="578.78" r="1.1" fill="#2f5f9c"/>
<polyline points="58.05,578.78 67.88,592.05 77.70,602.55 87.52,598.68 97.35,594.26 107.17,592.05 117.00,591.50 126.82,589.28 136.65,582.65 146.47,579.88 156.30,582.09" fill="none" stroke="#f39c12" stroke-width="1.25"  stroke-linejoin="round"/>
<circle cx="58.05" cy="578.78" r="1.1" fill="#f39c12"/>
<circle cx="67.88" cy="592.05" r="1.1" fill="#f39c12"/>
<circle cx="77.70" cy="602.55" r="1.1" fill="#f39c12"/>
<circle cx="87.52" cy="598.68" r="1.1" fill="#f39c12"/>
<circle cx="97.35" cy="594.26" r="1.1" fill="#f39c12"/>
<circle cx="107.17" cy="592.05" r="1.1" fill="#f39c12"/>
<circle cx="117.00" cy="591.50" r="1.1" fill="#f39c12"/>
<circle cx="126.82" cy="589.28" r="1.1" fill="#f39c12"/>
<circle cx="136.65" cy="582.65" r="1.1" fill="#f39c12"/>
<circle cx="146.47" cy="579.88" r="1.1" fill="#f39c12"/>
<circle cx="156.30" cy="582.09" r="1.1" fill="#f39c12"/>
<polyline points="58.05,578.22 67.88,590.94 77.70,602.00 87.52,599.79 97.35,593.71 107.17,592.60 117.00,590.94 126.82,588.73 136.65,583.20 146.47,580.43 156.30,580.99" fill="none" stroke="#d8301e" stroke-width="1.25"  stroke-linejoin="round"/>
<circle cx="58.05" cy="578.22" r="1.1" fill="#d8301e"/>
<circle cx="67.88" cy="590.94" r="1.1" fill="#d8301e"/>
<circle cx="77.70" cy="602.00" r="1.1" fill="#d8301e"/>
<circle cx="87.52" cy="599.79" r="1.1" fill="#d8301e"/>
<circle cx="97.35" cy="593.71" r="1.1" fill="#d8301e"/>
<circle cx="107.17" cy="592.60" r="1.1" fill="#d8301e"/>
<circle cx="117.00" cy="590.94" r="1.1" fill="#d8301e"/>
<circle cx="126.82" cy="588.73" r="1.1" fill="#d8301e"/>
<circle cx="136.65" cy="583.20" r="1.1" fill="#d8301e"/>
<circle cx="146.47" cy="580.43" r="1.1" fill="#d8301e"/>
<circle cx="156.30" cy="580.99" r="1.1" fill="#d8301e"/>
<polyline points="58.05,575.46 67.88,588.18 77.70,597.58 87.52,590.94 97.35,583.20 107.17,580.99 117.00,580.43 126.82,580.43 136.65,578.78 146.47,578.22 156.30,577.12" fill="none" stroke="#1f4f8a" stroke-width="1.25"  stroke-linejoin="round"/>
<circle cx="58.05" cy="575.46" r="1.1" fill="#1f4f8a"/>
<circle cx="67.88" cy="588.18" r="1.1" fill="#1f4f8a"/>
<circle cx="77.70" cy="597.58" r="1.1" fill="#1f4f8a"/>
<circle cx="87.52" cy="590.94" r="1.1" fill="#1f4f8a"/>
<circle cx="97.35" cy="583.20" r="1.1" fill="#1f4f8a"/>
<circle cx="107.17" cy="580.99" r="1.1" fill="#1f4f8a"/>
<circle cx="117.00" cy="580.43" r="1.1" fill="#1f4f8a"/>
<circle cx="126.82" cy="580.43" r="1.1" fill="#1f4f8a"/>
<circle cx="136.65" cy="578.78" r="1.1" fill="#1f4f8a"/>
<circle cx="146.47" cy="578.22" r="1.1" fill="#1f4f8a"/>
<circle cx="156.30" cy="577.12" r="1.1" fill="#1f4f8a"/>
<text x="96.20" y="547.20" font-size="10.0" textLength="23.00" lengthAdjust="spacingAndGlyphs" font-weight="normal" fill="#1e1e1e">RBC</text>
<text transform="translate(30.54,595.10) rotate(-90) scale(0.788,1)" font-size="10.0" text-anchor="middle" font-weight="normal" fill="#111" stroke="#111" stroke-width="0.3">10^12/L</text>
<text transform="translate(107.40,666.28) scale(0.775,1)" font-size="9.0" text-anchor="middle" font-weight="normal" fill="#111" stroke="#111" stroke-width="0.3">Days after IR (5.0 Gy)</text>
<text transform="translate(87.52,576.10)" font-size="7.5" text-anchor="middle" font-weight="bold" fill="#2a2a2a" >*</text>
<text transform="translate(87.52,577.80)" font-size="5.2" text-anchor="middle" font-weight="bold" fill="#3a3a3a" >#</text>
<text transform="translate(87.52,581.90)" font-size="5.2" text-anchor="middle" font-weight="bold" fill="#3a3a3a" >†</text>
<text transform="translate(97.35,568.20)" font-size="7.5" text-anchor="middle" font-weight="bold" fill="#2a2a2a" >**</text>
<text transform="translate(97.35,570.10)" font-size="5.2" text-anchor="middle" font-weight="bold" fill="#3a3a3a" >#</text>
<text transform="translate(97.35,574.10)" font-size="5.2" text-anchor="middle" font-weight="bold" fill="#3a3a3a" >†</text>
<text transform="translate(107.17,567.70)" font-size="7.5" text-anchor="middle" font-weight="bold" fill="#2a2a2a" >**</text>
<text transform="translate(107.17,569.40)" font-size="5.2" text-anchor="middle" font-weight="bold" fill="#3a3a3a" >#</text>
<text transform="translate(107.17,573.60)" font-size="5.2" text-anchor="middle" font-weight="bold" fill="#3a3a3a" >†</text>
<text transform="translate(117.00,564.50)" font-size="7.5" text-anchor="middle" font-weight="bold" fill="#2a2a2a" >*</text>
<text transform="translate(117.00,566.20)" font-size="5.2" text-anchor="middle" font-weight="bold" fill="#3a3a3a" >#</text>
<text transform="translate(117.00,570.10)" font-size="5.2" text-anchor="middle" font-weight="bold" fill="#3a3a3a" >†</text>
<text transform="translate(126.82,565.00)" font-size="7.5" text-anchor="middle" font-weight="bold" fill="#2a2a2a" >*</text>
<text transform="translate(126.82,566.70)" font-size="5.2" text-anchor="middle" font-weight="bold" fill="#3a3a3a" >#</text>
<text transform="translate(126.82,570.90)" font-size="5.2" text-anchor="middle" font-weight="bold" fill="#3a3a3a" >†</text>
<line x1="27.20" y1="678.60" x2="36.40" y2="678.60" stroke="#d8301e" stroke-width="0.9" />
<circle cx="31.80" cy="678.60" r="1.0" fill="#d8301e"/>
<text transform="translate(39.20,681.50)" font-size="8.1" text-anchor="start" font-weight="normal" fill="#222" >WT + IR</text>
<line x1="27.20" y1="686.30" x2="36.40" y2="686.30" stroke="#f39c12" stroke-width="0.9" />
<circle cx="31.80" cy="686.30" r="1.0" fill="#f39c12"/>
<text transform="translate(39.20,689.20)" font-size="8.1" text-anchor="start" font-weight="normal" fill="#222" >WT + IR + Saline + Vehicle</text>
<line x1="27.20" y1="694.00" x2="36.40" y2="694.00" stroke="#1f4f8a" stroke-width="0.9" />
<circle cx="31.80" cy="694.00" r="1.0" fill="#1f4f8a"/>
<text transform="translate(39.20,696.90)" font-size="8.1" text-anchor="start" font-weight="normal" fill="#222" >WT + IR + α-MSH + Vehicle</text>
<line x1="27.20" y1="701.80" x2="36.40" y2="701.80" stroke="#1f4f8a" stroke-width="0.9" stroke-dasharray="1.5,1.2"/>
<circle cx="31.80" cy="701.80" r="1.0" fill="#1f4f8a"/>
<text transform="translate(39.20,704.70)" font-size="8.1" text-anchor="start" font-weight="normal" fill="#222" >WT + IR + α-MSH + MK-2206</text>
<line x1="27.20" y1="709.60" x2="36.40" y2="709.60" stroke="#2f5f9c" stroke-width="0.9" stroke-dasharray="0.8,1.2"/>
<circle cx="31.80" cy="709.60" r="1.0" fill="#2f5f9c"/>
<text transform="translate(39.20,712.50)" font-size="8.1" text-anchor="start" font-weight="normal" fill="#222" >WT + IR + α-MSH + PD325901</text>
<path d="M139.50,687.20 H142.60 V695.00 H139.50" fill="none" stroke="#333" stroke-width="0.75"/>
<path d="M148.40,696.20 H151.30 V703.30 H148.40" fill="none" stroke="#333" stroke-width="0.75"/>
<path d="M159.80,696.20 H162.40 V711.10 H159.80" fill="none" stroke="#333" stroke-width="0.75"/>
<text transform="translate(145.70,694.55)" font-size="7.5" text-anchor="middle" font-weight="bold" fill="#2a2a2a" >*</text>
<text transform="translate(154.80,703.80)" font-size="7.5" text-anchor="middle" font-weight="bold" fill="#2a2a2a" >*</text>
<text transform="translate(166.70,704.60)" font-size="6" text-anchor="middle" font-weight="normal" fill="#333" >†</text>
<text transform="translate(176.90,532.00)" font-size="12" text-anchor="start" font-weight="bold" fill="#000" >H</text>
<line x1="229.60" y1="638.60" x2="229.60" y2="554.50" stroke="#222" stroke-width="1.1" />
<line x1="226.60" y1="638.60" x2="229.60" y2="638.60" stroke="#222" stroke-width="1.1" />
<text transform="translate(222.70,641.55)" font-size="8.2" text-anchor="end" font-weight="normal" fill="#333" >0</text>
<line x1="226.60" y1="610.96" x2="229.60" y2="610.96" stroke="#222" stroke-width="1.1" />
<text transform="translate(222.70,613.91)" font-size="8.2" text-anchor="end" font-weight="normal" fill="#333" >600</text>
<line x1="226.60" y1="583.33" x2="229.60" y2="583.33" stroke="#222" stroke-width="1.1" />
<text transform="translate(222.70,586.28)" font-size="8.2" text-anchor="end" font-weight="normal" fill="#333" >1200</text>
<line x1="226.60" y1="555.69" x2="229.60" y2="555.69" stroke="#222" stroke-width="1.1" />
<text transform="translate(222.70,558.64)" font-size="8.2" text-anchor="end" font-weight="normal" fill="#333" >1800</text>
<line x1="229.60" y1="638.60" x2="341.30" y2="638.60" stroke="#222" stroke-width="1.1" />
<line x1="235.80" y1="638.60" x2="235.80" y2="641.40" stroke="#222" stroke-width="0.9" />
<text transform="translate(235.80,652.60)" font-size="8.2" text-anchor="middle" font-weight="normal" fill="#333" >0</text>
<line x1="245.64" y1="638.60" x2="245.64" y2="641.40" stroke="#222" stroke-width="0.9" />
<text transform="translate(245.64,652.60)" font-size="8.2" text-anchor="middle" font-weight="normal" fill="#333" >3</text>
<line x1="255.48" y1="638.60" x2="255.48" y2="641.40" stroke="#222" stroke-width="0.9" />
<text transform="translate(255.48,652.60)" font-size="8.2" text-anchor="middle" font-weight="normal" fill="#333" >6</text>
<line x1="265.32" y1="638.60" x2="265.32" y2="641.40" stroke="#222" stroke-width="0.9" />
<text transform="translate(265.32,652.60)" font-size="8.2" text-anchor="middle" font-weight="normal" fill="#333" >9</text>
<line x1="275.16" y1="638.60" x2="275.16" y2="641.40" stroke="#222" stroke-width="0.9" />
<text transform="translate(275.16,652.60)" font-size="8.2" text-anchor="middle" font-weight="normal" fill="#333" >12</text>
<line x1="285.00" y1="638.60" x2="285.00" y2="641.40" stroke="#222" stroke-width="0.9" />
<text transform="translate(285.00,652.60)" font-size="8.2" text-anchor="middle" font-weight="normal" fill="#333" >15</text>
<line x1="294.84" y1="638.60" x2="294.84" y2="641.40" stroke="#222" stroke-width="0.9" />
<text transform="translate(294.84,652.60)" font-size="8.2" text-anchor="middle" font-weight="normal" fill="#333" >18</text>
<line x1="304.68" y1="638.60" x2="304.68" y2="641.40" stroke="#222" stroke-width="0.9" />
<text transform="translate(304.68,652.60)" font-size="8.2" text-anchor="middle" font-weight="normal" fill="#333" >21</text>
<line x1="314.52" y1="638.60" x2="314.52" y2="641.40" stroke="#222" stroke-width="0.9" />
<text transform="translate(314.52,652.60)" font-size="8.2" text-anchor="middle" font-weight="normal" fill="#333" >24</text>
<line x1="324.36" y1="638.60" x2="324.36" y2="641.40" stroke="#222" stroke-width="0.9" />
<text transform="translate(324.36,652.60)" font-size="8.2" text-anchor="middle" font-weight="normal" fill="#333" >27</text>
<line x1="334.20" y1="638.60" x2="334.20" y2="641.40" stroke="#222" stroke-width="0.9" />
<text transform="translate(334.20,652.60)" font-size="8.2" text-anchor="middle" font-weight="normal" fill="#333" >30</text>
<line x1="235.80" y1="569.97" x2="235.80" y2="577.34" stroke="#1f4f8a" stroke-width="0.5" />
<line x1="234.90" y1="569.97" x2="236.70" y2="569.97" stroke="#1f4f8a" stroke-width="0.5" />
<line x1="234.90" y1="577.34" x2="236.70" y2="577.34" stroke="#1f4f8a" stroke-width="0.5" />
<line x1="245.64" y1="568.59" x2="245.64" y2="575.96" stroke="#1f4f8a" stroke-width="0.5" />
<line x1="244.74" y1="568.59" x2="246.54" y2="568.59" stroke="#1f4f8a" stroke-width="0.5" />
<line x1="244.74" y1="575.96" x2="246.54" y2="575.96" stroke="#1f4f8a" stroke-width="0.5" />
<line x1="255.48" y1="609.35" x2="255.48" y2="617.64" stroke="#1f4f8a" stroke-width="0.5" />
<line x1="254.58" y1="609.35" x2="256.38" y2="609.35" stroke="#1f4f8a" stroke-width="0.5" />
<line x1="254.58" y1="617.64" x2="256.38" y2="617.64" stroke="#1f4f8a" stroke-width="0.5" />
<line x1="265.32" y1="617.41" x2="265.32" y2="623.86" stroke="#1f4f8a" stroke-width="0.5" />
<line x1="264.42" y1="617.41" x2="266.22" y2="617.41" stroke="#1f4f8a" stroke-width="0.5" />
<line x1="264.42" y1="623.86" x2="266.22" y2="623.86" stroke="#1f4f8a" stroke-width="0.5" />
<line x1="275.16" y1="607.51" x2="275.16" y2="616.72" stroke="#1f4f8a" stroke-width="0.5" />
<line x1="274.26" y1="607.51" x2="276.06" y2="607.51" stroke="#1f4f8a" stroke-width="0.5" />
<line x1="274.26" y1="616.72" x2="276.06" y2="616.72" stroke="#1f4f8a" stroke-width="0.5" />
<line x1="285.00" y1="599.91" x2="285.00" y2="610.04" stroke="#1f4f8a" stroke-width="0.5" />
<line x1="284.10" y1="599.91" x2="285.90" y2="599.91" stroke="#1f4f8a" stroke-width="0.5" />
<line x1="284.10" y1="610.04" x2="285.90" y2="610.04" stroke="#1f4f8a" stroke-width="0.5" />
<line x1="294.84" y1="594.24" x2="294.84" y2="604.38" stroke="#1f4f8a" stroke-width="0.5" />
<line x1="293.94" y1="594.24" x2="295.74" y2="594.24" stroke="#1f4f8a" stroke-width="0.5" />
<line x1="293.94" y1="604.38" x2="295.74" y2="604.38" stroke="#1f4f8a" stroke-width="0.5" />
<line x1="304.68" y1="588.07" x2="304.68" y2="599.13" stroke="#1f4f8a" stroke-width="0.5" />
<line x1="303.78" y1="588.07" x2="305.58" y2="588.07" stroke="#1f4f8a" stroke-width="0.5" />
<line x1="303.78" y1="599.13" x2="305.58" y2="599.13" stroke="#1f4f8a" stroke-width="0.5" />
<line x1="314.52" y1="578.72" x2="314.52" y2="586.09" stroke="#1f4f8a" stroke-width="0.5" />
<line x1="313.62" y1="578.72" x2="315.42" y2="578.72" stroke="#1f4f8a" stroke-width="0.5" />
<line x1="313.62" y1="586.09" x2="315.42" y2="586.09" stroke="#1f4f8a" stroke-width="0.5" />
<line x1="324.36" y1="575.04" x2="324.36" y2="582.41" stroke="#1f4f8a" stroke-width="0.5" />
<line x1="323.46" y1="575.04" x2="325.26" y2="575.04" stroke="#1f4f8a" stroke-width="0.5" />
<line x1="323.46" y1="582.41" x2="325.26" y2="582.41" stroke="#1f4f8a" stroke-width="0.5" />
<line x1="334.20" y1="565.83" x2="334.20" y2="575.04" stroke="#1f4f8a" stroke-width="0.5" />
<line x1="333.30" y1="565.83" x2="335.10" y2="565.83" stroke="#1f4f8a" stroke-width="0.5" />
<line x1="333.30" y1="575.04" x2="335.10" y2="575.04" stroke="#1f4f8a" stroke-width="0.5" />
<line x1="235.80" y1="570.43" x2="235.80" y2="577.80" stroke="#2f5f9c" stroke-width="0.5" />
<line x1="234.90" y1="570.43" x2="236.70" y2="570.43" stroke="#2f5f9c" stroke-width="0.5" />
<line x1="234.90" y1="577.80" x2="236.70" y2="577.80" stroke="#2f5f9c" stroke-width="0.5" />
<line x1="245.64" y1="569.05" x2="245.64" y2="576.42" stroke="#2f5f9c" stroke-width="0.5" />
<line x1="244.74" y1="569.05" x2="246.54" y2="569.05" stroke="#2f5f9c" stroke-width="0.5" />
<line x1="244.74" y1="576.42" x2="246.54" y2="576.42" stroke="#2f5f9c" stroke-width="0.5" />
<line x1="255.48" y1="610.50" x2="255.48" y2="618.79" stroke="#2f5f9c" stroke-width="0.5" />
<line x1="254.58" y1="610.50" x2="256.38" y2="610.50" stroke="#2f5f9c" stroke-width="0.5" />
<line x1="254.58" y1="618.79" x2="256.38" y2="618.79" stroke="#2f5f9c" stroke-width="0.5" />
<line x1="265.32" y1="617.87" x2="265.32" y2="624.32" stroke="#2f5f9c" stroke-width="0.5" />
<line x1="264.42" y1="617.87" x2="266.22" y2="617.87" stroke="#2f5f9c" stroke-width="0.5" />
<line x1="264.42" y1="624.32" x2="266.22" y2="624.32" stroke="#2f5f9c" stroke-width="0.5" />
<line x1="275.16" y1="608.20" x2="275.16" y2="617.41" stroke="#2f5f9c" stroke-width="0.5" />
<line x1="274.26" y1="608.20" x2="276.06" y2="608.20" stroke="#2f5f9c" stroke-width="0.5" />
<line x1="274.26" y1="617.41" x2="276.06" y2="617.41" stroke="#2f5f9c" stroke-width="0.5" />
<line x1="285.00" y1="600.37" x2="285.00" y2="610.50" stroke="#2f5f9c" stroke-width="0.5" />
<line x1="284.10" y1="600.37" x2="285.90" y2="600.37" stroke="#2f5f9c" stroke-width="0.5" />
<line x1="284.10" y1="610.50" x2="285.90" y2="610.50" stroke="#2f5f9c" stroke-width="0.5" />
<line x1="294.84" y1="594.84" x2="294.84" y2="604.98" stroke="#2f5f9c" stroke-width="0.5" />
<line x1="293.94" y1="594.84" x2="295.74" y2="594.84" stroke="#2f5f9c" stroke-width="0.5" />
<line x1="293.94" y1="604.98" x2="295.74" y2="604.98" stroke="#2f5f9c" stroke-width="0.5" />
<line x1="304.68" y1="588.86" x2="304.68" y2="599.91" stroke="#2f5f9c" stroke-width="0.5" />
<line x1="303.78" y1="588.86" x2="305.58" y2="588.86" stroke="#2f5f9c" stroke-width="0.5" />
<line x1="303.78" y1="599.91" x2="305.58" y2="599.91" stroke="#2f5f9c" stroke-width="0.5" />
<line x1="314.52" y1="579.18" x2="314.52" y2="586.55" stroke="#2f5f9c" stroke-width="0.5" />
<line x1="313.62" y1="579.18" x2="315.42" y2="579.18" stroke="#2f5f9c" stroke-width="0.5" />
<line x1="313.62" y1="586.55" x2="315.42" y2="586.55" stroke="#2f5f9c" stroke-width="0.5" />
<line x1="324.36" y1="575.50" x2="324.36" y2="582.87" stroke="#2f5f9c" stroke-width="0.5" />
<line x1="323.46" y1="575.50" x2="325.26" y2="575.50" stroke="#2f5f9c" stroke-width="0.5" />
<line x1="323.46" y1="582.87" x2="325.26" y2="582.87" stroke="#2f5f9c" stroke-width="0.5" />
<line x1="334.20" y1="566.29" x2="334.20" y2="575.50" stroke="#2f5f9c" stroke-width="0.5" />
<line x1="333.30" y1="566.29" x2="335.10" y2="566.29" stroke="#2f5f9c" stroke-width="0.5" />
<line x1="333.30" y1="575.50" x2="335.10" y2="575.50" stroke="#2f5f9c" stroke-width="0.5" />
<line x1="235.80" y1="569.51" x2="235.80" y2="577.80" stroke="#f0b060" stroke-width="0.5" />
<line x1="234.90" y1="569.51" x2="236.70" y2="569.51" stroke="#f0b060" stroke-width="0.5" />
<line x1="234.90" y1="577.80" x2="236.70" y2="577.80" stroke="#f0b060" stroke-width="0.5" />
<line x1="245.64" y1="566.75" x2="245.64" y2="577.80" stroke="#f0b060" stroke-width="0.5" />
<line x1="244.74" y1="566.75" x2="246.54" y2="566.75" stroke="#f0b060" stroke-width="0.5" />
<line x1="244.74" y1="577.80" x2="246.54" y2="577.80" stroke="#f0b060" stroke-width="0.5" />
<line x1="255.48" y1="613.27" x2="255.48" y2="622.48" stroke="#f0b060" stroke-width="0.5" />
<line x1="254.58" y1="613.27" x2="256.38" y2="613.27" stroke="#f0b060" stroke-width="0.5" />
<line x1="254.58" y1="622.48" x2="256.38" y2="622.48" stroke="#f0b060" stroke-width="0.5" />
<line x1="265.32" y1="619.72" x2="265.32" y2="626.16" stroke="#f0b060" stroke-width="0.5" />
<line x1="264.42" y1="619.72" x2="266.22" y2="619.72" stroke="#f0b060" stroke-width="0.5" />
<line x1="264.42" y1="626.16" x2="266.22" y2="626.16" stroke="#f0b060" stroke-width="0.5" />
<line x1="275.16" y1="611.89" x2="275.16" y2="621.10" stroke="#f0b060" stroke-width="0.5" />
<line x1="274.26" y1="611.89" x2="276.06" y2="611.89" stroke="#f0b060" stroke-width="0.5" />
<line x1="274.26" y1="621.10" x2="276.06" y2="621.10" stroke="#f0b060" stroke-width="0.5" />
<line x1="285.00" y1="604.52" x2="285.00" y2="613.73" stroke="#f0b060" stroke-width="0.5" />
<line x1="284.10" y1="604.52" x2="285.90" y2="604.52" stroke="#f0b060" stroke-width="0.5" />
<line x1="284.10" y1="613.73" x2="285.90" y2="613.73" stroke="#f0b060" stroke-width="0.5" />
<line x1="294.84" y1="597.61" x2="294.84" y2="605.90" stroke="#f0b060" stroke-width="0.5" />
<line x1="293.94" y1="597.61" x2="295.74" y2="597.61" stroke="#f0b060" stroke-width="0.5" />
<line x1="293.94" y1="605.90" x2="295.74" y2="605.90" stroke="#f0b060" stroke-width="0.5" />
<line x1="304.68" y1="591.62" x2="304.68" y2="600.83" stroke="#f0b060" stroke-width="0.5" />
<line x1="303.78" y1="591.62" x2="305.58" y2="591.62" stroke="#f0b060" stroke-width="0.5" />
<line x1="303.78" y1="600.83" x2="305.58" y2="600.83" stroke="#f0b060" stroke-width="0.5" />
<line x1="314.52" y1="579.18" x2="314.52" y2="587.47" stroke="#f0b060" stroke-width="0.5" />
<line x1="313.62" y1="579.18" x2="315.42" y2="579.18" stroke="#f0b060" stroke-width="0.5" />
<line x1="313.62" y1="587.47" x2="315.42" y2="587.47" stroke="#f0b060" stroke-width="0.5" />
<line x1="324.36" y1="576.42" x2="324.36" y2="585.63" stroke="#f0b060" stroke-width="0.5" />
<line x1="323.46" y1="576.42" x2="325.26" y2="576.42" stroke="#f0b060" stroke-width="0.5" />
<line x1="323.46" y1="585.63" x2="325.26" y2="585.63" stroke="#f0b060" stroke-width="0.5" />
<line x1="334.20" y1="564.44" x2="334.20" y2="572.73" stroke="#f0b060" stroke-width="0.5" />
<line x1="333.30" y1="564.44" x2="335.10" y2="564.44" stroke="#f0b060" stroke-width="0.5" />
<line x1="333.30" y1="572.73" x2="335.10" y2="572.73" stroke="#f0b060" stroke-width="0.5" />
<line x1="235.80" y1="569.51" x2="235.80" y2="576.88" stroke="#d8301e" stroke-width="0.5" />
<line x1="234.90" y1="569.51" x2="236.70" y2="569.51" stroke="#d8301e" stroke-width="0.5" />
<line x1="234.90" y1="576.88" x2="236.70" y2="576.88" stroke="#d8301e" stroke-width="0.5" />
<line x1="245.64" y1="569.05" x2="245.64" y2="576.42" stroke="#d8301e" stroke-width="0.5" />
<line x1="244.74" y1="569.05" x2="246.54" y2="569.05" stroke="#d8301e" stroke-width="0.5" />
<line x1="244.74" y1="576.42" x2="246.54" y2="576.42" stroke="#d8301e" stroke-width="0.5" />
<line x1="255.48" y1="615.11" x2="255.48" y2="623.40" stroke="#d8301e" stroke-width="0.5" />
<line x1="254.58" y1="615.11" x2="256.38" y2="615.11" stroke="#d8301e" stroke-width="0.5" />
<line x1="254.58" y1="623.40" x2="256.38" y2="623.40" stroke="#d8301e" stroke-width="0.5" />
<line x1="265.32" y1="619.49" x2="265.32" y2="625.01" stroke="#d8301e" stroke-width="0.5" />
<line x1="264.42" y1="619.49" x2="266.22" y2="619.49" stroke="#d8301e" stroke-width="0.5" />
<line x1="264.42" y1="625.01" x2="266.22" y2="625.01" stroke="#d8301e" stroke-width="0.5" />
<line x1="275.16" y1="613.54" x2="275.16" y2="620.91" stroke="#d8301e" stroke-width="0.5" />
<line x1="274.26" y1="613.54" x2="276.06" y2="613.54" stroke="#d8301e" stroke-width="0.5" />
<line x1="274.26" y1="620.91" x2="276.06" y2="620.91" stroke="#d8301e" stroke-width="0.5" />
<line x1="285.00" y1="605.99" x2="285.00" y2="614.28" stroke="#d8301e" stroke-width="0.5" />
<line x1="284.10" y1="605.99" x2="285.90" y2="605.99" stroke="#d8301e" stroke-width="0.5" />
<line x1="284.10" y1="614.28" x2="285.90" y2="614.28" stroke="#d8301e" stroke-width="0.5" />
<line x1="294.84" y1="597.88" x2="294.84" y2="605.25" stroke="#d8301e" stroke-width="0.5" />
<line x1="293.94" y1="597.88" x2="295.74" y2="597.88" stroke="#d8301e" stroke-width="0.5" />
<line x1="293.94" y1="605.25" x2="295.74" y2="605.25" stroke="#d8301e" stroke-width="0.5" />
<line x1="304.68" y1="593.14" x2="304.68" y2="601.43" stroke="#d8301e" stroke-width="0.5" />
<line x1="303.78" y1="593.14" x2="305.58" y2="593.14" stroke="#d8301e" stroke-width="0.5" />
<line x1="303.78" y1="601.43" x2="305.58" y2="601.43" stroke="#d8301e" stroke-width="0.5" />
<line x1="314.52" y1="579.92" x2="314.52" y2="587.29" stroke="#d8301e" stroke-width="0.5" />
<line x1="313.62" y1="579.92" x2="315.42" y2="579.92" stroke="#d8301e" stroke-width="0.5" />
<line x1="313.62" y1="587.29" x2="315.42" y2="587.29" stroke="#d8301e" stroke-width="0.5" />
<line x1="324.36" y1="579.46" x2="324.36" y2="587.75" stroke="#d8301e" stroke-width="0.5" />
<line x1="323.46" y1="579.46" x2="325.26" y2="579.46" stroke="#d8301e" stroke-width="0.5" />
<line x1="323.46" y1="587.75" x2="325.26" y2="587.75" stroke="#d8301e" stroke-width="0.5" />
<line x1="334.20" y1="565.83" x2="334.20" y2="573.19" stroke="#d8301e" stroke-width="0.5" />
<line x1="333.30" y1="565.83" x2="335.10" y2="565.83" stroke="#d8301e" stroke-width="0.5" />
<line x1="333.30" y1="573.19" x2="335.10" y2="573.19" stroke="#d8301e" stroke-width="0.5" />
<line x1="235.80" y1="569.51" x2="235.80" y2="576.88" stroke="#1f4f8a" stroke-width="0.5" />
<line x1="234.90" y1="569.51" x2="236.70" y2="569.51" stroke="#1f4f8a" stroke-width="0.5" />
<line x1="234.90" y1="576.88" x2="236.70" y2="576.88" stroke="#1f4f8a" stroke-width="0.5" />
<line x1="245.64" y1="567.67" x2="245.64" y2="575.04" stroke="#1f4f8a" stroke-width="0.5" />
<line x1="244.74" y1="567.67" x2="246.54" y2="567.67" stroke="#1f4f8a" stroke-width="0.5" />
<line x1="244.74" y1="575.04" x2="246.54" y2="575.04" stroke="#1f4f8a" stroke-width="0.5" />
<line x1="255.48" y1="604.65" x2="255.48" y2="613.87" stroke="#1f4f8a" stroke-width="0.5" />
<line x1="254.58" y1="604.65" x2="256.38" y2="604.65" stroke="#1f4f8a" stroke-width="0.5" />
<line x1="254.58" y1="613.87" x2="256.38" y2="613.87" stroke="#1f4f8a" stroke-width="0.5" />
<line x1="265.32" y1="614.00" x2="265.32" y2="620.45" stroke="#1f4f8a" stroke-width="0.5" />
<line x1="264.42" y1="614.00" x2="266.22" y2="614.00" stroke="#1f4f8a" stroke-width="0.5" />
<line x1="264.42" y1="620.45" x2="266.22" y2="620.45" stroke="#1f4f8a" stroke-width="0.5" />
<line x1="275.16" y1="600.83" x2="275.16" y2="611.89" stroke="#1f4f8a" stroke-width="0.5" />
<line x1="274.26" y1="600.83" x2="276.06" y2="600.83" stroke="#1f4f8a" stroke-width="0.5" />
<line x1="274.26" y1="611.89" x2="276.06" y2="611.89" stroke="#1f4f8a" stroke-width="0.5" />
<line x1="285.00" y1="590.51" x2="285.00" y2="605.25" stroke="#1f4f8a" stroke-width="0.5" />
<line x1="284.10" y1="590.51" x2="285.90" y2="590.51" stroke="#1f4f8a" stroke-width="0.5" />
<line x1="284.10" y1="605.25" x2="285.90" y2="605.25" stroke="#1f4f8a" stroke-width="0.5" />
<line x1="294.84" y1="585.17" x2="294.84" y2="600.83" stroke="#1f4f8a" stroke-width="0.5" />
<line x1="293.94" y1="585.17" x2="295.74" y2="585.17" stroke="#1f4f8a" stroke-width="0.5" />
<line x1="293.94" y1="600.83" x2="295.74" y2="600.83" stroke="#1f4f8a" stroke-width="0.5" />
<line x1="304.68" y1="578.72" x2="304.68" y2="594.38" stroke="#1f4f8a" stroke-width="0.5" />
<line x1="303.78" y1="578.72" x2="305.58" y2="578.72" stroke="#1f4f8a" stroke-width="0.5" />
<line x1="303.78" y1="594.38" x2="305.58" y2="594.38" stroke="#1f4f8a" stroke-width="0.5" />
<line x1="314.52" y1="577.11" x2="314.52" y2="584.48" stroke="#1f4f8a" stroke-width="0.5" />
<line x1="313.62" y1="577.11" x2="315.42" y2="577.11" stroke="#1f4f8a" stroke-width="0.5" />
<line x1="313.62" y1="584.48" x2="315.42" y2="584.48" stroke="#1f4f8a" stroke-width="0.5" />
<line x1="324.36" y1="571.35" x2="324.36" y2="578.72" stroke="#1f4f8a" stroke-width="0.5" />
<line x1="323.46" y1="571.35" x2="325.26" y2="571.35" stroke="#1f4f8a" stroke-width="0.5" />
<line x1="323.46" y1="578.72" x2="325.26" y2="578.72" stroke="#1f4f8a" stroke-width="0.5" />
<line x1="334.20" y1="565.83" x2="334.20" y2="573.19" stroke="#1f4f8a" stroke-width="0.5" />
<line x1="333.30" y1="565.83" x2="335.10" y2="565.83" stroke="#1f4f8a" stroke-width="0.5" />
<line x1="333.30" y1="573.19" x2="335.10" y2="573.19" stroke="#1f4f8a" stroke-width="0.5" />
<polyline points="235.80,573.66 245.64,572.27 255.48,613.50 265.32,620.64 275.16,612.12 285.00,604.98 294.84,599.31 304.68,593.60 314.52,582.41 324.36,578.72 334.20,570.43" fill="none" stroke="#1f4f8a" stroke-width="1.25" stroke-dasharray="1.8,1.3" stroke-linejoin="round"/>
<circle cx="235.80" cy="573.66" r="1.1" fill="#1f4f8a"/>
<circle cx="245.64" cy="572.27" r="1.1" fill="#1f4f8a"/>
<circle cx="255.48" cy="613.50" r="1.1" fill="#1f4f8a"/>
<circle cx="265.32" cy="620.64" r="1.1" fill="#1f4f8a"/>
<circle cx="275.16" cy="612.12" r="1.1" fill="#1f4f8a"/>
<circle cx="285.00" cy="604.98" r="1.1" fill="#1f4f8a"/>
<circle cx="294.84" cy="599.31" r="1.1" fill="#1f4f8a"/>
<circle cx="304.68" cy="593.60" r="1.1" fill="#1f4f8a"/>
<circle cx="314.52" cy="582.41" r="1.1" fill="#1f4f8a"/>
<circle cx="324.36" cy="578.72" r="1.1" fill="#1f4f8a"/>
<circle cx="334.20" cy="570.43" r="1.1" fill="#1f4f8a"/>
<polyline points="235.80,574.12 245.64,572.73 255.48,614.65 265.32,621.10 275.16,612.81 285.00,605.44 294.84,599.91 304.68,594.38 314.52,582.87 324.36,579.18 334.20,570.89" fill="none" stroke="#2f5f9c" stroke-width="1.25" stroke-dasharray="0.9,1.3" stroke-linejoin="round"/>
<circle cx="235.80" cy="574.12" r="1.1" fill="#2f5f9c"/>
<circle cx="245.64" cy="572.73" r="1.1" fill="#2f5f9c"/>
<circle cx="255.48" cy="614.65" r="1.1" fill="#2f5f9c"/>
<circle cx="265.32" cy="621.10" r="1.1" fill="#2f5f9c"/>
<circle cx="275.16" cy="612.81" r="1.1" fill="#2f5f9c"/>
<circle cx="285.00" cy="605.44" r="1.1" fill="#2f5f9c"/>
<circle cx="294.84" cy="599.91" r="1.1" fill="#2f5f9c"/>
<circle cx="304.68" cy="594.38" r="1.1" fill="#2f5f9c"/>
<circle cx="314.52" cy="582.87" r="1.1" fill="#2f5f9c"/>
<circle cx="324.36" cy="579.18" r="1.1" fill="#2f5f9c"/>
<circle cx="334.20" cy="570.89" r="1.1" fill="#2f5f9c"/>
<polyline points="235.80,573.66 245.64,572.27 255.48,617.87 265.32,622.94 275.16,616.49 285.00,609.12 294.84,601.75 304.68,596.22 314.52,583.33 324.36,581.02 334.20,568.59" fill="none" stroke="#f39c12" stroke-width="1.25"  stroke-linejoin="round"/>
<circle cx="235.80" cy="573.66" r="1.1" fill="#f39c12"/>
<circle cx="245.64" cy="572.27" r="1.1" fill="#f39c12"/>
<circle cx="255.48" cy="617.87" r="1.1" fill="#f39c12"/>
<circle cx="265.32" cy="622.94" r="1.1" fill="#f39c12"/>
<circle cx="275.16" cy="616.49" r="1.1" fill="#f39c12"/>
<circle cx="285.00" cy="609.12" r="1.1" fill="#f39c12"/>
<circle cx="294.84" cy="601.75" r="1.1" fill="#f39c12"/>
<circle cx="304.68" cy="596.22" r="1.1" fill="#f39c12"/>
<circle cx="314.52" cy="583.33" r="1.1" fill="#f39c12"/>
<circle cx="324.36" cy="581.02" r="1.1" fill="#f39c12"/>
<circle cx="334.20" cy="568.59" r="1.1" fill="#f39c12"/>
<polyline points="235.80,573.19 245.64,572.73 255.48,619.25 265.32,622.25 275.16,617.23 285.00,610.13 294.84,601.57 304.68,597.28 314.52,583.60 324.36,583.60 334.20,569.51" fill="none" stroke="#d8301e" stroke-width="1.25"  stroke-linejoin="round"/>
<circle cx="235.80" cy="573.19" r="1.1" fill="#d8301e"/>
<circle cx="245.64" cy="572.73" r="1.1" fill="#d8301e"/>
<circle cx="255.48" cy="619.25" r="1.1" fill="#d8301e"/>
<circle cx="265.32" cy="622.25" r="1.1" fill="#d8301e"/>
<circle cx="275.16" cy="617.23" r="1.1" fill="#d8301e"/>
<circle cx="285.00" cy="610.13" r="1.1" fill="#d8301e"/>
<circle cx="294.84" cy="601.57" r="1.1" fill="#d8301e"/>
<circle cx="304.68" cy="597.28" r="1.1" fill="#d8301e"/>
<circle cx="314.52" cy="583.60" r="1.1" fill="#d8301e"/>
<circle cx="324.36" cy="583.60" r="1.1" fill="#d8301e"/>
<circle cx="334.20" cy="569.51" r="1.1" fill="#d8301e"/>
<polyline points="235.80,573.19 245.64,571.35 255.48,609.26 265.32,617.23 275.16,606.36 285.00,597.88 294.84,593.00 304.68,586.55 314.52,580.79 324.36,575.04 334.20,569.51" fill="none" stroke="#1f4f8a" stroke-width="1.25"  stroke-linejoin="round"/>
<circle cx="235.80" cy="573.19" r="1.1" fill="#1f4f8a"/>
<circle cx="245.64" cy="571.35" r="1.1" fill="#1f4f8a"/>
<circle cx="255.48" cy="609.26" r="1.1" fill="#1f4f8a"/>
<circle cx="265.32" cy="617.23" r="1.1" fill="#1f4f8a"/>
<circle cx="275.16" cy="606.36" r="1.1" fill="#1f4f8a"/>
<circle cx="285.00" cy="597.88" r="1.1" fill="#1f4f8a"/>
<circle cx="294.84" cy="593.00" r="1.1" fill="#1f4f8a"/>
<circle cx="304.68" cy="586.55" r="1.1" fill="#1f4f8a"/>
<circle cx="314.52" cy="580.79" r="1.1" fill="#1f4f8a"/>
<circle cx="324.36" cy="575.04" r="1.1" fill="#1f4f8a"/>
<circle cx="334.20" cy="569.51" r="1.1" fill="#1f4f8a"/>
<text x="277.40" y="546.50" font-size="10.0" textLength="16.20" lengthAdjust="spacingAndGlyphs" font-weight="normal" fill="#1e1e1e">PLT</text>
<text transform="translate(197.95,595.20) rotate(-90) scale(0.862,1)" font-size="10.0" text-anchor="middle" font-weight="normal" fill="#111" stroke="#111" stroke-width="0.3">10^9/L</text>
<text transform="translate(285.40,666.28) scale(0.775,1)" font-size="9.0" text-anchor="middle" font-weight="normal" fill="#111" stroke="#111" stroke-width="0.3">Days after IR (5.0 Gy)</text>
<text transform="translate(265.32,607.00)" font-size="7.5" text-anchor="middle" font-weight="bold" fill="#2a2a2a" >**</text>
<text transform="translate(265.32,608.80)" font-size="5.2" text-anchor="middle" font-weight="bold" fill="#3a3a3a" >#</text>
<text transform="translate(265.32,612.50)" font-size="5.2" text-anchor="middle" font-weight="bold" fill="#3a3a3a" >†</text>
<text transform="translate(275.16,591.50)" font-size="7.5" text-anchor="middle" font-weight="bold" fill="#2a2a2a" >**</text>
<text transform="translate(275.16,593.40)" font-size="5.2" text-anchor="middle" font-weight="bold" fill="#3a3a3a" >#</text>
<text transform="translate(275.16,597.60)" font-size="5.2" text-anchor="middle" font-weight="bold" fill="#3a3a3a" >†</text>
<text transform="translate(285.00,579.50)" font-size="7.5" text-anchor="middle" font-weight="bold" fill="#2a2a2a" >**</text>
<text transform="translate(285.00,581.50)" font-size="5.2" text-anchor="middle" font-weight="bold" fill="#3a3a3a" >#</text>
<text transform="translate(285.00,585.50)" font-size="5.2" text-anchor="middle" font-weight="bold" fill="#3a3a3a" >†</text>
<text transform="translate(294.84,577.10)" font-size="7.5" text-anchor="middle" font-weight="bold" fill="#2a2a2a" >**</text>
<text transform="translate(294.84,578.90)" font-size="5.2" text-anchor="middle" font-weight="bold" fill="#3a3a3a" >#</text>
<text transform="translate(294.84,582.80)" font-size="5.2" text-anchor="middle" font-weight="bold" fill="#3a3a3a" >†</text>
<text transform="translate(304.68,568.90)" font-size="7.5" text-anchor="middle" font-weight="bold" fill="#2a2a2a" >*</text>
<text transform="translate(304.68,570.70)" font-size="5.2" text-anchor="middle" font-weight="bold" fill="#3a3a3a" >#</text>
<text transform="translate(304.68,574.70)" font-size="5.2" text-anchor="middle" font-weight="bold" fill="#3a3a3a" >†</text>
<line x1="205.10" y1="678.60" x2="214.30" y2="678.60" stroke="#d8301e" stroke-width="0.9" />
<circle cx="209.70" cy="678.60" r="1.0" fill="#d8301e"/>
<text transform="translate(217.10,681.50)" font-size="8.1" text-anchor="start" font-weight="normal" fill="#222" >WT + IR</text>
<line x1="205.10" y1="686.30" x2="214.30" y2="686.30" stroke="#f39c12" stroke-width="0.9" />
<circle cx="209.70" cy="686.30" r="1.0" fill="#f39c12"/>
<text transform="translate(217.10,689.20)" font-size="8.1" text-anchor="start" font-weight="normal" fill="#222" >WT + IR + Saline + Vehicle</text>
<line x1="205.10" y1="694.00" x2="214.30" y2="694.00" stroke="#1f4f8a" stroke-width="0.9" />
<circle cx="209.70" cy="694.00" r="1.0" fill="#1f4f8a"/>
<text transform="translate(217.10,696.90)" font-size="8.1" text-anchor="start" font-weight="normal" fill="#222" >WT + IR + α-MSH + Vehicle</text>
<line x1="205.10" y1="701.80" x2="214.30" y2="701.80" stroke="#1f4f8a" stroke-width="0.9" stroke-dasharray="1.5,1.2"/>
<circle cx="209.70" cy="701.80" r="1.0" fill="#1f4f8a"/>
<text transform="translate(217.10,704.70)" font-size="8.1" text-anchor="start" font-weight="normal" fill="#222" >WT + IR + α-MSH + MK-2206</text>
<line x1="205.10" y1="709.60" x2="214.30" y2="709.60" stroke="#2f5f9c" stroke-width="0.9" stroke-dasharray="0.8,1.2"/>
<circle cx="209.70" cy="709.60" r="1.0" fill="#2f5f9c"/>
<text transform="translate(217.10,712.50)" font-size="8.1" text-anchor="start" font-weight="normal" fill="#222" >WT + IR + α-MSH + PD325901</text>
<path d="M317.40,687.20 H320.50 V695.00 H317.40" fill="none" stroke="#333" stroke-width="0.75"/>
<path d="M325.70,696.20 H328.60 V703.30 H325.70" fill="none" stroke="#333" stroke-width="0.75"/>
<path d="M337.30,696.20 H339.90 V711.10 H337.30" fill="none" stroke="#333" stroke-width="0.75"/>
<text transform="translate(323.60,694.55)" font-size="7.5" text-anchor="middle" font-weight="bold" fill="#2a2a2a" >*</text>
<text transform="translate(332.10,703.80)" font-size="7.5" text-anchor="middle" font-weight="bold" fill="#2a2a2a" >*</text>
<text transform="translate(344.20,704.60)" font-size="6" text-anchor="middle" font-weight="normal" fill="#333" >†</text>
<text transform="translate(354.90,533.00)" font-size="12" text-anchor="start" font-weight="bold" fill="#000" >I</text>
<line x1="396.90" y1="638.70" x2="396.90" y2="554.90" stroke="#222" stroke-width="1.1" />
<line x1="393.90" y1="638.70" x2="396.90" y2="638.70" stroke="#222" stroke-width="1.1" />
<text transform="translate(390.30,641.65)" font-size="8.2" text-anchor="end" font-weight="normal" fill="#333" >0</text>
<line x1="393.90" y1="622.04" x2="396.90" y2="622.04" stroke="#222" stroke-width="1.1" />
<text transform="translate(390.30,624.99)" font-size="8.2" text-anchor="end" font-weight="normal" fill="#333" >20</text>
<line x1="393.90" y1="605.38" x2="396.90" y2="605.38" stroke="#222" stroke-width="1.1" />
<text transform="translate(390.30,608.33)" font-size="8.2" text-anchor="end" font-weight="normal" fill="#333" >40</text>
<line x1="393.90" y1="588.72" x2="396.90" y2="588.72" stroke="#222" stroke-width="1.1" />
<text transform="translate(390.30,591.67)" font-size="8.2" text-anchor="end" font-weight="normal" fill="#333" >60</text>
<line x1="393.90" y1="572.06" x2="396.90" y2="572.06" stroke="#222" stroke-width="1.1" />
<text transform="translate(390.30,575.01)" font-size="8.2" text-anchor="end" font-weight="normal" fill="#333" >80</text>
<line x1="393.90" y1="555.40" x2="396.90" y2="555.40" stroke="#222" stroke-width="1.1" />
<text transform="translate(390.30,558.35)" font-size="8.2" text-anchor="end" font-weight="normal" fill="#333" >100</text>
<line x1="396.90" y1="638.70" x2="511.00" y2="638.70" stroke="#222" stroke-width="1.1" />
<line x1="396.90" y1="638.70" x2="396.90" y2="641.50" stroke="#222" stroke-width="0.9" />
<text transform="translate(396.90,652.10)" font-size="8.2" text-anchor="middle" font-weight="normal" fill="#333" >0</text>
<line x1="433.85" y1="638.70" x2="433.85" y2="641.50" stroke="#222" stroke-width="0.9" />
<text transform="translate(433.85,652.10)" font-size="8.2" text-anchor="middle" font-weight="normal" fill="#333" >10</text>
<line x1="470.80" y1="638.70" x2="470.80" y2="641.50" stroke="#222" stroke-width="0.9" />
<text transform="translate(470.80,652.10)" font-size="8.2" text-anchor="middle" font-weight="normal" fill="#333" >20</text>
<line x1="507.75" y1="638.70" x2="507.75" y2="641.50" stroke="#222" stroke-width="0.9" />
<text transform="translate(507.75,652.10)" font-size="8.2" text-anchor="middle" font-weight="normal" fill="#333" >30</text>
<polyline points="396.90,555.40 437.54,555.40 437.54,563.73 441.24,563.73 441.24,572.06 448.63,572.06 448.63,588.72 459.71,588.72 459.71,605.38 463.41,605.38 463.41,613.71 470.80,613.71 470.80,622.04 474.50,622.04 474.50,630.37 492.97,630.37 492.97,638.70" fill="none" stroke="#3a6fb0" stroke-width="1.0" stroke-dasharray="0.9,1.0"/>
<polyline points="396.90,555.40 433.85,555.40 433.85,563.73 441.24,563.73 441.24,572.06 444.93,572.06 444.93,588.72 456.02,588.72 456.02,605.38 463.41,605.38 463.41,613.71 470.80,613.71 470.80,622.04 478.19,622.04 478.19,630.37 485.58,630.37 485.58,638.70" fill="none" stroke="#1b5aa0" stroke-width="1.0" stroke-dasharray="2.0,1.2"/>
<polyline points="396.90,555.40 430.15,555.40 430.15,572.06 433.85,572.06 433.85,580.39 444.93,580.39 444.93,597.05 452.32,597.05 452.32,613.71 459.71,613.71 459.71,622.04 463.41,622.04 463.41,630.37 474.50,630.37 474.50,638.70" fill="none" stroke="#f39c12" stroke-width="1.1" />
<polyline points="396.90,555.40 426.46,555.40 426.46,563.73 433.85,563.73 433.85,572.06 441.24,572.06 441.24,580.39 444.93,580.39 444.93,588.72 448.63,588.72 448.63,613.71 467.10,613.71 467.10,630.37 470.80,630.37 470.80,638.70" fill="none" stroke="#d0245a" stroke-width="1.1" />
<polyline points="396.90,555.40 448.63,555.40 448.63,563.73 452.32,563.73 452.32,572.06 463.41,572.06 463.41,588.72 470.80,588.72 470.80,597.05 492.97,597.05 492.97,613.71 507.75,613.71 507.75,613.71" fill="none" stroke="#2b64a8" stroke-width="1.1" />
<line x1="507.75" y1="612.51" x2="507.75" y2="614.91" stroke="#2b64a8" stroke-width="0.8"/>
<text transform="translate(498.51,605.90)" font-size="7.5" text-anchor="middle" font-weight="bold" fill="#2a2a2a" >**</text>
<text transform="translate(498.51,607.90)" font-size="5.2" text-anchor="middle" font-weight="bold" fill="#3a3a3a" >#</text>
<text transform="translate(498.51,612.10)" font-size="5.2" text-anchor="middle" font-weight="bold" fill="#3a3a3a" >†</text>
<text transform="translate(370.13,595.75) rotate(-90) scale(0.796,1)" font-size="9.0" text-anchor="middle" font-weight="normal" fill="#111" stroke="#111" stroke-width="0.3">Percent survival (%)</text>
<text transform="translate(453.60,666.28) scale(0.769,1)" font-size="9.0" text-anchor="middle" font-weight="normal" fill="#111" stroke="#111" stroke-width="0.3">Days after IR (7.5 Gy)</text>
<line x1="371.30" y1="678.60" x2="380.70" y2="678.60" stroke="#d0245a" stroke-width="1.0" />
<text transform="translate(383.60,681.50)" font-size="8.1" text-anchor="start" font-weight="normal" fill="#222" >WT + IR</text>
<line x1="371.30" y1="686.30" x2="380.70" y2="686.30" stroke="#f39c12" stroke-width="1.0" />
<text transform="translate(383.60,689.20)" font-size="8.1" text-anchor="start" font-weight="normal" fill="#222" >WT + IR + Saline + Vehicle</text>
<line x1="371.30" y1="694.00" x2="380.70" y2="694.00" stroke="#1b5aa0" stroke-width="1.0" />
<text transform="translate(383.60,696.90)" font-size="8.1" text-anchor="start" font-weight="normal" fill="#222" >WT + IR + α-MSH + Vehicle</text>
<line x1="371.30" y1="701.80" x2="380.70" y2="701.80" stroke="#1b5aa0" stroke-width="1.0" stroke-dasharray="2.0,1.3"/>
<text transform="translate(383.60,704.70)" font-size="8.1" text-anchor="start" font-weight="normal" fill="#222" >WT + IR + α-MSH + MK-2206</text>
<line x1="371.30" y1="709.60" x2="380.70" y2="709.60" stroke="#1a4f8f" stroke-width="1.0" stroke-dasharray="0.8,1.0"/>
<text transform="translate(383.60,712.50)" font-size="8.1" text-anchor="start" font-weight="normal" fill="#222" >WT + IR + α-MSH + PD325901</text>
<path d="M483.50,687.20 H486.60 V695.00 H483.50" fill="none" stroke="#333" stroke-width="0.75"/>
<path d="M492.30,696.20 H495.20 V703.30 H492.30" fill="none" stroke="#333" stroke-width="0.75"/>
<path d="M503.70,696.20 H506.30 V711.10 H503.70" fill="none" stroke="#333" stroke-width="0.75"/>
<text transform="translate(489.70,694.55)" font-size="7.5" text-anchor="middle" font-weight="bold" fill="#2a2a2a" >*</text>
<text transform="translate(498.70,703.80)" font-size="7.5" text-anchor="middle" font-weight="bold" fill="#2a2a2a" >*</text>
<text transform="translate(510.60,704.60)" font-size="6" text-anchor="middle" font-weight="normal" fill="#333" >†</text>
<rect x="0.00" y="0.00" width="520.00" height="1.00" fill="#5a5a5a" />
<rect x="0.00" y="0.00" width="1.00" height="723.00" fill="#c8c8c8" />
<rect x="1.00" y="0.00" width="1.00" height="723.00" fill="#9a9a9a" />
<rect x="518.00" y="0.00" width="1.00" height="723.00" fill="#a4a4a4" />
<rect x="519.00" y="0.00" width="1.00" height="723.00" fill="#8a8a8a" />
<rect x="0.00" y="721.00" width="520.00" height="1.00" fill="#cfcfcf" />
<rect x="0.00" y="722.00" width="520.00" height="1.00" fill="#4a4a4a" />
</svg>
</body></html>
